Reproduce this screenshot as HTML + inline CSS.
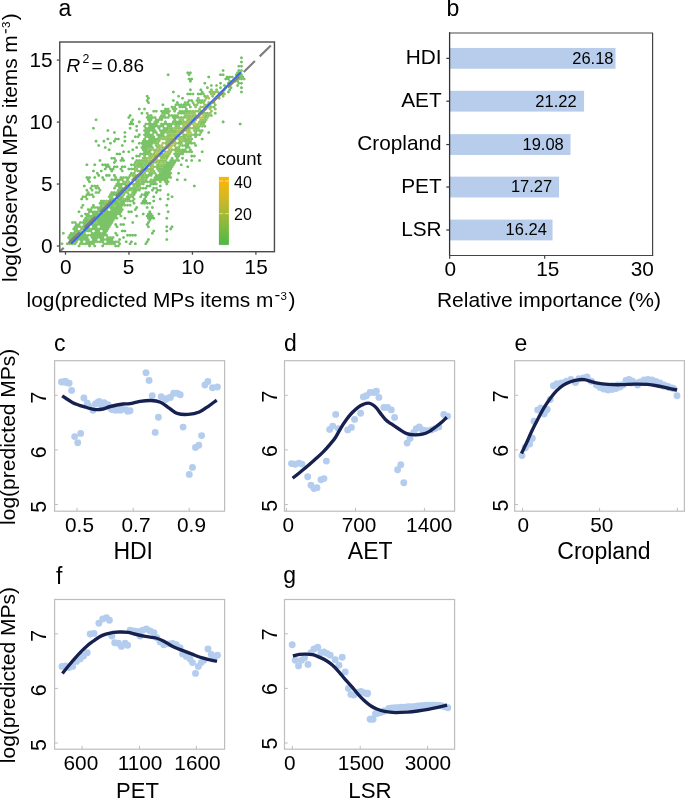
<!DOCTYPE html>
<html><head><meta charset="utf-8"><style>
html,body{margin:0;padding:0;background:#fff;}
svg{display:block;will-change:transform;}
text{font-family:"Liberation Sans", sans-serif;fill:#000;}
</style></head><body>
<svg width="685" height="800" viewBox="0 0 685 800">
<rect width="685" height="800" fill="#fff"/>
<path d="M168.11,76.31l-1.39,-0.76 0.00,-1.51 1.39,-0.76 1.39,0.76 0.00,1.51zM187.76,74.17l-1.39,-0.76 0.00,-1.51 1.39,-0.76 1.39,0.76 0.00,1.51zM190.38,74.17l-1.39,-0.76 0.00,-1.51 1.39,-0.76 1.39,0.76 0.00,1.51zM189.07,76.31l-1.39,-0.76 0.00,-1.51 1.39,-0.76 1.39,0.76 0.00,1.51zM189.07,80.59l-1.39,-0.76 0.00,-1.51 1.39,-0.76 1.39,0.76 0.00,1.51zM191.69,80.59l-1.39,-0.76 0.00,-1.51 1.39,-0.76 1.39,0.76 0.00,1.51zM190.38,82.73l-1.39,-0.76 0.00,-1.51 1.39,-0.76 1.39,0.76 0.00,1.51zM190.38,91.29l-1.39,-0.76 0.00,-1.51 1.39,-0.76 1.39,0.76 0.00,1.51zM187.76,95.57l-1.39,-0.76 0.00,-1.51 1.39,-0.76 1.39,0.76 0.00,1.51zM190.38,95.57l-1.39,-0.76 0.00,-1.51 1.39,-0.76 1.39,0.76 0.00,1.51zM173.35,93.43l-1.39,-0.76 0.00,-1.51 1.39,-0.76 1.39,0.76 0.00,1.51zM147.15,97.71l-1.39,-0.76 0.00,-1.51 1.39,-0.76 1.39,0.76 0.00,1.51zM148.46,99.85l-1.39,-0.76 0.00,-1.51 1.39,-0.76 1.39,0.76 0.00,1.51zM147.15,101.99l-1.39,-0.76 0.00,-1.51 1.39,-0.76 1.39,0.76 0.00,1.51zM148.46,104.13l-1.39,-0.76 0.00,-1.51 1.39,-0.76 1.39,0.76 0.00,1.51zM139.29,110.55l-1.39,-0.76 0.00,-1.51 1.39,-0.76 1.39,0.76 0.00,1.51zM162.87,106.27l-1.39,-0.76 0.00,-1.51 1.39,-0.76 1.39,0.76 0.00,1.51zM173.35,101.99l-1.39,-0.76 0.00,-1.51 1.39,-0.76 1.39,0.76 0.00,1.51zM172.04,108.41l-1.39,-0.76 0.00,-1.51 1.39,-0.76 1.39,0.76 0.00,1.51zM161.56,112.69l-1.39,-0.76 0.00,-1.51 1.39,-0.76 1.39,0.76 0.00,1.51zM182.52,99.85l-1.39,-0.76 0.00,-1.51 1.39,-0.76 1.39,0.76 0.00,1.51zM189.07,101.99l-1.39,-0.76 0.00,-1.51 1.39,-0.76 1.39,0.76 0.00,1.51zM191.69,101.99l-1.39,-0.76 0.00,-1.51 1.39,-0.76 1.39,0.76 0.00,1.51zM187.76,104.13l-1.39,-0.76 0.00,-1.51 1.39,-0.76 1.39,0.76 0.00,1.51zM200.86,91.29l-1.39,-0.76 0.00,-1.51 1.39,-0.76 1.39,0.76 0.00,1.51zM202.17,93.43l-1.39,-0.76 0.00,-1.51 1.39,-0.76 1.39,0.76 0.00,1.51zM198.24,95.57l-1.39,-0.76 0.00,-1.51 1.39,-0.76 1.39,0.76 0.00,1.51zM200.86,95.57l-1.39,-0.76 0.00,-1.51 1.39,-0.76 1.39,0.76 0.00,1.51zM199.55,101.99l-1.39,-0.76 0.00,-1.51 1.39,-0.76 1.39,0.76 0.00,1.51zM177.28,104.13l-1.39,-0.76 0.00,-1.51 1.39,-0.76 1.39,0.76 0.00,1.51zM178.59,106.27l-1.39,-0.76 0.00,-1.51 1.39,-0.76 1.39,0.76 0.00,1.51zM183.83,106.27l-1.39,-0.76 0.00,-1.51 1.39,-0.76 1.39,0.76 0.00,1.51zM241.47,59.19l-1.39,-0.76 0.00,-1.51 1.39,-0.76 1.39,0.76 0.00,1.51zM241.47,63.47l-1.39,-0.76 0.00,-1.51 1.39,-0.76 1.39,0.76 0.00,1.51zM241.47,67.75l-1.39,-0.76 0.00,-1.51 1.39,-0.76 1.39,0.76 0.00,1.51zM238.85,72.03l-1.39,-0.76 0.00,-1.51 1.39,-0.76 1.39,0.76 0.00,1.51zM241.47,80.59l-1.39,-0.76 0.00,-1.51 1.39,-0.76 1.39,0.76 0.00,1.51zM238.85,84.87l-1.39,-0.76 0.00,-1.51 1.39,-0.76 1.39,0.76 0.00,1.51zM241.47,84.87l-1.39,-0.76 0.00,-1.51 1.39,-0.76 1.39,0.76 0.00,1.51zM241.47,89.15l-1.39,-0.76 0.00,-1.51 1.39,-0.76 1.39,0.76 0.00,1.51zM241.47,93.43l-1.39,-0.76 0.00,-1.51 1.39,-0.76 1.39,0.76 0.00,1.51zM223.13,72.03l-1.39,-0.76 0.00,-1.51 1.39,-0.76 1.39,0.76 0.00,1.51zM220.51,76.31l-1.39,-0.76 0.00,-1.51 1.39,-0.76 1.39,0.76 0.00,1.51zM223.13,76.31l-1.39,-0.76 0.00,-1.51 1.39,-0.76 1.39,0.76 0.00,1.51zM208.72,78.45l-1.39,-0.76 0.00,-1.51 1.39,-0.76 1.39,0.76 0.00,1.51zM204.79,84.87l-1.39,-0.76 0.00,-1.51 1.39,-0.76 1.39,0.76 0.00,1.51zM207.41,89.15l-1.39,-0.76 0.00,-1.51 1.39,-0.76 1.39,0.76 0.00,1.51zM220.51,84.87l-1.39,-0.76 0.00,-1.51 1.39,-0.76 1.39,0.76 0.00,1.51zM224.44,87.01l-1.39,-0.76 0.00,-1.51 1.39,-0.76 1.39,0.76 0.00,1.51zM225.75,80.59l-1.39,-0.76 0.00,-1.51 1.39,-0.76 1.39,0.76 0.00,1.51zM227.06,78.45l-1.39,-0.76 0.00,-1.51 1.39,-0.76 1.39,0.76 0.00,1.51zM229.68,78.45l-1.39,-0.76 0.00,-1.51 1.39,-0.76 1.39,0.76 0.00,1.51zM228.37,80.59l-1.39,-0.76 0.00,-1.51 1.39,-0.76 1.39,0.76 0.00,1.51zM228.37,84.87l-1.39,-0.76 0.00,-1.51 1.39,-0.76 1.39,0.76 0.00,1.51zM230.99,89.15l-1.39,-0.76 0.00,-1.51 1.39,-0.76 1.39,0.76 0.00,1.51zM229.68,91.29l-1.39,-0.76 0.00,-1.51 1.39,-0.76 1.39,0.76 0.00,1.51zM228.37,93.43l-1.39,-0.76 0.00,-1.51 1.39,-0.76 1.39,0.76 0.00,1.51zM204.79,97.71l-1.39,-0.76 0.00,-1.51 1.39,-0.76 1.39,0.76 0.00,1.51zM96.06,121.25l-1.39,-0.76 0.00,-1.51 1.39,-0.76 1.39,0.76 0.00,1.51zM93.44,129.81l-1.39,-0.76 0.00,-1.51 1.39,-0.76 1.39,0.76 0.00,1.51zM107.85,131.95l-1.39,-0.76 0.00,-1.51 1.39,-0.76 1.39,0.76 0.00,1.51zM114.40,134.09l-1.39,-0.76 0.00,-1.51 1.39,-0.76 1.39,0.76 0.00,1.51zM124.88,134.09l-1.39,-0.76 0.00,-1.51 1.39,-0.76 1.39,0.76 0.00,1.51zM124.88,138.37l-1.39,-0.76 0.00,-1.51 1.39,-0.76 1.39,0.76 0.00,1.51zM124.88,142.65l-1.39,-0.76 0.00,-1.51 1.39,-0.76 1.39,0.76 0.00,1.51zM107.85,140.51l-1.39,-0.76 0.00,-1.51 1.39,-0.76 1.39,0.76 0.00,1.51zM96.06,142.65l-1.39,-0.76 0.00,-1.51 1.39,-0.76 1.39,0.76 0.00,1.51zM103.92,142.65l-1.39,-0.76 0.00,-1.51 1.39,-0.76 1.39,0.76 0.00,1.51zM98.68,146.93l-1.39,-0.76 0.00,-1.51 1.39,-0.76 1.39,0.76 0.00,1.51zM105.23,149.07l-1.39,-0.76 0.00,-1.51 1.39,-0.76 1.39,0.76 0.00,1.51zM109.16,151.21l-1.39,-0.76 0.00,-1.51 1.39,-0.76 1.39,0.76 0.00,1.51zM110.47,144.79l-1.39,-0.76 0.00,-1.51 1.39,-0.76 1.39,0.76 0.00,1.51zM114.40,142.65l-1.39,-0.76 0.00,-1.51 1.39,-0.76 1.39,0.76 0.00,1.51zM115.71,140.51l-1.39,-0.76 0.00,-1.51 1.39,-0.76 1.39,0.76 0.00,1.51zM118.33,140.51l-1.39,-0.76 0.00,-1.51 1.39,-0.76 1.39,0.76 0.00,1.51zM122.26,146.93l-1.39,-0.76 0.00,-1.51 1.39,-0.76 1.39,0.76 0.00,1.51zM117.02,155.49l-1.39,-0.76 0.00,-1.51 1.39,-0.76 1.39,0.76 0.00,1.51zM119.64,155.49l-1.39,-0.76 0.00,-1.51 1.39,-0.76 1.39,0.76 0.00,1.51zM123.57,153.35l-1.39,-0.76 0.00,-1.51 1.39,-0.76 1.39,0.76 0.00,1.51zM128.81,153.35l-1.39,-0.76 0.00,-1.51 1.39,-0.76 1.39,0.76 0.00,1.51zM99.99,161.91l-1.39,-0.76 0.00,-1.51 1.39,-0.76 1.39,0.76 0.00,1.51zM111.78,159.77l-1.39,-0.76 0.00,-1.51 1.39,-0.76 1.39,0.76 0.00,1.51zM114.40,159.77l-1.39,-0.76 0.00,-1.51 1.39,-0.76 1.39,0.76 0.00,1.51zM115.71,161.91l-1.39,-0.76 0.00,-1.51 1.39,-0.76 1.39,0.76 0.00,1.51zM114.40,164.05l-1.39,-0.76 0.00,-1.51 1.39,-0.76 1.39,0.76 0.00,1.51zM120.95,161.91l-1.39,-0.76 0.00,-1.51 1.39,-0.76 1.39,0.76 0.00,1.51zM122.26,159.77l-1.39,-0.76 0.00,-1.51 1.39,-0.76 1.39,0.76 0.00,1.51zM123.57,161.91l-1.39,-0.76 0.00,-1.51 1.39,-0.76 1.39,0.76 0.00,1.51zM86.89,166.19l-1.39,-0.76 0.00,-1.51 1.39,-0.76 1.39,0.76 0.00,1.51zM94.75,166.19l-1.39,-0.76 0.00,-1.51 1.39,-0.76 1.39,0.76 0.00,1.51zM102.61,166.19l-1.39,-0.76 0.00,-1.51 1.39,-0.76 1.39,0.76 0.00,1.51zM105.23,166.19l-1.39,-0.76 0.00,-1.51 1.39,-0.76 1.39,0.76 0.00,1.51zM106.54,168.33l-1.39,-0.76 0.00,-1.51 1.39,-0.76 1.39,0.76 0.00,1.51zM107.85,166.19l-1.39,-0.76 0.00,-1.51 1.39,-0.76 1.39,0.76 0.00,1.51zM109.16,168.33l-1.39,-0.76 0.00,-1.51 1.39,-0.76 1.39,0.76 0.00,1.51zM110.47,170.47l-1.39,-0.76 0.00,-1.51 1.39,-0.76 1.39,0.76 0.00,1.51zM113.09,170.47l-1.39,-0.76 0.00,-1.51 1.39,-0.76 1.39,0.76 0.00,1.51zM114.40,168.33l-1.39,-0.76 0.00,-1.51 1.39,-0.76 1.39,0.76 0.00,1.51zM117.02,168.33l-1.39,-0.76 0.00,-1.51 1.39,-0.76 1.39,0.76 0.00,1.51zM105.23,170.47l-1.39,-0.76 0.00,-1.51 1.39,-0.76 1.39,0.76 0.00,1.51zM111.78,172.61l-1.39,-0.76 0.00,-1.51 1.39,-0.76 1.39,0.76 0.00,1.51zM120.95,170.47l-1.39,-0.76 0.00,-1.51 1.39,-0.76 1.39,0.76 0.00,1.51zM122.26,168.33l-1.39,-0.76 0.00,-1.51 1.39,-0.76 1.39,0.76 0.00,1.51zM124.88,168.33l-1.39,-0.76 0.00,-1.51 1.39,-0.76 1.39,0.76 0.00,1.51zM128.81,170.47l-1.39,-0.76 0.00,-1.51 1.39,-0.76 1.39,0.76 0.00,1.51zM93.44,172.61l-1.39,-0.76 0.00,-1.51 1.39,-0.76 1.39,0.76 0.00,1.51zM101.30,172.61l-1.39,-0.76 0.00,-1.51 1.39,-0.76 1.39,0.76 0.00,1.51zM97.37,174.75l-1.39,-0.76 0.00,-1.51 1.39,-0.76 1.39,0.76 0.00,1.51zM98.68,176.89l-1.39,-0.76 0.00,-1.51 1.39,-0.76 1.39,0.76 0.00,1.51zM102.61,179.03l-1.39,-0.76 0.00,-1.51 1.39,-0.76 1.39,0.76 0.00,1.51zM103.92,181.17l-1.39,-0.76 0.00,-1.51 1.39,-0.76 1.39,0.76 0.00,1.51zM106.54,176.89l-1.39,-0.76 0.00,-1.51 1.39,-0.76 1.39,0.76 0.00,1.51zM109.16,176.89l-1.39,-0.76 0.00,-1.51 1.39,-0.76 1.39,0.76 0.00,1.51zM114.40,176.89l-1.39,-0.76 0.00,-1.51 1.39,-0.76 1.39,0.76 0.00,1.51zM115.71,179.03l-1.39,-0.76 0.00,-1.51 1.39,-0.76 1.39,0.76 0.00,1.51zM111.78,181.17l-1.39,-0.76 0.00,-1.51 1.39,-0.76 1.39,0.76 0.00,1.51zM86.89,179.03l-1.39,-0.76 0.00,-1.51 1.39,-0.76 1.39,0.76 0.00,1.51zM88.20,181.17l-1.39,-0.76 0.00,-1.51 1.39,-0.76 1.39,0.76 0.00,1.51zM89.51,179.03l-1.39,-0.76 0.00,-1.51 1.39,-0.76 1.39,0.76 0.00,1.51zM94.75,179.03l-1.39,-0.76 0.00,-1.51 1.39,-0.76 1.39,0.76 0.00,1.51zM130.12,116.97l-1.39,-0.76 0.00,-1.51 1.39,-0.76 1.39,0.76 0.00,1.51zM131.43,123.39l-1.39,-0.76 0.00,-1.51 1.39,-0.76 1.39,0.76 0.00,1.51zM130.12,129.81l-1.39,-0.76 0.00,-1.51 1.39,-0.76 1.39,0.76 0.00,1.51zM131.43,166.19l-1.39,-0.76 0.00,-1.51 1.39,-0.76 1.39,0.76 0.00,1.51zM131.43,174.75l-1.39,-0.76 0.00,-1.51 1.39,-0.76 1.39,0.76 0.00,1.51zM128.81,119.11l-1.39,-0.76 0.00,-1.51 1.39,-0.76 1.39,0.76 0.00,1.51zM132.74,125.53l-1.39,-0.76 0.00,-1.51 1.39,-0.76 1.39,0.76 0.00,1.51zM130.12,125.53l-1.39,-0.76 0.00,-1.51 1.39,-0.76 1.39,0.76 0.00,1.51zM132.74,121.25l-1.39,-0.76 0.00,-1.51 1.39,-0.76 1.39,0.76 0.00,1.51zM136.67,127.67l-1.39,-0.76 0.00,-1.51 1.39,-0.76 1.39,0.76 0.00,1.51zM136.67,131.95l-1.39,-0.76 0.00,-1.51 1.39,-0.76 1.39,0.76 0.00,1.51zM135.36,138.37l-1.39,-0.76 0.00,-1.51 1.39,-0.76 1.39,0.76 0.00,1.51zM139.29,136.23l-1.39,-0.76 0.00,-1.51 1.39,-0.76 1.39,0.76 0.00,1.51zM132.74,142.65l-1.39,-0.76 0.00,-1.51 1.39,-0.76 1.39,0.76 0.00,1.51zM139.29,144.79l-1.39,-0.76 0.00,-1.51 1.39,-0.76 1.39,0.76 0.00,1.51zM136.67,149.07l-1.39,-0.76 0.00,-1.51 1.39,-0.76 1.39,0.76 0.00,1.51zM132.74,151.21l-1.39,-0.76 0.00,-1.51 1.39,-0.76 1.39,0.76 0.00,1.51zM136.67,157.63l-1.39,-0.76 0.00,-1.51 1.39,-0.76 1.39,0.76 0.00,1.51zM132.74,159.77l-1.39,-0.76 0.00,-1.51 1.39,-0.76 1.39,0.76 0.00,1.51zM141.91,114.83l-1.39,-0.76 0.00,-1.51 1.39,-0.76 1.39,0.76 0.00,1.51zM151.08,116.97l-1.39,-0.76 0.00,-1.51 1.39,-0.76 1.39,0.76 0.00,1.51zM162.87,114.83l-1.39,-0.76 0.00,-1.51 1.39,-0.76 1.39,0.76 0.00,1.51zM199.55,136.23l-1.39,-0.76 0.00,-1.51 1.39,-0.76 1.39,0.76 0.00,1.51zM202.17,140.51l-1.39,-0.76 0.00,-1.51 1.39,-0.76 1.39,0.76 0.00,1.51zM202.17,153.35l-1.39,-0.76 0.00,-1.51 1.39,-0.76 1.39,0.76 0.00,1.51zM191.69,157.63l-1.39,-0.76 0.00,-1.51 1.39,-0.76 1.39,0.76 0.00,1.51zM191.69,161.91l-1.39,-0.76 0.00,-1.51 1.39,-0.76 1.39,0.76 0.00,1.51zM199.55,161.91l-1.39,-0.76 0.00,-1.51 1.39,-0.76 1.39,0.76 0.00,1.51zM182.52,159.77l-1.39,-0.76 0.00,-1.51 1.39,-0.76 1.39,0.76 0.00,1.51zM186.45,161.91l-1.39,-0.76 0.00,-1.51 1.39,-0.76 1.39,0.76 0.00,1.51zM187.76,168.33l-1.39,-0.76 0.00,-1.51 1.39,-0.76 1.39,0.76 0.00,1.51zM178.59,174.75l-1.39,-0.76 0.00,-1.51 1.39,-0.76 1.39,0.76 0.00,1.51zM177.28,181.17l-1.39,-0.76 0.00,-1.51 1.39,-0.76 1.39,0.76 0.00,1.51zM185.14,181.17l-1.39,-0.76 0.00,-1.51 1.39,-0.76 1.39,0.76 0.00,1.51zM181.21,166.19l-1.39,-0.76 0.00,-1.51 1.39,-0.76 1.39,0.76 0.00,1.51zM215.27,114.83l-1.39,-0.76 0.00,-1.51 1.39,-0.76 1.39,0.76 0.00,1.51zM206.10,116.97l-1.39,-0.76 0.00,-1.51 1.39,-0.76 1.39,0.76 0.00,1.51zM204.79,127.67l-1.39,-0.76 0.00,-1.51 1.39,-0.76 1.39,0.76 0.00,1.51zM223.13,123.39l-1.39,-0.76 0.00,-1.51 1.39,-0.76 1.39,0.76 0.00,1.51zM240.16,125.53l-1.39,-0.76 0.00,-1.51 1.39,-0.76 1.39,0.76 0.00,1.51zM208.72,134.09l-1.39,-0.76 0.00,-1.51 1.39,-0.76 1.39,0.76 0.00,1.51zM84.27,187.59l-1.39,-0.76 0.00,-1.51 1.39,-0.76 1.39,0.76 0.00,1.51zM92.13,187.59l-1.39,-0.76 0.00,-1.51 1.39,-0.76 1.39,0.76 0.00,1.51zM86.89,191.87l-1.39,-0.76 0.00,-1.51 1.39,-0.76 1.39,0.76 0.00,1.51zM98.68,189.73l-1.39,-0.76 0.00,-1.51 1.39,-0.76 1.39,0.76 0.00,1.51zM81.65,200.43l-1.39,-0.76 0.00,-1.51 1.39,-0.76 1.39,0.76 0.00,1.51zM82.96,206.85l-1.39,-0.76 0.00,-1.51 1.39,-0.76 1.39,0.76 0.00,1.51zM79.03,213.27l-1.39,-0.76 0.00,-1.51 1.39,-0.76 1.39,0.76 0.00,1.51zM81.65,217.55l-1.39,-0.76 0.00,-1.51 1.39,-0.76 1.39,0.76 0.00,1.51zM85.58,215.41l-1.39,-0.76 0.00,-1.51 1.39,-0.76 1.39,0.76 0.00,1.51zM89.51,183.31l-1.39,-0.76 0.00,-1.51 1.39,-0.76 1.39,0.76 0.00,1.51zM115.71,226.11l-1.39,-0.76 0.00,-1.51 1.39,-0.76 1.39,0.76 0.00,1.51zM117.02,228.25l-1.39,-0.76 0.00,-1.51 1.39,-0.76 1.39,0.76 0.00,1.51zM120.95,226.11l-1.39,-0.76 0.00,-1.51 1.39,-0.76 1.39,0.76 0.00,1.51zM123.57,226.11l-1.39,-0.76 0.00,-1.51 1.39,-0.76 1.39,0.76 0.00,1.51zM122.26,232.53l-1.39,-0.76 0.00,-1.51 1.39,-0.76 1.39,0.76 0.00,1.51zM124.88,232.53l-1.39,-0.76 0.00,-1.51 1.39,-0.76 1.39,0.76 0.00,1.51zM124.88,219.69l-1.39,-0.76 0.00,-1.51 1.39,-0.76 1.39,0.76 0.00,1.51zM128.81,213.27l-1.39,-0.76 0.00,-1.51 1.39,-0.76 1.39,0.76 0.00,1.51zM127.50,206.85l-1.39,-0.76 0.00,-1.51 1.39,-0.76 1.39,0.76 0.00,1.51zM123.57,238.95l-1.39,-0.76 0.00,-1.51 1.39,-0.76 1.39,0.76 0.00,1.51zM127.50,236.81l-1.39,-0.76 0.00,-1.51 1.39,-0.76 1.39,0.76 0.00,1.51zM130.12,236.81l-1.39,-0.76 0.00,-1.51 1.39,-0.76 1.39,0.76 0.00,1.51zM126.19,243.23l-1.39,-0.76 0.00,-1.51 1.39,-0.76 1.39,0.76 0.00,1.51zM130.12,245.37l-1.39,-0.76 0.00,-1.51 1.39,-0.76 1.39,0.76 0.00,1.51zM117.02,236.81l-1.39,-0.76 0.00,-1.51 1.39,-0.76 1.39,0.76 0.00,1.51zM119.64,245.37l-1.39,-0.76 0.00,-1.51 1.39,-0.76 1.39,0.76 0.00,1.51zM119.64,241.09l-1.39,-0.76 0.00,-1.51 1.39,-0.76 1.39,0.76 0.00,1.51zM160.25,187.59l-1.39,-0.76 0.00,-1.51 1.39,-0.76 1.39,0.76 0.00,1.51zM194.31,187.59l-1.39,-0.76 0.00,-1.51 1.39,-0.76 1.39,0.76 0.00,1.51zM168.11,196.15l-1.39,-0.76 0.00,-1.51 1.39,-0.76 1.39,0.76 0.00,1.51zM172.04,198.29l-1.39,-0.76 0.00,-1.51 1.39,-0.76 1.39,0.76 0.00,1.51zM168.11,200.43l-1.39,-0.76 0.00,-1.51 1.39,-0.76 1.39,0.76 0.00,1.51zM160.25,200.43l-1.39,-0.76 0.00,-1.51 1.39,-0.76 1.39,0.76 0.00,1.51zM153.70,198.29l-1.39,-0.76 0.00,-1.51 1.39,-0.76 1.39,0.76 0.00,1.51zM166.80,206.85l-1.39,-0.76 0.00,-1.51 1.39,-0.76 1.39,0.76 0.00,1.51zM168.11,213.27l-1.39,-0.76 0.00,-1.51 1.39,-0.76 1.39,0.76 0.00,1.51zM166.80,219.69l-1.39,-0.76 0.00,-1.51 1.39,-0.76 1.39,0.76 0.00,1.51zM158.94,215.41l-1.39,-0.76 0.00,-1.51 1.39,-0.76 1.39,0.76 0.00,1.51zM143.22,215.41l-1.39,-0.76 0.00,-1.51 1.39,-0.76 1.39,0.76 0.00,1.51zM136.67,217.55l-1.39,-0.76 0.00,-1.51 1.39,-0.76 1.39,0.76 0.00,1.51zM166.80,228.25l-1.39,-0.76 0.00,-1.51 1.39,-0.76 1.39,0.76 0.00,1.51zM172.04,228.25l-1.39,-0.76 0.00,-1.51 1.39,-0.76 1.39,0.76 0.00,1.51zM170.73,230.39l-1.39,-0.76 0.00,-1.51 1.39,-0.76 1.39,0.76 0.00,1.51zM166.80,232.53l-1.39,-0.76 0.00,-1.51 1.39,-0.76 1.39,0.76 0.00,1.51zM153.70,232.53l-1.39,-0.76 0.00,-1.51 1.39,-0.76 1.39,0.76 0.00,1.51zM152.39,234.67l-1.39,-0.76 0.00,-1.51 1.39,-0.76 1.39,0.76 0.00,1.51zM132.74,236.81l-1.39,-0.76 0.00,-1.51 1.39,-0.76 1.39,0.76 0.00,1.51zM135.36,236.81l-1.39,-0.76 0.00,-1.51 1.39,-0.76 1.39,0.76 0.00,1.51zM166.80,241.09l-1.39,-0.76 0.00,-1.51 1.39,-0.76 1.39,0.76 0.00,1.51zM148.46,241.09l-1.39,-0.76 0.00,-1.51 1.39,-0.76 1.39,0.76 0.00,1.51zM147.15,243.23l-1.39,-0.76 0.00,-1.51 1.39,-0.76 1.39,0.76 0.00,1.51zM145.84,245.37l-1.39,-0.76 0.00,-1.51 1.39,-0.76 1.39,0.76 0.00,1.51zM135.36,245.37l-1.39,-0.76 0.00,-1.51 1.39,-0.76 1.39,0.76 0.00,1.51zM131.43,243.23l-1.39,-0.76 0.00,-1.51 1.39,-0.76 1.39,0.76 0.00,1.51zM132.74,223.97l-1.39,-0.76 0.00,-1.51 1.39,-0.76 1.39,0.76 0.00,1.51zM131.43,213.27l-1.39,-0.76 0.00,-1.51 1.39,-0.76 1.39,0.76 0.00,1.51zM132.74,202.57l-1.39,-0.76 0.00,-1.51 1.39,-0.76 1.39,0.76 0.00,1.51zM134.05,204.71l-1.39,-0.76 0.00,-1.51 1.39,-0.76 1.39,0.76 0.00,1.51zM136.67,208.99l-1.39,-0.76 0.00,-1.51 1.39,-0.76 1.39,0.76 0.00,1.51zM135.36,211.13l-1.39,-0.76 0.00,-1.51 1.39,-0.76 1.39,0.76 0.00,1.51zM143.22,189.73l-1.39,-0.76 0.00,-1.51 1.39,-0.76 1.39,0.76 0.00,1.51zM145.84,189.73l-1.39,-0.76 0.00,-1.51 1.39,-0.76 1.39,0.76 0.00,1.51zM147.15,187.59l-1.39,-0.76 0.00,-1.51 1.39,-0.76 1.39,0.76 0.00,1.51zM149.77,187.59l-1.39,-0.76 0.00,-1.51 1.39,-0.76 1.39,0.76 0.00,1.51zM151.08,185.45l-1.39,-0.76 0.00,-1.51 1.39,-0.76 1.39,0.76 0.00,1.51zM153.70,185.45l-1.39,-0.76 0.00,-1.51 1.39,-0.76 1.39,0.76 0.00,1.51zM153.70,189.73l-1.39,-0.76 0.00,-1.51 1.39,-0.76 1.39,0.76 0.00,1.51zM152.39,191.87l-1.39,-0.76 0.00,-1.51 1.39,-0.76 1.39,0.76 0.00,1.51zM156.32,194.01l-1.39,-0.76 0.00,-1.51 1.39,-0.76 1.39,0.76 0.00,1.51zM157.63,191.87l-1.39,-0.76 0.00,-1.51 1.39,-0.76 1.39,0.76 0.00,1.51zM160.25,191.87l-1.39,-0.76 0.00,-1.51 1.39,-0.76 1.39,0.76 0.00,1.51zM144.53,196.15l-1.39,-0.76 0.00,-1.51 1.39,-0.76 1.39,0.76 0.00,1.51zM145.84,198.29l-1.39,-0.76 0.00,-1.51 1.39,-0.76 1.39,0.76 0.00,1.51zM145.84,202.57l-1.39,-0.76 0.00,-1.51 1.39,-0.76 1.39,0.76 0.00,1.51zM147.15,204.71l-1.39,-0.76 0.00,-1.51 1.39,-0.76 1.39,0.76 0.00,1.51zM141.91,204.71l-1.39,-0.76 0.00,-1.51 1.39,-0.76 1.39,0.76 0.00,1.51zM144.53,204.71l-1.39,-0.76 0.00,-1.51 1.39,-0.76 1.39,0.76 0.00,1.51zM149.77,204.71l-1.39,-0.76 0.00,-1.51 1.39,-0.76 1.39,0.76 0.00,1.51zM153.70,202.57l-1.39,-0.76 0.00,-1.51 1.39,-0.76 1.39,0.76 0.00,1.51zM147.15,208.99l-1.39,-0.76 0.00,-1.51 1.39,-0.76 1.39,0.76 0.00,1.51zM152.39,208.99l-1.39,-0.76 0.00,-1.51 1.39,-0.76 1.39,0.76 0.00,1.51zM149.77,213.27l-1.39,-0.76 0.00,-1.51 1.39,-0.76 1.39,0.76 0.00,1.51zM148.46,215.41l-1.39,-0.76 0.00,-1.51 1.39,-0.76 1.39,0.76 0.00,1.51zM151.08,215.41l-1.39,-0.76 0.00,-1.51 1.39,-0.76 1.39,0.76 0.00,1.51zM152.39,217.55l-1.39,-0.76 0.00,-1.51 1.39,-0.76 1.39,0.76 0.00,1.51zM153.70,219.69l-1.39,-0.76 0.00,-1.51 1.39,-0.76 1.39,0.76 0.00,1.51zM148.46,219.69l-1.39,-0.76 0.00,-1.51 1.39,-0.76 1.39,0.76 0.00,1.51zM149.77,221.83l-1.39,-0.76 0.00,-1.51 1.39,-0.76 1.39,0.76 0.00,1.51zM148.46,223.97l-1.39,-0.76 0.00,-1.51 1.39,-0.76 1.39,0.76 0.00,1.51zM147.15,226.11l-1.39,-0.76 0.00,-1.51 1.39,-0.76 1.39,0.76 0.00,1.51zM148.46,228.25l-1.39,-0.76 0.00,-1.51 1.39,-0.76 1.39,0.76 0.00,1.51zM147.15,217.55l-1.39,-0.76 0.00,-1.51 1.39,-0.76 1.39,0.76 0.00,1.51zM151.08,219.69l-1.39,-0.76 0.00,-1.51 1.39,-0.76 1.39,0.76 0.00,1.51zM149.77,217.55l-1.39,-0.76 0.00,-1.51 1.39,-0.76 1.39,0.76 0.00,1.51zM148.46,194.01l-1.39,-0.76 0.00,-1.51 1.39,-0.76 1.39,0.76 0.00,1.51zM145.84,194.01l-1.39,-0.76 0.00,-1.51 1.39,-0.76 1.39,0.76 0.00,1.51zM147.15,196.15l-1.39,-0.76 0.00,-1.51 1.39,-0.76 1.39,0.76 0.00,1.51zM144.53,200.43l-1.39,-0.76 0.00,-1.51 1.39,-0.76 1.39,0.76 0.00,1.51zM143.22,202.57l-1.39,-0.76 0.00,-1.51 1.39,-0.76 1.39,0.76 0.00,1.51z" fill="#6fc164"/>
<path d="M79.03,247.51l-1.39,-0.76 0.00,-1.51 1.39,-0.76 1.39,0.76 0.00,1.51zM89.51,247.51l-1.39,-0.76 0.00,-1.51 1.39,-0.76 1.39,0.76 0.00,1.51zM94.75,247.51l-1.39,-0.76 0.00,-1.51 1.39,-0.76 1.39,0.76 0.00,1.51zM102.61,247.51l-1.39,-0.76 0.00,-1.51 1.39,-0.76 1.39,0.76 0.00,1.51zM115.71,247.51l-1.39,-0.76 0.00,-1.51 1.39,-0.76 1.39,0.76 0.00,1.51zM118.33,247.51l-1.39,-0.76 0.00,-1.51 1.39,-0.76 1.39,0.76 0.00,1.51zM62.00,245.37l-1.39,-0.76 0.00,-1.51 1.39,-0.76 1.39,0.76 0.00,1.51zM67.24,245.37l-1.39,-0.76 0.00,-1.51 1.39,-0.76 1.39,0.76 0.00,1.51zM69.86,245.37l-1.39,-0.76 0.00,-1.51 1.39,-0.76 1.39,0.76 0.00,1.51zM75.10,245.37l-1.39,-0.76 0.00,-1.51 1.39,-0.76 1.39,0.76 0.00,1.51zM80.34,245.37l-1.39,-0.76 0.00,-1.51 1.39,-0.76 1.39,0.76 0.00,1.51zM82.96,245.37l-1.39,-0.76 0.00,-1.51 1.39,-0.76 1.39,0.76 0.00,1.51zM85.58,245.37l-1.39,-0.76 0.00,-1.51 1.39,-0.76 1.39,0.76 0.00,1.51zM88.20,245.37l-1.39,-0.76 0.00,-1.51 1.39,-0.76 1.39,0.76 0.00,1.51zM90.82,245.37l-1.39,-0.76 0.00,-1.51 1.39,-0.76 1.39,0.76 0.00,1.51zM93.44,245.37l-1.39,-0.76 0.00,-1.51 1.39,-0.76 1.39,0.76 0.00,1.51zM103.92,245.37l-1.39,-0.76 0.00,-1.51 1.39,-0.76 1.39,0.76 0.00,1.51zM106.54,245.37l-1.39,-0.76 0.00,-1.51 1.39,-0.76 1.39,0.76 0.00,1.51zM109.16,245.37l-1.39,-0.76 0.00,-1.51 1.39,-0.76 1.39,0.76 0.00,1.51zM111.78,245.37l-1.39,-0.76 0.00,-1.51 1.39,-0.76 1.39,0.76 0.00,1.51zM114.40,245.37l-1.39,-0.76 0.00,-1.51 1.39,-0.76 1.39,0.76 0.00,1.51zM71.17,243.23l-1.39,-0.76 0.00,-1.51 1.39,-0.76 1.39,0.76 0.00,1.51zM76.41,243.23l-1.39,-0.76 0.00,-1.51 1.39,-0.76 1.39,0.76 0.00,1.51zM81.65,243.23l-1.39,-0.76 0.00,-1.51 1.39,-0.76 1.39,0.76 0.00,1.51zM86.89,243.23l-1.39,-0.76 0.00,-1.51 1.39,-0.76 1.39,0.76 0.00,1.51zM89.51,243.23l-1.39,-0.76 0.00,-1.51 1.39,-0.76 1.39,0.76 0.00,1.51zM92.13,243.23l-1.39,-0.76 0.00,-1.51 1.39,-0.76 1.39,0.76 0.00,1.51zM94.75,243.23l-1.39,-0.76 0.00,-1.51 1.39,-0.76 1.39,0.76 0.00,1.51zM97.37,243.23l-1.39,-0.76 0.00,-1.51 1.39,-0.76 1.39,0.76 0.00,1.51zM99.99,243.23l-1.39,-0.76 0.00,-1.51 1.39,-0.76 1.39,0.76 0.00,1.51zM102.61,243.23l-1.39,-0.76 0.00,-1.51 1.39,-0.76 1.39,0.76 0.00,1.51zM107.85,243.23l-1.39,-0.76 0.00,-1.51 1.39,-0.76 1.39,0.76 0.00,1.51zM110.47,243.23l-1.39,-0.76 0.00,-1.51 1.39,-0.76 1.39,0.76 0.00,1.51zM113.09,243.23l-1.39,-0.76 0.00,-1.51 1.39,-0.76 1.39,0.76 0.00,1.51zM115.71,243.23l-1.39,-0.76 0.00,-1.51 1.39,-0.76 1.39,0.76 0.00,1.51zM118.33,243.23l-1.39,-0.76 0.00,-1.51 1.39,-0.76 1.39,0.76 0.00,1.51zM69.86,241.09l-1.39,-0.76 0.00,-1.51 1.39,-0.76 1.39,0.76 0.00,1.51zM72.48,241.09l-1.39,-0.76 0.00,-1.51 1.39,-0.76 1.39,0.76 0.00,1.51zM75.10,241.09l-1.39,-0.76 0.00,-1.51 1.39,-0.76 1.39,0.76 0.00,1.51zM77.72,241.09l-1.39,-0.76 0.00,-1.51 1.39,-0.76 1.39,0.76 0.00,1.51zM80.34,241.09l-1.39,-0.76 0.00,-1.51 1.39,-0.76 1.39,0.76 0.00,1.51zM82.96,241.09l-1.39,-0.76 0.00,-1.51 1.39,-0.76 1.39,0.76 0.00,1.51zM85.58,241.09l-1.39,-0.76 0.00,-1.51 1.39,-0.76 1.39,0.76 0.00,1.51zM88.20,241.09l-1.39,-0.76 0.00,-1.51 1.39,-0.76 1.39,0.76 0.00,1.51zM93.44,241.09l-1.39,-0.76 0.00,-1.51 1.39,-0.76 1.39,0.76 0.00,1.51zM96.06,241.09l-1.39,-0.76 0.00,-1.51 1.39,-0.76 1.39,0.76 0.00,1.51zM101.30,241.09l-1.39,-0.76 0.00,-1.51 1.39,-0.76 1.39,0.76 0.00,1.51zM103.92,241.09l-1.39,-0.76 0.00,-1.51 1.39,-0.76 1.39,0.76 0.00,1.51zM106.54,241.09l-1.39,-0.76 0.00,-1.51 1.39,-0.76 1.39,0.76 0.00,1.51zM109.16,241.09l-1.39,-0.76 0.00,-1.51 1.39,-0.76 1.39,0.76 0.00,1.51zM111.78,241.09l-1.39,-0.76 0.00,-1.51 1.39,-0.76 1.39,0.76 0.00,1.51zM68.55,238.95l-1.39,-0.76 0.00,-1.51 1.39,-0.76 1.39,0.76 0.00,1.51zM71.17,238.95l-1.39,-0.76 0.00,-1.51 1.39,-0.76 1.39,0.76 0.00,1.51zM73.79,238.95l-1.39,-0.76 0.00,-1.51 1.39,-0.76 1.39,0.76 0.00,1.51zM76.41,238.95l-1.39,-0.76 0.00,-1.51 1.39,-0.76 1.39,0.76 0.00,1.51zM79.03,238.95l-1.39,-0.76 0.00,-1.51 1.39,-0.76 1.39,0.76 0.00,1.51zM81.65,238.95l-1.39,-0.76 0.00,-1.51 1.39,-0.76 1.39,0.76 0.00,1.51zM84.27,238.95l-1.39,-0.76 0.00,-1.51 1.39,-0.76 1.39,0.76 0.00,1.51zM86.89,238.95l-1.39,-0.76 0.00,-1.51 1.39,-0.76 1.39,0.76 0.00,1.51zM92.13,238.95l-1.39,-0.76 0.00,-1.51 1.39,-0.76 1.39,0.76 0.00,1.51zM94.75,238.95l-1.39,-0.76 0.00,-1.51 1.39,-0.76 1.39,0.76 0.00,1.51zM97.37,238.95l-1.39,-0.76 0.00,-1.51 1.39,-0.76 1.39,0.76 0.00,1.51zM99.99,238.95l-1.39,-0.76 0.00,-1.51 1.39,-0.76 1.39,0.76 0.00,1.51zM102.61,238.95l-1.39,-0.76 0.00,-1.51 1.39,-0.76 1.39,0.76 0.00,1.51zM107.85,238.95l-1.39,-0.76 0.00,-1.51 1.39,-0.76 1.39,0.76 0.00,1.51zM110.47,238.95l-1.39,-0.76 0.00,-1.51 1.39,-0.76 1.39,0.76 0.00,1.51zM113.09,238.95l-1.39,-0.76 0.00,-1.51 1.39,-0.76 1.39,0.76 0.00,1.51zM69.86,236.81l-1.39,-0.76 0.00,-1.51 1.39,-0.76 1.39,0.76 0.00,1.51zM72.48,236.81l-1.39,-0.76 0.00,-1.51 1.39,-0.76 1.39,0.76 0.00,1.51zM75.10,236.81l-1.39,-0.76 0.00,-1.51 1.39,-0.76 1.39,0.76 0.00,1.51zM80.34,236.81l-1.39,-0.76 0.00,-1.51 1.39,-0.76 1.39,0.76 0.00,1.51zM82.96,236.81l-1.39,-0.76 0.00,-1.51 1.39,-0.76 1.39,0.76 0.00,1.51zM85.58,236.81l-1.39,-0.76 0.00,-1.51 1.39,-0.76 1.39,0.76 0.00,1.51zM88.20,236.81l-1.39,-0.76 0.00,-1.51 1.39,-0.76 1.39,0.76 0.00,1.51zM90.82,236.81l-1.39,-0.76 0.00,-1.51 1.39,-0.76 1.39,0.76 0.00,1.51zM93.44,236.81l-1.39,-0.76 0.00,-1.51 1.39,-0.76 1.39,0.76 0.00,1.51zM96.06,236.81l-1.39,-0.76 0.00,-1.51 1.39,-0.76 1.39,0.76 0.00,1.51zM98.68,236.81l-1.39,-0.76 0.00,-1.51 1.39,-0.76 1.39,0.76 0.00,1.51zM101.30,236.81l-1.39,-0.76 0.00,-1.51 1.39,-0.76 1.39,0.76 0.00,1.51zM103.92,236.81l-1.39,-0.76 0.00,-1.51 1.39,-0.76 1.39,0.76 0.00,1.51zM106.54,236.81l-1.39,-0.76 0.00,-1.51 1.39,-0.76 1.39,0.76 0.00,1.51zM63.31,234.67l-1.39,-0.76 0.00,-1.51 1.39,-0.76 1.39,0.76 0.00,1.51zM71.17,234.67l-1.39,-0.76 0.00,-1.51 1.39,-0.76 1.39,0.76 0.00,1.51zM73.79,234.67l-1.39,-0.76 0.00,-1.51 1.39,-0.76 1.39,0.76 0.00,1.51zM79.03,234.67l-1.39,-0.76 0.00,-1.51 1.39,-0.76 1.39,0.76 0.00,1.51zM81.65,234.67l-1.39,-0.76 0.00,-1.51 1.39,-0.76 1.39,0.76 0.00,1.51zM84.27,234.67l-1.39,-0.76 0.00,-1.51 1.39,-0.76 1.39,0.76 0.00,1.51zM92.13,234.67l-1.39,-0.76 0.00,-1.51 1.39,-0.76 1.39,0.76 0.00,1.51zM94.75,234.67l-1.39,-0.76 0.00,-1.51 1.39,-0.76 1.39,0.76 0.00,1.51zM97.37,234.67l-1.39,-0.76 0.00,-1.51 1.39,-0.76 1.39,0.76 0.00,1.51zM99.99,234.67l-1.39,-0.76 0.00,-1.51 1.39,-0.76 1.39,0.76 0.00,1.51zM102.61,234.67l-1.39,-0.76 0.00,-1.51 1.39,-0.76 1.39,0.76 0.00,1.51zM105.23,234.67l-1.39,-0.76 0.00,-1.51 1.39,-0.76 1.39,0.76 0.00,1.51zM115.71,234.67l-1.39,-0.76 0.00,-1.51 1.39,-0.76 1.39,0.76 0.00,1.51zM75.10,232.53l-1.39,-0.76 0.00,-1.51 1.39,-0.76 1.39,0.76 0.00,1.51zM77.72,232.53l-1.39,-0.76 0.00,-1.51 1.39,-0.76 1.39,0.76 0.00,1.51zM85.58,232.53l-1.39,-0.76 0.00,-1.51 1.39,-0.76 1.39,0.76 0.00,1.51zM88.20,232.53l-1.39,-0.76 0.00,-1.51 1.39,-0.76 1.39,0.76 0.00,1.51zM90.82,232.53l-1.39,-0.76 0.00,-1.51 1.39,-0.76 1.39,0.76 0.00,1.51zM96.06,232.53l-1.39,-0.76 0.00,-1.51 1.39,-0.76 1.39,0.76 0.00,1.51zM98.68,232.53l-1.39,-0.76 0.00,-1.51 1.39,-0.76 1.39,0.76 0.00,1.51zM103.92,232.53l-1.39,-0.76 0.00,-1.51 1.39,-0.76 1.39,0.76 0.00,1.51zM106.54,232.53l-1.39,-0.76 0.00,-1.51 1.39,-0.76 1.39,0.76 0.00,1.51zM73.79,230.39l-1.39,-0.76 0.00,-1.51 1.39,-0.76 1.39,0.76 0.00,1.51zM76.41,230.39l-1.39,-0.76 0.00,-1.51 1.39,-0.76 1.39,0.76 0.00,1.51zM84.27,230.39l-1.39,-0.76 0.00,-1.51 1.39,-0.76 1.39,0.76 0.00,1.51zM86.89,230.39l-1.39,-0.76 0.00,-1.51 1.39,-0.76 1.39,0.76 0.00,1.51zM92.13,230.39l-1.39,-0.76 0.00,-1.51 1.39,-0.76 1.39,0.76 0.00,1.51zM94.75,230.39l-1.39,-0.76 0.00,-1.51 1.39,-0.76 1.39,0.76 0.00,1.51zM97.37,230.39l-1.39,-0.76 0.00,-1.51 1.39,-0.76 1.39,0.76 0.00,1.51zM99.99,230.39l-1.39,-0.76 0.00,-1.51 1.39,-0.76 1.39,0.76 0.00,1.51zM102.61,230.39l-1.39,-0.76 0.00,-1.51 1.39,-0.76 1.39,0.76 0.00,1.51zM105.23,230.39l-1.39,-0.76 0.00,-1.51 1.39,-0.76 1.39,0.76 0.00,1.51zM107.85,230.39l-1.39,-0.76 0.00,-1.51 1.39,-0.76 1.39,0.76 0.00,1.51zM75.10,228.25l-1.39,-0.76 0.00,-1.51 1.39,-0.76 1.39,0.76 0.00,1.51zM77.72,228.25l-1.39,-0.76 0.00,-1.51 1.39,-0.76 1.39,0.76 0.00,1.51zM80.34,228.25l-1.39,-0.76 0.00,-1.51 1.39,-0.76 1.39,0.76 0.00,1.51zM85.58,228.25l-1.39,-0.76 0.00,-1.51 1.39,-0.76 1.39,0.76 0.00,1.51zM88.20,228.25l-1.39,-0.76 0.00,-1.51 1.39,-0.76 1.39,0.76 0.00,1.51zM93.44,228.25l-1.39,-0.76 0.00,-1.51 1.39,-0.76 1.39,0.76 0.00,1.51zM96.06,228.25l-1.39,-0.76 0.00,-1.51 1.39,-0.76 1.39,0.76 0.00,1.51zM101.30,228.25l-1.39,-0.76 0.00,-1.51 1.39,-0.76 1.39,0.76 0.00,1.51zM103.92,228.25l-1.39,-0.76 0.00,-1.51 1.39,-0.76 1.39,0.76 0.00,1.51zM106.54,228.25l-1.39,-0.76 0.00,-1.51 1.39,-0.76 1.39,0.76 0.00,1.51zM109.16,228.25l-1.39,-0.76 0.00,-1.51 1.39,-0.76 1.39,0.76 0.00,1.51zM76.41,226.11l-1.39,-0.76 0.00,-1.51 1.39,-0.76 1.39,0.76 0.00,1.51zM79.03,226.11l-1.39,-0.76 0.00,-1.51 1.39,-0.76 1.39,0.76 0.00,1.51zM84.27,226.11l-1.39,-0.76 0.00,-1.51 1.39,-0.76 1.39,0.76 0.00,1.51zM86.89,226.11l-1.39,-0.76 0.00,-1.51 1.39,-0.76 1.39,0.76 0.00,1.51zM92.13,226.11l-1.39,-0.76 0.00,-1.51 1.39,-0.76 1.39,0.76 0.00,1.51zM94.75,226.11l-1.39,-0.76 0.00,-1.51 1.39,-0.76 1.39,0.76 0.00,1.51zM97.37,226.11l-1.39,-0.76 0.00,-1.51 1.39,-0.76 1.39,0.76 0.00,1.51zM99.99,226.11l-1.39,-0.76 0.00,-1.51 1.39,-0.76 1.39,0.76 0.00,1.51zM102.61,226.11l-1.39,-0.76 0.00,-1.51 1.39,-0.76 1.39,0.76 0.00,1.51zM105.23,226.11l-1.39,-0.76 0.00,-1.51 1.39,-0.76 1.39,0.76 0.00,1.51zM107.85,226.11l-1.39,-0.76 0.00,-1.51 1.39,-0.76 1.39,0.76 0.00,1.51zM110.47,226.11l-1.39,-0.76 0.00,-1.51 1.39,-0.76 1.39,0.76 0.00,1.51zM72.48,223.97l-1.39,-0.76 0.00,-1.51 1.39,-0.76 1.39,0.76 0.00,1.51zM75.10,223.97l-1.39,-0.76 0.00,-1.51 1.39,-0.76 1.39,0.76 0.00,1.51zM80.34,223.97l-1.39,-0.76 0.00,-1.51 1.39,-0.76 1.39,0.76 0.00,1.51zM82.96,223.97l-1.39,-0.76 0.00,-1.51 1.39,-0.76 1.39,0.76 0.00,1.51zM85.58,223.97l-1.39,-0.76 0.00,-1.51 1.39,-0.76 1.39,0.76 0.00,1.51zM88.20,223.97l-1.39,-0.76 0.00,-1.51 1.39,-0.76 1.39,0.76 0.00,1.51zM90.82,223.97l-1.39,-0.76 0.00,-1.51 1.39,-0.76 1.39,0.76 0.00,1.51zM93.44,223.97l-1.39,-0.76 0.00,-1.51 1.39,-0.76 1.39,0.76 0.00,1.51zM98.68,223.97l-1.39,-0.76 0.00,-1.51 1.39,-0.76 1.39,0.76 0.00,1.51zM101.30,223.97l-1.39,-0.76 0.00,-1.51 1.39,-0.76 1.39,0.76 0.00,1.51zM103.92,223.97l-1.39,-0.76 0.00,-1.51 1.39,-0.76 1.39,0.76 0.00,1.51zM106.54,223.97l-1.39,-0.76 0.00,-1.51 1.39,-0.76 1.39,0.76 0.00,1.51zM109.16,223.97l-1.39,-0.76 0.00,-1.51 1.39,-0.76 1.39,0.76 0.00,1.51zM111.78,223.97l-1.39,-0.76 0.00,-1.51 1.39,-0.76 1.39,0.76 0.00,1.51zM84.27,221.83l-1.39,-0.76 0.00,-1.51 1.39,-0.76 1.39,0.76 0.00,1.51zM86.89,221.83l-1.39,-0.76 0.00,-1.51 1.39,-0.76 1.39,0.76 0.00,1.51zM89.51,221.83l-1.39,-0.76 0.00,-1.51 1.39,-0.76 1.39,0.76 0.00,1.51zM97.37,221.83l-1.39,-0.76 0.00,-1.51 1.39,-0.76 1.39,0.76 0.00,1.51zM99.99,221.83l-1.39,-0.76 0.00,-1.51 1.39,-0.76 1.39,0.76 0.00,1.51zM102.61,221.83l-1.39,-0.76 0.00,-1.51 1.39,-0.76 1.39,0.76 0.00,1.51zM105.23,221.83l-1.39,-0.76 0.00,-1.51 1.39,-0.76 1.39,0.76 0.00,1.51zM107.85,221.83l-1.39,-0.76 0.00,-1.51 1.39,-0.76 1.39,0.76 0.00,1.51zM110.47,221.83l-1.39,-0.76 0.00,-1.51 1.39,-0.76 1.39,0.76 0.00,1.51zM113.09,221.83l-1.39,-0.76 0.00,-1.51 1.39,-0.76 1.39,0.76 0.00,1.51zM85.58,219.69l-1.39,-0.76 0.00,-1.51 1.39,-0.76 1.39,0.76 0.00,1.51zM90.82,219.69l-1.39,-0.76 0.00,-1.51 1.39,-0.76 1.39,0.76 0.00,1.51zM93.44,219.69l-1.39,-0.76 0.00,-1.51 1.39,-0.76 1.39,0.76 0.00,1.51zM98.68,219.69l-1.39,-0.76 0.00,-1.51 1.39,-0.76 1.39,0.76 0.00,1.51zM101.30,219.69l-1.39,-0.76 0.00,-1.51 1.39,-0.76 1.39,0.76 0.00,1.51zM103.92,219.69l-1.39,-0.76 0.00,-1.51 1.39,-0.76 1.39,0.76 0.00,1.51zM106.54,219.69l-1.39,-0.76 0.00,-1.51 1.39,-0.76 1.39,0.76 0.00,1.51zM109.16,219.69l-1.39,-0.76 0.00,-1.51 1.39,-0.76 1.39,0.76 0.00,1.51zM111.78,219.69l-1.39,-0.76 0.00,-1.51 1.39,-0.76 1.39,0.76 0.00,1.51zM114.40,219.69l-1.39,-0.76 0.00,-1.51 1.39,-0.76 1.39,0.76 0.00,1.51zM117.02,219.69l-1.39,-0.76 0.00,-1.51 1.39,-0.76 1.39,0.76 0.00,1.51zM86.89,217.55l-1.39,-0.76 0.00,-1.51 1.39,-0.76 1.39,0.76 0.00,1.51zM89.51,217.55l-1.39,-0.76 0.00,-1.51 1.39,-0.76 1.39,0.76 0.00,1.51zM92.13,217.55l-1.39,-0.76 0.00,-1.51 1.39,-0.76 1.39,0.76 0.00,1.51zM94.75,217.55l-1.39,-0.76 0.00,-1.51 1.39,-0.76 1.39,0.76 0.00,1.51zM97.37,217.55l-1.39,-0.76 0.00,-1.51 1.39,-0.76 1.39,0.76 0.00,1.51zM99.99,217.55l-1.39,-0.76 0.00,-1.51 1.39,-0.76 1.39,0.76 0.00,1.51zM102.61,217.55l-1.39,-0.76 0.00,-1.51 1.39,-0.76 1.39,0.76 0.00,1.51zM105.23,217.55l-1.39,-0.76 0.00,-1.51 1.39,-0.76 1.39,0.76 0.00,1.51zM107.85,217.55l-1.39,-0.76 0.00,-1.51 1.39,-0.76 1.39,0.76 0.00,1.51zM110.47,217.55l-1.39,-0.76 0.00,-1.51 1.39,-0.76 1.39,0.76 0.00,1.51zM113.09,217.55l-1.39,-0.76 0.00,-1.51 1.39,-0.76 1.39,0.76 0.00,1.51zM115.71,217.55l-1.39,-0.76 0.00,-1.51 1.39,-0.76 1.39,0.76 0.00,1.51zM120.95,217.55l-1.39,-0.76 0.00,-1.51 1.39,-0.76 1.39,0.76 0.00,1.51zM88.20,215.41l-1.39,-0.76 0.00,-1.51 1.39,-0.76 1.39,0.76 0.00,1.51zM93.44,215.41l-1.39,-0.76 0.00,-1.51 1.39,-0.76 1.39,0.76 0.00,1.51zM96.06,215.41l-1.39,-0.76 0.00,-1.51 1.39,-0.76 1.39,0.76 0.00,1.51zM98.68,215.41l-1.39,-0.76 0.00,-1.51 1.39,-0.76 1.39,0.76 0.00,1.51zM101.30,215.41l-1.39,-0.76 0.00,-1.51 1.39,-0.76 1.39,0.76 0.00,1.51zM103.92,215.41l-1.39,-0.76 0.00,-1.51 1.39,-0.76 1.39,0.76 0.00,1.51zM106.54,215.41l-1.39,-0.76 0.00,-1.51 1.39,-0.76 1.39,0.76 0.00,1.51zM109.16,215.41l-1.39,-0.76 0.00,-1.51 1.39,-0.76 1.39,0.76 0.00,1.51zM111.78,215.41l-1.39,-0.76 0.00,-1.51 1.39,-0.76 1.39,0.76 0.00,1.51zM114.40,215.41l-1.39,-0.76 0.00,-1.51 1.39,-0.76 1.39,0.76 0.00,1.51zM117.02,215.41l-1.39,-0.76 0.00,-1.51 1.39,-0.76 1.39,0.76 0.00,1.51zM119.64,215.41l-1.39,-0.76 0.00,-1.51 1.39,-0.76 1.39,0.76 0.00,1.51zM89.51,213.27l-1.39,-0.76 0.00,-1.51 1.39,-0.76 1.39,0.76 0.00,1.51zM92.13,213.27l-1.39,-0.76 0.00,-1.51 1.39,-0.76 1.39,0.76 0.00,1.51zM94.75,213.27l-1.39,-0.76 0.00,-1.51 1.39,-0.76 1.39,0.76 0.00,1.51zM97.37,213.27l-1.39,-0.76 0.00,-1.51 1.39,-0.76 1.39,0.76 0.00,1.51zM105.23,213.27l-1.39,-0.76 0.00,-1.51 1.39,-0.76 1.39,0.76 0.00,1.51zM107.85,213.27l-1.39,-0.76 0.00,-1.51 1.39,-0.76 1.39,0.76 0.00,1.51zM110.47,213.27l-1.39,-0.76 0.00,-1.51 1.39,-0.76 1.39,0.76 0.00,1.51zM113.09,213.27l-1.39,-0.76 0.00,-1.51 1.39,-0.76 1.39,0.76 0.00,1.51zM115.71,213.27l-1.39,-0.76 0.00,-1.51 1.39,-0.76 1.39,0.76 0.00,1.51zM118.33,213.27l-1.39,-0.76 0.00,-1.51 1.39,-0.76 1.39,0.76 0.00,1.51zM120.95,213.27l-1.39,-0.76 0.00,-1.51 1.39,-0.76 1.39,0.76 0.00,1.51zM88.20,211.13l-1.39,-0.76 0.00,-1.51 1.39,-0.76 1.39,0.76 0.00,1.51zM90.82,211.13l-1.39,-0.76 0.00,-1.51 1.39,-0.76 1.39,0.76 0.00,1.51zM98.68,211.13l-1.39,-0.76 0.00,-1.51 1.39,-0.76 1.39,0.76 0.00,1.51zM101.30,211.13l-1.39,-0.76 0.00,-1.51 1.39,-0.76 1.39,0.76 0.00,1.51zM103.92,211.13l-1.39,-0.76 0.00,-1.51 1.39,-0.76 1.39,0.76 0.00,1.51zM106.54,211.13l-1.39,-0.76 0.00,-1.51 1.39,-0.76 1.39,0.76 0.00,1.51zM111.78,211.13l-1.39,-0.76 0.00,-1.51 1.39,-0.76 1.39,0.76 0.00,1.51zM114.40,211.13l-1.39,-0.76 0.00,-1.51 1.39,-0.76 1.39,0.76 0.00,1.51zM117.02,211.13l-1.39,-0.76 0.00,-1.51 1.39,-0.76 1.39,0.76 0.00,1.51zM119.64,211.13l-1.39,-0.76 0.00,-1.51 1.39,-0.76 1.39,0.76 0.00,1.51zM122.26,211.13l-1.39,-0.76 0.00,-1.51 1.39,-0.76 1.39,0.76 0.00,1.51zM81.65,208.99l-1.39,-0.76 0.00,-1.51 1.39,-0.76 1.39,0.76 0.00,1.51zM92.13,208.99l-1.39,-0.76 0.00,-1.51 1.39,-0.76 1.39,0.76 0.00,1.51zM94.75,208.99l-1.39,-0.76 0.00,-1.51 1.39,-0.76 1.39,0.76 0.00,1.51zM97.37,208.99l-1.39,-0.76 0.00,-1.51 1.39,-0.76 1.39,0.76 0.00,1.51zM99.99,208.99l-1.39,-0.76 0.00,-1.51 1.39,-0.76 1.39,0.76 0.00,1.51zM102.61,208.99l-1.39,-0.76 0.00,-1.51 1.39,-0.76 1.39,0.76 0.00,1.51zM105.23,208.99l-1.39,-0.76 0.00,-1.51 1.39,-0.76 1.39,0.76 0.00,1.51zM107.85,208.99l-1.39,-0.76 0.00,-1.51 1.39,-0.76 1.39,0.76 0.00,1.51zM110.47,208.99l-1.39,-0.76 0.00,-1.51 1.39,-0.76 1.39,0.76 0.00,1.51zM113.09,208.99l-1.39,-0.76 0.00,-1.51 1.39,-0.76 1.39,0.76 0.00,1.51zM115.71,208.99l-1.39,-0.76 0.00,-1.51 1.39,-0.76 1.39,0.76 0.00,1.51zM118.33,208.99l-1.39,-0.76 0.00,-1.51 1.39,-0.76 1.39,0.76 0.00,1.51zM120.95,208.99l-1.39,-0.76 0.00,-1.51 1.39,-0.76 1.39,0.76 0.00,1.51zM93.44,206.85l-1.39,-0.76 0.00,-1.51 1.39,-0.76 1.39,0.76 0.00,1.51zM101.30,206.85l-1.39,-0.76 0.00,-1.51 1.39,-0.76 1.39,0.76 0.00,1.51zM109.16,206.85l-1.39,-0.76 0.00,-1.51 1.39,-0.76 1.39,0.76 0.00,1.51zM111.78,206.85l-1.39,-0.76 0.00,-1.51 1.39,-0.76 1.39,0.76 0.00,1.51zM117.02,206.85l-1.39,-0.76 0.00,-1.51 1.39,-0.76 1.39,0.76 0.00,1.51zM119.64,206.85l-1.39,-0.76 0.00,-1.51 1.39,-0.76 1.39,0.76 0.00,1.51zM122.26,206.85l-1.39,-0.76 0.00,-1.51 1.39,-0.76 1.39,0.76 0.00,1.51zM124.88,206.85l-1.39,-0.76 0.00,-1.51 1.39,-0.76 1.39,0.76 0.00,1.51zM130.12,206.85l-1.39,-0.76 0.00,-1.51 1.39,-0.76 1.39,0.76 0.00,1.51zM99.99,204.71l-1.39,-0.76 0.00,-1.51 1.39,-0.76 1.39,0.76 0.00,1.51zM102.61,204.71l-1.39,-0.76 0.00,-1.51 1.39,-0.76 1.39,0.76 0.00,1.51zM110.47,204.71l-1.39,-0.76 0.00,-1.51 1.39,-0.76 1.39,0.76 0.00,1.51zM113.09,204.71l-1.39,-0.76 0.00,-1.51 1.39,-0.76 1.39,0.76 0.00,1.51zM115.71,204.71l-1.39,-0.76 0.00,-1.51 1.39,-0.76 1.39,0.76 0.00,1.51zM118.33,204.71l-1.39,-0.76 0.00,-1.51 1.39,-0.76 1.39,0.76 0.00,1.51zM120.95,204.71l-1.39,-0.76 0.00,-1.51 1.39,-0.76 1.39,0.76 0.00,1.51zM123.57,204.71l-1.39,-0.76 0.00,-1.51 1.39,-0.76 1.39,0.76 0.00,1.51zM101.30,202.57l-1.39,-0.76 0.00,-1.51 1.39,-0.76 1.39,0.76 0.00,1.51zM103.92,202.57l-1.39,-0.76 0.00,-1.51 1.39,-0.76 1.39,0.76 0.00,1.51zM109.16,202.57l-1.39,-0.76 0.00,-1.51 1.39,-0.76 1.39,0.76 0.00,1.51zM111.78,202.57l-1.39,-0.76 0.00,-1.51 1.39,-0.76 1.39,0.76 0.00,1.51zM114.40,202.57l-1.39,-0.76 0.00,-1.51 1.39,-0.76 1.39,0.76 0.00,1.51zM117.02,202.57l-1.39,-0.76 0.00,-1.51 1.39,-0.76 1.39,0.76 0.00,1.51zM122.26,202.57l-1.39,-0.76 0.00,-1.51 1.39,-0.76 1.39,0.76 0.00,1.51zM124.88,202.57l-1.39,-0.76 0.00,-1.51 1.39,-0.76 1.39,0.76 0.00,1.51zM130.12,202.57l-1.39,-0.76 0.00,-1.51 1.39,-0.76 1.39,0.76 0.00,1.51zM86.89,200.43l-1.39,-0.76 0.00,-1.51 1.39,-0.76 1.39,0.76 0.00,1.51zM110.47,200.43l-1.39,-0.76 0.00,-1.51 1.39,-0.76 1.39,0.76 0.00,1.51zM113.09,200.43l-1.39,-0.76 0.00,-1.51 1.39,-0.76 1.39,0.76 0.00,1.51zM118.33,200.43l-1.39,-0.76 0.00,-1.51 1.39,-0.76 1.39,0.76 0.00,1.51zM120.95,200.43l-1.39,-0.76 0.00,-1.51 1.39,-0.76 1.39,0.76 0.00,1.51zM126.19,200.43l-1.39,-0.76 0.00,-1.51 1.39,-0.76 1.39,0.76 0.00,1.51zM128.81,200.43l-1.39,-0.76 0.00,-1.51 1.39,-0.76 1.39,0.76 0.00,1.51zM134.05,200.43l-1.39,-0.76 0.00,-1.51 1.39,-0.76 1.39,0.76 0.00,1.51zM82.96,198.29l-1.39,-0.76 0.00,-1.51 1.39,-0.76 1.39,0.76 0.00,1.51zM85.58,198.29l-1.39,-0.76 0.00,-1.51 1.39,-0.76 1.39,0.76 0.00,1.51zM93.44,198.29l-1.39,-0.76 0.00,-1.51 1.39,-0.76 1.39,0.76 0.00,1.51zM117.02,198.29l-1.39,-0.76 0.00,-1.51 1.39,-0.76 1.39,0.76 0.00,1.51zM119.64,198.29l-1.39,-0.76 0.00,-1.51 1.39,-0.76 1.39,0.76 0.00,1.51zM122.26,198.29l-1.39,-0.76 0.00,-1.51 1.39,-0.76 1.39,0.76 0.00,1.51zM127.50,198.29l-1.39,-0.76 0.00,-1.51 1.39,-0.76 1.39,0.76 0.00,1.51zM130.12,198.29l-1.39,-0.76 0.00,-1.51 1.39,-0.76 1.39,0.76 0.00,1.51zM132.74,198.29l-1.39,-0.76 0.00,-1.51 1.39,-0.76 1.39,0.76 0.00,1.51zM140.60,198.29l-1.39,-0.76 0.00,-1.51 1.39,-0.76 1.39,0.76 0.00,1.51zM86.89,196.15l-1.39,-0.76 0.00,-1.51 1.39,-0.76 1.39,0.76 0.00,1.51zM89.51,196.15l-1.39,-0.76 0.00,-1.51 1.39,-0.76 1.39,0.76 0.00,1.51zM92.13,196.15l-1.39,-0.76 0.00,-1.51 1.39,-0.76 1.39,0.76 0.00,1.51zM110.47,196.15l-1.39,-0.76 0.00,-1.51 1.39,-0.76 1.39,0.76 0.00,1.51zM113.09,196.15l-1.39,-0.76 0.00,-1.51 1.39,-0.76 1.39,0.76 0.00,1.51zM115.71,196.15l-1.39,-0.76 0.00,-1.51 1.39,-0.76 1.39,0.76 0.00,1.51zM118.33,196.15l-1.39,-0.76 0.00,-1.51 1.39,-0.76 1.39,0.76 0.00,1.51zM120.95,196.15l-1.39,-0.76 0.00,-1.51 1.39,-0.76 1.39,0.76 0.00,1.51zM134.05,196.15l-1.39,-0.76 0.00,-1.51 1.39,-0.76 1.39,0.76 0.00,1.51zM141.91,196.15l-1.39,-0.76 0.00,-1.51 1.39,-0.76 1.39,0.76 0.00,1.51zM88.20,194.01l-1.39,-0.76 0.00,-1.51 1.39,-0.76 1.39,0.76 0.00,1.51zM96.06,194.01l-1.39,-0.76 0.00,-1.51 1.39,-0.76 1.39,0.76 0.00,1.51zM98.68,194.01l-1.39,-0.76 0.00,-1.51 1.39,-0.76 1.39,0.76 0.00,1.51zM111.78,194.01l-1.39,-0.76 0.00,-1.51 1.39,-0.76 1.39,0.76 0.00,1.51zM114.40,194.01l-1.39,-0.76 0.00,-1.51 1.39,-0.76 1.39,0.76 0.00,1.51zM117.02,194.01l-1.39,-0.76 0.00,-1.51 1.39,-0.76 1.39,0.76 0.00,1.51zM119.64,194.01l-1.39,-0.76 0.00,-1.51 1.39,-0.76 1.39,0.76 0.00,1.51zM132.74,194.01l-1.39,-0.76 0.00,-1.51 1.39,-0.76 1.39,0.76 0.00,1.51zM135.36,194.01l-1.39,-0.76 0.00,-1.51 1.39,-0.76 1.39,0.76 0.00,1.51zM92.13,191.87l-1.39,-0.76 0.00,-1.51 1.39,-0.76 1.39,0.76 0.00,1.51zM99.99,191.87l-1.39,-0.76 0.00,-1.51 1.39,-0.76 1.39,0.76 0.00,1.51zM118.33,191.87l-1.39,-0.76 0.00,-1.51 1.39,-0.76 1.39,0.76 0.00,1.51zM120.95,191.87l-1.39,-0.76 0.00,-1.51 1.39,-0.76 1.39,0.76 0.00,1.51zM128.81,191.87l-1.39,-0.76 0.00,-1.51 1.39,-0.76 1.39,0.76 0.00,1.51zM134.05,191.87l-1.39,-0.76 0.00,-1.51 1.39,-0.76 1.39,0.76 0.00,1.51zM136.67,191.87l-1.39,-0.76 0.00,-1.51 1.39,-0.76 1.39,0.76 0.00,1.51zM139.29,191.87l-1.39,-0.76 0.00,-1.51 1.39,-0.76 1.39,0.76 0.00,1.51zM90.82,189.73l-1.39,-0.76 0.00,-1.51 1.39,-0.76 1.39,0.76 0.00,1.51zM96.06,189.73l-1.39,-0.76 0.00,-1.51 1.39,-0.76 1.39,0.76 0.00,1.51zM114.40,189.73l-1.39,-0.76 0.00,-1.51 1.39,-0.76 1.39,0.76 0.00,1.51zM119.64,189.73l-1.39,-0.76 0.00,-1.51 1.39,-0.76 1.39,0.76 0.00,1.51zM122.26,189.73l-1.39,-0.76 0.00,-1.51 1.39,-0.76 1.39,0.76 0.00,1.51zM130.12,189.73l-1.39,-0.76 0.00,-1.51 1.39,-0.76 1.39,0.76 0.00,1.51zM132.74,189.73l-1.39,-0.76 0.00,-1.51 1.39,-0.76 1.39,0.76 0.00,1.51zM135.36,189.73l-1.39,-0.76 0.00,-1.51 1.39,-0.76 1.39,0.76 0.00,1.51zM140.60,189.73l-1.39,-0.76 0.00,-1.51 1.39,-0.76 1.39,0.76 0.00,1.51zM156.32,189.73l-1.39,-0.76 0.00,-1.51 1.39,-0.76 1.39,0.76 0.00,1.51zM94.75,187.59l-1.39,-0.76 0.00,-1.51 1.39,-0.76 1.39,0.76 0.00,1.51zM97.37,187.59l-1.39,-0.76 0.00,-1.51 1.39,-0.76 1.39,0.76 0.00,1.51zM115.71,187.59l-1.39,-0.76 0.00,-1.51 1.39,-0.76 1.39,0.76 0.00,1.51zM118.33,187.59l-1.39,-0.76 0.00,-1.51 1.39,-0.76 1.39,0.76 0.00,1.51zM120.95,187.59l-1.39,-0.76 0.00,-1.51 1.39,-0.76 1.39,0.76 0.00,1.51zM136.67,187.59l-1.39,-0.76 0.00,-1.51 1.39,-0.76 1.39,0.76 0.00,1.51zM117.02,185.45l-1.39,-0.76 0.00,-1.51 1.39,-0.76 1.39,0.76 0.00,1.51zM119.64,185.45l-1.39,-0.76 0.00,-1.51 1.39,-0.76 1.39,0.76 0.00,1.51zM122.26,185.45l-1.39,-0.76 0.00,-1.51 1.39,-0.76 1.39,0.76 0.00,1.51zM124.88,185.45l-1.39,-0.76 0.00,-1.51 1.39,-0.76 1.39,0.76 0.00,1.51zM143.22,185.45l-1.39,-0.76 0.00,-1.51 1.39,-0.76 1.39,0.76 0.00,1.51zM156.32,185.45l-1.39,-0.76 0.00,-1.51 1.39,-0.76 1.39,0.76 0.00,1.51zM166.80,185.45l-1.39,-0.76 0.00,-1.51 1.39,-0.76 1.39,0.76 0.00,1.51zM118.33,183.31l-1.39,-0.76 0.00,-1.51 1.39,-0.76 1.39,0.76 0.00,1.51zM141.91,183.31l-1.39,-0.76 0.00,-1.51 1.39,-0.76 1.39,0.76 0.00,1.51zM144.53,183.31l-1.39,-0.76 0.00,-1.51 1.39,-0.76 1.39,0.76 0.00,1.51zM147.15,183.31l-1.39,-0.76 0.00,-1.51 1.39,-0.76 1.39,0.76 0.00,1.51zM149.77,183.31l-1.39,-0.76 0.00,-1.51 1.39,-0.76 1.39,0.76 0.00,1.51zM152.39,183.31l-1.39,-0.76 0.00,-1.51 1.39,-0.76 1.39,0.76 0.00,1.51zM155.01,183.31l-1.39,-0.76 0.00,-1.51 1.39,-0.76 1.39,0.76 0.00,1.51zM160.25,183.31l-1.39,-0.76 0.00,-1.51 1.39,-0.76 1.39,0.76 0.00,1.51zM165.49,183.31l-1.39,-0.76 0.00,-1.51 1.39,-0.76 1.39,0.76 0.00,1.51zM168.11,183.31l-1.39,-0.76 0.00,-1.51 1.39,-0.76 1.39,0.76 0.00,1.51zM114.40,181.17l-1.39,-0.76 0.00,-1.51 1.39,-0.76 1.39,0.76 0.00,1.51zM117.02,181.17l-1.39,-0.76 0.00,-1.51 1.39,-0.76 1.39,0.76 0.00,1.51zM119.64,181.17l-1.39,-0.76 0.00,-1.51 1.39,-0.76 1.39,0.76 0.00,1.51zM122.26,181.17l-1.39,-0.76 0.00,-1.51 1.39,-0.76 1.39,0.76 0.00,1.51zM127.50,181.17l-1.39,-0.76 0.00,-1.51 1.39,-0.76 1.39,0.76 0.00,1.51zM135.36,181.17l-1.39,-0.76 0.00,-1.51 1.39,-0.76 1.39,0.76 0.00,1.51zM137.98,181.17l-1.39,-0.76 0.00,-1.51 1.39,-0.76 1.39,0.76 0.00,1.51zM145.84,181.17l-1.39,-0.76 0.00,-1.51 1.39,-0.76 1.39,0.76 0.00,1.51zM153.70,181.17l-1.39,-0.76 0.00,-1.51 1.39,-0.76 1.39,0.76 0.00,1.51zM156.32,181.17l-1.39,-0.76 0.00,-1.51 1.39,-0.76 1.39,0.76 0.00,1.51zM158.94,181.17l-1.39,-0.76 0.00,-1.51 1.39,-0.76 1.39,0.76 0.00,1.51zM161.56,181.17l-1.39,-0.76 0.00,-1.51 1.39,-0.76 1.39,0.76 0.00,1.51zM164.18,181.17l-1.39,-0.76 0.00,-1.51 1.39,-0.76 1.39,0.76 0.00,1.51zM166.80,181.17l-1.39,-0.76 0.00,-1.51 1.39,-0.76 1.39,0.76 0.00,1.51zM120.95,179.03l-1.39,-0.76 0.00,-1.51 1.39,-0.76 1.39,0.76 0.00,1.51zM123.57,179.03l-1.39,-0.76 0.00,-1.51 1.39,-0.76 1.39,0.76 0.00,1.51zM126.19,179.03l-1.39,-0.76 0.00,-1.51 1.39,-0.76 1.39,0.76 0.00,1.51zM128.81,179.03l-1.39,-0.76 0.00,-1.51 1.39,-0.76 1.39,0.76 0.00,1.51zM147.15,179.03l-1.39,-0.76 0.00,-1.51 1.39,-0.76 1.39,0.76 0.00,1.51zM155.01,179.03l-1.39,-0.76 0.00,-1.51 1.39,-0.76 1.39,0.76 0.00,1.51zM157.63,179.03l-1.39,-0.76 0.00,-1.51 1.39,-0.76 1.39,0.76 0.00,1.51zM160.25,179.03l-1.39,-0.76 0.00,-1.51 1.39,-0.76 1.39,0.76 0.00,1.51zM162.87,179.03l-1.39,-0.76 0.00,-1.51 1.39,-0.76 1.39,0.76 0.00,1.51zM165.49,179.03l-1.39,-0.76 0.00,-1.51 1.39,-0.76 1.39,0.76 0.00,1.51zM168.11,179.03l-1.39,-0.76 0.00,-1.51 1.39,-0.76 1.39,0.76 0.00,1.51zM170.73,179.03l-1.39,-0.76 0.00,-1.51 1.39,-0.76 1.39,0.76 0.00,1.51zM130.12,176.89l-1.39,-0.76 0.00,-1.51 1.39,-0.76 1.39,0.76 0.00,1.51zM145.84,176.89l-1.39,-0.76 0.00,-1.51 1.39,-0.76 1.39,0.76 0.00,1.51zM148.46,176.89l-1.39,-0.76 0.00,-1.51 1.39,-0.76 1.39,0.76 0.00,1.51zM151.08,176.89l-1.39,-0.76 0.00,-1.51 1.39,-0.76 1.39,0.76 0.00,1.51zM156.32,176.89l-1.39,-0.76 0.00,-1.51 1.39,-0.76 1.39,0.76 0.00,1.51zM158.94,176.89l-1.39,-0.76 0.00,-1.51 1.39,-0.76 1.39,0.76 0.00,1.51zM161.56,176.89l-1.39,-0.76 0.00,-1.51 1.39,-0.76 1.39,0.76 0.00,1.51zM164.18,176.89l-1.39,-0.76 0.00,-1.51 1.39,-0.76 1.39,0.76 0.00,1.51zM166.80,176.89l-1.39,-0.76 0.00,-1.51 1.39,-0.76 1.39,0.76 0.00,1.51zM169.42,176.89l-1.39,-0.76 0.00,-1.51 1.39,-0.76 1.39,0.76 0.00,1.51zM149.77,174.75l-1.39,-0.76 0.00,-1.51 1.39,-0.76 1.39,0.76 0.00,1.51zM152.39,174.75l-1.39,-0.76 0.00,-1.51 1.39,-0.76 1.39,0.76 0.00,1.51zM160.25,174.75l-1.39,-0.76 0.00,-1.51 1.39,-0.76 1.39,0.76 0.00,1.51zM162.87,174.75l-1.39,-0.76 0.00,-1.51 1.39,-0.76 1.39,0.76 0.00,1.51zM165.49,174.75l-1.39,-0.76 0.00,-1.51 1.39,-0.76 1.39,0.76 0.00,1.51zM168.11,174.75l-1.39,-0.76 0.00,-1.51 1.39,-0.76 1.39,0.76 0.00,1.51zM170.73,174.75l-1.39,-0.76 0.00,-1.51 1.39,-0.76 1.39,0.76 0.00,1.51zM122.26,172.61l-1.39,-0.76 0.00,-1.51 1.39,-0.76 1.39,0.76 0.00,1.51zM137.98,172.61l-1.39,-0.76 0.00,-1.51 1.39,-0.76 1.39,0.76 0.00,1.51zM140.60,172.61l-1.39,-0.76 0.00,-1.51 1.39,-0.76 1.39,0.76 0.00,1.51zM161.56,172.61l-1.39,-0.76 0.00,-1.51 1.39,-0.76 1.39,0.76 0.00,1.51zM164.18,172.61l-1.39,-0.76 0.00,-1.51 1.39,-0.76 1.39,0.76 0.00,1.51zM166.80,172.61l-1.39,-0.76 0.00,-1.51 1.39,-0.76 1.39,0.76 0.00,1.51zM169.42,172.61l-1.39,-0.76 0.00,-1.51 1.39,-0.76 1.39,0.76 0.00,1.51zM131.43,170.47l-1.39,-0.76 0.00,-1.51 1.39,-0.76 1.39,0.76 0.00,1.51zM134.05,170.47l-1.39,-0.76 0.00,-1.51 1.39,-0.76 1.39,0.76 0.00,1.51zM160.25,170.47l-1.39,-0.76 0.00,-1.51 1.39,-0.76 1.39,0.76 0.00,1.51zM162.87,170.47l-1.39,-0.76 0.00,-1.51 1.39,-0.76 1.39,0.76 0.00,1.51zM165.49,170.47l-1.39,-0.76 0.00,-1.51 1.39,-0.76 1.39,0.76 0.00,1.51zM168.11,170.47l-1.39,-0.76 0.00,-1.51 1.39,-0.76 1.39,0.76 0.00,1.51zM170.73,170.47l-1.39,-0.76 0.00,-1.51 1.39,-0.76 1.39,0.76 0.00,1.51zM135.36,168.33l-1.39,-0.76 0.00,-1.51 1.39,-0.76 1.39,0.76 0.00,1.51zM164.18,168.33l-1.39,-0.76 0.00,-1.51 1.39,-0.76 1.39,0.76 0.00,1.51zM166.80,168.33l-1.39,-0.76 0.00,-1.51 1.39,-0.76 1.39,0.76 0.00,1.51zM169.42,168.33l-1.39,-0.76 0.00,-1.51 1.39,-0.76 1.39,0.76 0.00,1.51zM172.04,168.33l-1.39,-0.76 0.00,-1.51 1.39,-0.76 1.39,0.76 0.00,1.51zM134.05,166.19l-1.39,-0.76 0.00,-1.51 1.39,-0.76 1.39,0.76 0.00,1.51zM144.53,166.19l-1.39,-0.76 0.00,-1.51 1.39,-0.76 1.39,0.76 0.00,1.51zM165.49,166.19l-1.39,-0.76 0.00,-1.51 1.39,-0.76 1.39,0.76 0.00,1.51zM168.11,166.19l-1.39,-0.76 0.00,-1.51 1.39,-0.76 1.39,0.76 0.00,1.51zM170.73,166.19l-1.39,-0.76 0.00,-1.51 1.39,-0.76 1.39,0.76 0.00,1.51zM173.35,166.19l-1.39,-0.76 0.00,-1.51 1.39,-0.76 1.39,0.76 0.00,1.51zM135.36,164.05l-1.39,-0.76 0.00,-1.51 1.39,-0.76 1.39,0.76 0.00,1.51zM145.84,164.05l-1.39,-0.76 0.00,-1.51 1.39,-0.76 1.39,0.76 0.00,1.51zM166.80,164.05l-1.39,-0.76 0.00,-1.51 1.39,-0.76 1.39,0.76 0.00,1.51zM169.42,164.05l-1.39,-0.76 0.00,-1.51 1.39,-0.76 1.39,0.76 0.00,1.51zM172.04,164.05l-1.39,-0.76 0.00,-1.51 1.39,-0.76 1.39,0.76 0.00,1.51zM174.66,164.05l-1.39,-0.76 0.00,-1.51 1.39,-0.76 1.39,0.76 0.00,1.51zM136.67,161.91l-1.39,-0.76 0.00,-1.51 1.39,-0.76 1.39,0.76 0.00,1.51zM139.29,161.91l-1.39,-0.76 0.00,-1.51 1.39,-0.76 1.39,0.76 0.00,1.51zM141.91,161.91l-1.39,-0.76 0.00,-1.51 1.39,-0.76 1.39,0.76 0.00,1.51zM144.53,161.91l-1.39,-0.76 0.00,-1.51 1.39,-0.76 1.39,0.76 0.00,1.51zM170.73,161.91l-1.39,-0.76 0.00,-1.51 1.39,-0.76 1.39,0.76 0.00,1.51zM173.35,161.91l-1.39,-0.76 0.00,-1.51 1.39,-0.76 1.39,0.76 0.00,1.51zM175.97,161.91l-1.39,-0.76 0.00,-1.51 1.39,-0.76 1.39,0.76 0.00,1.51zM178.59,161.91l-1.39,-0.76 0.00,-1.51 1.39,-0.76 1.39,0.76 0.00,1.51zM172.04,159.77l-1.39,-0.76 0.00,-1.51 1.39,-0.76 1.39,0.76 0.00,1.51zM177.28,159.77l-1.39,-0.76 0.00,-1.51 1.39,-0.76 1.39,0.76 0.00,1.51zM139.29,157.63l-1.39,-0.76 0.00,-1.51 1.39,-0.76 1.39,0.76 0.00,1.51zM175.97,157.63l-1.39,-0.76 0.00,-1.51 1.39,-0.76 1.39,0.76 0.00,1.51zM178.59,157.63l-1.39,-0.76 0.00,-1.51 1.39,-0.76 1.39,0.76 0.00,1.51zM194.31,157.63l-1.39,-0.76 0.00,-1.51 1.39,-0.76 1.39,0.76 0.00,1.51zM140.60,155.49l-1.39,-0.76 0.00,-1.51 1.39,-0.76 1.39,0.76 0.00,1.51zM143.22,155.49l-1.39,-0.76 0.00,-1.51 1.39,-0.76 1.39,0.76 0.00,1.51zM145.84,155.49l-1.39,-0.76 0.00,-1.51 1.39,-0.76 1.39,0.76 0.00,1.51zM148.46,155.49l-1.39,-0.76 0.00,-1.51 1.39,-0.76 1.39,0.76 0.00,1.51zM174.66,155.49l-1.39,-0.76 0.00,-1.51 1.39,-0.76 1.39,0.76 0.00,1.51zM177.28,155.49l-1.39,-0.76 0.00,-1.51 1.39,-0.76 1.39,0.76 0.00,1.51zM179.90,155.49l-1.39,-0.76 0.00,-1.51 1.39,-0.76 1.39,0.76 0.00,1.51zM182.52,155.49l-1.39,-0.76 0.00,-1.51 1.39,-0.76 1.39,0.76 0.00,1.51zM144.53,153.35l-1.39,-0.76 0.00,-1.51 1.39,-0.76 1.39,0.76 0.00,1.51zM147.15,153.35l-1.39,-0.76 0.00,-1.51 1.39,-0.76 1.39,0.76 0.00,1.51zM149.77,153.35l-1.39,-0.76 0.00,-1.51 1.39,-0.76 1.39,0.76 0.00,1.51zM181.21,153.35l-1.39,-0.76 0.00,-1.51 1.39,-0.76 1.39,0.76 0.00,1.51zM183.83,153.35l-1.39,-0.76 0.00,-1.51 1.39,-0.76 1.39,0.76 0.00,1.51zM186.45,153.35l-1.39,-0.76 0.00,-1.51 1.39,-0.76 1.39,0.76 0.00,1.51zM189.07,153.35l-1.39,-0.76 0.00,-1.51 1.39,-0.76 1.39,0.76 0.00,1.51zM191.69,153.35l-1.39,-0.76 0.00,-1.51 1.39,-0.76 1.39,0.76 0.00,1.51zM143.22,151.21l-1.39,-0.76 0.00,-1.51 1.39,-0.76 1.39,0.76 0.00,1.51zM145.84,151.21l-1.39,-0.76 0.00,-1.51 1.39,-0.76 1.39,0.76 0.00,1.51zM182.52,151.21l-1.39,-0.76 0.00,-1.51 1.39,-0.76 1.39,0.76 0.00,1.51zM185.14,151.21l-1.39,-0.76 0.00,-1.51 1.39,-0.76 1.39,0.76 0.00,1.51zM190.38,151.21l-1.39,-0.76 0.00,-1.51 1.39,-0.76 1.39,0.76 0.00,1.51zM141.91,149.07l-1.39,-0.76 0.00,-1.51 1.39,-0.76 1.39,0.76 0.00,1.51zM144.53,149.07l-1.39,-0.76 0.00,-1.51 1.39,-0.76 1.39,0.76 0.00,1.51zM147.15,149.07l-1.39,-0.76 0.00,-1.51 1.39,-0.76 1.39,0.76 0.00,1.51zM149.77,149.07l-1.39,-0.76 0.00,-1.51 1.39,-0.76 1.39,0.76 0.00,1.51zM152.39,149.07l-1.39,-0.76 0.00,-1.51 1.39,-0.76 1.39,0.76 0.00,1.51zM186.45,149.07l-1.39,-0.76 0.00,-1.51 1.39,-0.76 1.39,0.76 0.00,1.51zM189.07,149.07l-1.39,-0.76 0.00,-1.51 1.39,-0.76 1.39,0.76 0.00,1.51zM143.22,146.93l-1.39,-0.76 0.00,-1.51 1.39,-0.76 1.39,0.76 0.00,1.51zM145.84,146.93l-1.39,-0.76 0.00,-1.51 1.39,-0.76 1.39,0.76 0.00,1.51zM148.46,146.93l-1.39,-0.76 0.00,-1.51 1.39,-0.76 1.39,0.76 0.00,1.51zM151.08,146.93l-1.39,-0.76 0.00,-1.51 1.39,-0.76 1.39,0.76 0.00,1.51zM156.32,146.93l-1.39,-0.76 0.00,-1.51 1.39,-0.76 1.39,0.76 0.00,1.51zM182.52,146.93l-1.39,-0.76 0.00,-1.51 1.39,-0.76 1.39,0.76 0.00,1.51zM185.14,146.93l-1.39,-0.76 0.00,-1.51 1.39,-0.76 1.39,0.76 0.00,1.51zM187.76,146.93l-1.39,-0.76 0.00,-1.51 1.39,-0.76 1.39,0.76 0.00,1.51zM195.62,146.93l-1.39,-0.76 0.00,-1.51 1.39,-0.76 1.39,0.76 0.00,1.51zM141.91,144.79l-1.39,-0.76 0.00,-1.51 1.39,-0.76 1.39,0.76 0.00,1.51zM144.53,144.79l-1.39,-0.76 0.00,-1.51 1.39,-0.76 1.39,0.76 0.00,1.51zM147.15,144.79l-1.39,-0.76 0.00,-1.51 1.39,-0.76 1.39,0.76 0.00,1.51zM149.77,144.79l-1.39,-0.76 0.00,-1.51 1.39,-0.76 1.39,0.76 0.00,1.51zM152.39,144.79l-1.39,-0.76 0.00,-1.51 1.39,-0.76 1.39,0.76 0.00,1.51zM178.59,144.79l-1.39,-0.76 0.00,-1.51 1.39,-0.76 1.39,0.76 0.00,1.51zM186.45,144.79l-1.39,-0.76 0.00,-1.51 1.39,-0.76 1.39,0.76 0.00,1.51zM189.07,144.79l-1.39,-0.76 0.00,-1.51 1.39,-0.76 1.39,0.76 0.00,1.51zM191.69,144.79l-1.39,-0.76 0.00,-1.51 1.39,-0.76 1.39,0.76 0.00,1.51zM194.31,144.79l-1.39,-0.76 0.00,-1.51 1.39,-0.76 1.39,0.76 0.00,1.51zM143.22,142.65l-1.39,-0.76 0.00,-1.51 1.39,-0.76 1.39,0.76 0.00,1.51zM145.84,142.65l-1.39,-0.76 0.00,-1.51 1.39,-0.76 1.39,0.76 0.00,1.51zM148.46,142.65l-1.39,-0.76 0.00,-1.51 1.39,-0.76 1.39,0.76 0.00,1.51zM151.08,142.65l-1.39,-0.76 0.00,-1.51 1.39,-0.76 1.39,0.76 0.00,1.51zM153.70,142.65l-1.39,-0.76 0.00,-1.51 1.39,-0.76 1.39,0.76 0.00,1.51zM156.32,142.65l-1.39,-0.76 0.00,-1.51 1.39,-0.76 1.39,0.76 0.00,1.51zM169.42,142.65l-1.39,-0.76 0.00,-1.51 1.39,-0.76 1.39,0.76 0.00,1.51zM190.38,142.65l-1.39,-0.76 0.00,-1.51 1.39,-0.76 1.39,0.76 0.00,1.51zM144.53,140.51l-1.39,-0.76 0.00,-1.51 1.39,-0.76 1.39,0.76 0.00,1.51zM149.77,140.51l-1.39,-0.76 0.00,-1.51 1.39,-0.76 1.39,0.76 0.00,1.51zM152.39,140.51l-1.39,-0.76 0.00,-1.51 1.39,-0.76 1.39,0.76 0.00,1.51zM155.01,140.51l-1.39,-0.76 0.00,-1.51 1.39,-0.76 1.39,0.76 0.00,1.51zM157.63,140.51l-1.39,-0.76 0.00,-1.51 1.39,-0.76 1.39,0.76 0.00,1.51zM191.69,140.51l-1.39,-0.76 0.00,-1.51 1.39,-0.76 1.39,0.76 0.00,1.51zM137.98,138.37l-1.39,-0.76 0.00,-1.51 1.39,-0.76 1.39,0.76 0.00,1.51zM145.84,138.37l-1.39,-0.76 0.00,-1.51 1.39,-0.76 1.39,0.76 0.00,1.51zM148.46,138.37l-1.39,-0.76 0.00,-1.51 1.39,-0.76 1.39,0.76 0.00,1.51zM151.08,138.37l-1.39,-0.76 0.00,-1.51 1.39,-0.76 1.39,0.76 0.00,1.51zM153.70,138.37l-1.39,-0.76 0.00,-1.51 1.39,-0.76 1.39,0.76 0.00,1.51zM158.94,138.37l-1.39,-0.76 0.00,-1.51 1.39,-0.76 1.39,0.76 0.00,1.51zM161.56,138.37l-1.39,-0.76 0.00,-1.51 1.39,-0.76 1.39,0.76 0.00,1.51zM195.62,138.37l-1.39,-0.76 0.00,-1.51 1.39,-0.76 1.39,0.76 0.00,1.51zM144.53,136.23l-1.39,-0.76 0.00,-1.51 1.39,-0.76 1.39,0.76 0.00,1.51zM147.15,136.23l-1.39,-0.76 0.00,-1.51 1.39,-0.76 1.39,0.76 0.00,1.51zM149.77,136.23l-1.39,-0.76 0.00,-1.51 1.39,-0.76 1.39,0.76 0.00,1.51zM152.39,136.23l-1.39,-0.76 0.00,-1.51 1.39,-0.76 1.39,0.76 0.00,1.51zM157.63,136.23l-1.39,-0.76 0.00,-1.51 1.39,-0.76 1.39,0.76 0.00,1.51zM160.25,136.23l-1.39,-0.76 0.00,-1.51 1.39,-0.76 1.39,0.76 0.00,1.51zM162.87,136.23l-1.39,-0.76 0.00,-1.51 1.39,-0.76 1.39,0.76 0.00,1.51zM183.83,136.23l-1.39,-0.76 0.00,-1.51 1.39,-0.76 1.39,0.76 0.00,1.51zM194.31,136.23l-1.39,-0.76 0.00,-1.51 1.39,-0.76 1.39,0.76 0.00,1.51zM196.93,136.23l-1.39,-0.76 0.00,-1.51 1.39,-0.76 1.39,0.76 0.00,1.51zM145.84,134.09l-1.39,-0.76 0.00,-1.51 1.39,-0.76 1.39,0.76 0.00,1.51zM148.46,134.09l-1.39,-0.76 0.00,-1.51 1.39,-0.76 1.39,0.76 0.00,1.51zM153.70,134.09l-1.39,-0.76 0.00,-1.51 1.39,-0.76 1.39,0.76 0.00,1.51zM156.32,134.09l-1.39,-0.76 0.00,-1.51 1.39,-0.76 1.39,0.76 0.00,1.51zM161.56,134.09l-1.39,-0.76 0.00,-1.51 1.39,-0.76 1.39,0.76 0.00,1.51zM164.18,134.09l-1.39,-0.76 0.00,-1.51 1.39,-0.76 1.39,0.76 0.00,1.51zM195.62,134.09l-1.39,-0.76 0.00,-1.51 1.39,-0.76 1.39,0.76 0.00,1.51zM200.86,134.09l-1.39,-0.76 0.00,-1.51 1.39,-0.76 1.39,0.76 0.00,1.51zM144.53,131.95l-1.39,-0.76 0.00,-1.51 1.39,-0.76 1.39,0.76 0.00,1.51zM147.15,131.95l-1.39,-0.76 0.00,-1.51 1.39,-0.76 1.39,0.76 0.00,1.51zM149.77,131.95l-1.39,-0.76 0.00,-1.51 1.39,-0.76 1.39,0.76 0.00,1.51zM152.39,131.95l-1.39,-0.76 0.00,-1.51 1.39,-0.76 1.39,0.76 0.00,1.51zM155.01,131.95l-1.39,-0.76 0.00,-1.51 1.39,-0.76 1.39,0.76 0.00,1.51zM160.25,131.95l-1.39,-0.76 0.00,-1.51 1.39,-0.76 1.39,0.76 0.00,1.51zM162.87,131.95l-1.39,-0.76 0.00,-1.51 1.39,-0.76 1.39,0.76 0.00,1.51zM165.49,131.95l-1.39,-0.76 0.00,-1.51 1.39,-0.76 1.39,0.76 0.00,1.51zM168.11,131.95l-1.39,-0.76 0.00,-1.51 1.39,-0.76 1.39,0.76 0.00,1.51zM196.93,131.95l-1.39,-0.76 0.00,-1.51 1.39,-0.76 1.39,0.76 0.00,1.51zM199.55,131.95l-1.39,-0.76 0.00,-1.51 1.39,-0.76 1.39,0.76 0.00,1.51zM202.17,131.95l-1.39,-0.76 0.00,-1.51 1.39,-0.76 1.39,0.76 0.00,1.51zM145.84,129.81l-1.39,-0.76 0.00,-1.51 1.39,-0.76 1.39,0.76 0.00,1.51zM148.46,129.81l-1.39,-0.76 0.00,-1.51 1.39,-0.76 1.39,0.76 0.00,1.51zM151.08,129.81l-1.39,-0.76 0.00,-1.51 1.39,-0.76 1.39,0.76 0.00,1.51zM153.70,129.81l-1.39,-0.76 0.00,-1.51 1.39,-0.76 1.39,0.76 0.00,1.51zM158.94,129.81l-1.39,-0.76 0.00,-1.51 1.39,-0.76 1.39,0.76 0.00,1.51zM164.18,129.81l-1.39,-0.76 0.00,-1.51 1.39,-0.76 1.39,0.76 0.00,1.51zM166.80,129.81l-1.39,-0.76 0.00,-1.51 1.39,-0.76 1.39,0.76 0.00,1.51zM195.62,129.81l-1.39,-0.76 0.00,-1.51 1.39,-0.76 1.39,0.76 0.00,1.51zM144.53,127.67l-1.39,-0.76 0.00,-1.51 1.39,-0.76 1.39,0.76 0.00,1.51zM149.77,127.67l-1.39,-0.76 0.00,-1.51 1.39,-0.76 1.39,0.76 0.00,1.51zM152.39,127.67l-1.39,-0.76 0.00,-1.51 1.39,-0.76 1.39,0.76 0.00,1.51zM155.01,127.67l-1.39,-0.76 0.00,-1.51 1.39,-0.76 1.39,0.76 0.00,1.51zM157.63,127.67l-1.39,-0.76 0.00,-1.51 1.39,-0.76 1.39,0.76 0.00,1.51zM160.25,127.67l-1.39,-0.76 0.00,-1.51 1.39,-0.76 1.39,0.76 0.00,1.51zM162.87,127.67l-1.39,-0.76 0.00,-1.51 1.39,-0.76 1.39,0.76 0.00,1.51zM168.11,127.67l-1.39,-0.76 0.00,-1.51 1.39,-0.76 1.39,0.76 0.00,1.51zM170.73,127.67l-1.39,-0.76 0.00,-1.51 1.39,-0.76 1.39,0.76 0.00,1.51zM175.97,127.67l-1.39,-0.76 0.00,-1.51 1.39,-0.76 1.39,0.76 0.00,1.51zM145.84,125.53l-1.39,-0.76 0.00,-1.51 1.39,-0.76 1.39,0.76 0.00,1.51zM148.46,125.53l-1.39,-0.76 0.00,-1.51 1.39,-0.76 1.39,0.76 0.00,1.51zM151.08,125.53l-1.39,-0.76 0.00,-1.51 1.39,-0.76 1.39,0.76 0.00,1.51zM153.70,125.53l-1.39,-0.76 0.00,-1.51 1.39,-0.76 1.39,0.76 0.00,1.51zM156.32,125.53l-1.39,-0.76 0.00,-1.51 1.39,-0.76 1.39,0.76 0.00,1.51zM161.56,125.53l-1.39,-0.76 0.00,-1.51 1.39,-0.76 1.39,0.76 0.00,1.51zM164.18,125.53l-1.39,-0.76 0.00,-1.51 1.39,-0.76 1.39,0.76 0.00,1.51zM166.80,125.53l-1.39,-0.76 0.00,-1.51 1.39,-0.76 1.39,0.76 0.00,1.51zM169.42,125.53l-1.39,-0.76 0.00,-1.51 1.39,-0.76 1.39,0.76 0.00,1.51zM172.04,125.53l-1.39,-0.76 0.00,-1.51 1.39,-0.76 1.39,0.76 0.00,1.51zM177.28,125.53l-1.39,-0.76 0.00,-1.51 1.39,-0.76 1.39,0.76 0.00,1.51zM179.90,125.53l-1.39,-0.76 0.00,-1.51 1.39,-0.76 1.39,0.76 0.00,1.51zM200.86,125.53l-1.39,-0.76 0.00,-1.51 1.39,-0.76 1.39,0.76 0.00,1.51zM139.29,123.39l-1.39,-0.76 0.00,-1.51 1.39,-0.76 1.39,0.76 0.00,1.51zM149.77,123.39l-1.39,-0.76 0.00,-1.51 1.39,-0.76 1.39,0.76 0.00,1.51zM155.01,123.39l-1.39,-0.76 0.00,-1.51 1.39,-0.76 1.39,0.76 0.00,1.51zM157.63,123.39l-1.39,-0.76 0.00,-1.51 1.39,-0.76 1.39,0.76 0.00,1.51zM165.49,123.39l-1.39,-0.76 0.00,-1.51 1.39,-0.76 1.39,0.76 0.00,1.51zM173.35,123.39l-1.39,-0.76 0.00,-1.51 1.39,-0.76 1.39,0.76 0.00,1.51zM175.97,123.39l-1.39,-0.76 0.00,-1.51 1.39,-0.76 1.39,0.76 0.00,1.51zM178.59,123.39l-1.39,-0.76 0.00,-1.51 1.39,-0.76 1.39,0.76 0.00,1.51zM181.21,123.39l-1.39,-0.76 0.00,-1.51 1.39,-0.76 1.39,0.76 0.00,1.51zM202.17,123.39l-1.39,-0.76 0.00,-1.51 1.39,-0.76 1.39,0.76 0.00,1.51zM204.79,123.39l-1.39,-0.76 0.00,-1.51 1.39,-0.76 1.39,0.76 0.00,1.51zM148.46,121.25l-1.39,-0.76 0.00,-1.51 1.39,-0.76 1.39,0.76 0.00,1.51zM151.08,121.25l-1.39,-0.76 0.00,-1.51 1.39,-0.76 1.39,0.76 0.00,1.51zM156.32,121.25l-1.39,-0.76 0.00,-1.51 1.39,-0.76 1.39,0.76 0.00,1.51zM158.94,121.25l-1.39,-0.76 0.00,-1.51 1.39,-0.76 1.39,0.76 0.00,1.51zM161.56,121.25l-1.39,-0.76 0.00,-1.51 1.39,-0.76 1.39,0.76 0.00,1.51zM174.66,121.25l-1.39,-0.76 0.00,-1.51 1.39,-0.76 1.39,0.76 0.00,1.51zM147.15,119.11l-1.39,-0.76 0.00,-1.51 1.39,-0.76 1.39,0.76 0.00,1.51zM149.77,119.11l-1.39,-0.76 0.00,-1.51 1.39,-0.76 1.39,0.76 0.00,1.51zM152.39,119.11l-1.39,-0.76 0.00,-1.51 1.39,-0.76 1.39,0.76 0.00,1.51zM155.01,119.11l-1.39,-0.76 0.00,-1.51 1.39,-0.76 1.39,0.76 0.00,1.51zM160.25,119.11l-1.39,-0.76 0.00,-1.51 1.39,-0.76 1.39,0.76 0.00,1.51zM162.87,119.11l-1.39,-0.76 0.00,-1.51 1.39,-0.76 1.39,0.76 0.00,1.51zM165.49,119.11l-1.39,-0.76 0.00,-1.51 1.39,-0.76 1.39,0.76 0.00,1.51zM168.11,119.11l-1.39,-0.76 0.00,-1.51 1.39,-0.76 1.39,0.76 0.00,1.51zM173.35,119.11l-1.39,-0.76 0.00,-1.51 1.39,-0.76 1.39,0.76 0.00,1.51zM175.97,119.11l-1.39,-0.76 0.00,-1.51 1.39,-0.76 1.39,0.76 0.00,1.51zM178.59,119.11l-1.39,-0.76 0.00,-1.51 1.39,-0.76 1.39,0.76 0.00,1.51zM181.21,119.11l-1.39,-0.76 0.00,-1.51 1.39,-0.76 1.39,0.76 0.00,1.51zM183.83,119.11l-1.39,-0.76 0.00,-1.51 1.39,-0.76 1.39,0.76 0.00,1.51zM148.46,116.97l-1.39,-0.76 0.00,-1.51 1.39,-0.76 1.39,0.76 0.00,1.51zM161.56,116.97l-1.39,-0.76 0.00,-1.51 1.39,-0.76 1.39,0.76 0.00,1.51zM164.18,116.97l-1.39,-0.76 0.00,-1.51 1.39,-0.76 1.39,0.76 0.00,1.51zM169.42,116.97l-1.39,-0.76 0.00,-1.51 1.39,-0.76 1.39,0.76 0.00,1.51zM172.04,116.97l-1.39,-0.76 0.00,-1.51 1.39,-0.76 1.39,0.76 0.00,1.51zM174.66,116.97l-1.39,-0.76 0.00,-1.51 1.39,-0.76 1.39,0.76 0.00,1.51zM177.28,116.97l-1.39,-0.76 0.00,-1.51 1.39,-0.76 1.39,0.76 0.00,1.51zM211.34,116.97l-1.39,-0.76 0.00,-1.51 1.39,-0.76 1.39,0.76 0.00,1.51zM147.15,114.83l-1.39,-0.76 0.00,-1.51 1.39,-0.76 1.39,0.76 0.00,1.51zM165.49,114.83l-1.39,-0.76 0.00,-1.51 1.39,-0.76 1.39,0.76 0.00,1.51zM168.11,114.83l-1.39,-0.76 0.00,-1.51 1.39,-0.76 1.39,0.76 0.00,1.51zM178.59,114.83l-1.39,-0.76 0.00,-1.51 1.39,-0.76 1.39,0.76 0.00,1.51zM181.21,114.83l-1.39,-0.76 0.00,-1.51 1.39,-0.76 1.39,0.76 0.00,1.51zM183.83,114.83l-1.39,-0.76 0.00,-1.51 1.39,-0.76 1.39,0.76 0.00,1.51zM207.41,114.83l-1.39,-0.76 0.00,-1.51 1.39,-0.76 1.39,0.76 0.00,1.51zM153.70,112.69l-1.39,-0.76 0.00,-1.51 1.39,-0.76 1.39,0.76 0.00,1.51zM156.32,112.69l-1.39,-0.76 0.00,-1.51 1.39,-0.76 1.39,0.76 0.00,1.51zM164.18,112.69l-1.39,-0.76 0.00,-1.51 1.39,-0.76 1.39,0.76 0.00,1.51zM166.80,112.69l-1.39,-0.76 0.00,-1.51 1.39,-0.76 1.39,0.76 0.00,1.51zM169.42,112.69l-1.39,-0.76 0.00,-1.51 1.39,-0.76 1.39,0.76 0.00,1.51zM174.66,112.69l-1.39,-0.76 0.00,-1.51 1.39,-0.76 1.39,0.76 0.00,1.51zM179.90,112.69l-1.39,-0.76 0.00,-1.51 1.39,-0.76 1.39,0.76 0.00,1.51zM182.52,112.69l-1.39,-0.76 0.00,-1.51 1.39,-0.76 1.39,0.76 0.00,1.51zM185.14,112.69l-1.39,-0.76 0.00,-1.51 1.39,-0.76 1.39,0.76 0.00,1.51zM187.76,112.69l-1.39,-0.76 0.00,-1.51 1.39,-0.76 1.39,0.76 0.00,1.51zM144.53,110.55l-1.39,-0.76 0.00,-1.51 1.39,-0.76 1.39,0.76 0.00,1.51zM165.49,110.55l-1.39,-0.76 0.00,-1.51 1.39,-0.76 1.39,0.76 0.00,1.51zM168.11,110.55l-1.39,-0.76 0.00,-1.51 1.39,-0.76 1.39,0.76 0.00,1.51zM173.35,110.55l-1.39,-0.76 0.00,-1.51 1.39,-0.76 1.39,0.76 0.00,1.51zM175.97,110.55l-1.39,-0.76 0.00,-1.51 1.39,-0.76 1.39,0.76 0.00,1.51zM186.45,110.55l-1.39,-0.76 0.00,-1.51 1.39,-0.76 1.39,0.76 0.00,1.51zM174.66,108.41l-1.39,-0.76 0.00,-1.51 1.39,-0.76 1.39,0.76 0.00,1.51zM179.90,108.41l-1.39,-0.76 0.00,-1.51 1.39,-0.76 1.39,0.76 0.00,1.51zM182.52,108.41l-1.39,-0.76 0.00,-1.51 1.39,-0.76 1.39,0.76 0.00,1.51zM185.14,108.41l-1.39,-0.76 0.00,-1.51 1.39,-0.76 1.39,0.76 0.00,1.51zM190.38,108.41l-1.39,-0.76 0.00,-1.51 1.39,-0.76 1.39,0.76 0.00,1.51zM213.96,108.41l-1.39,-0.76 0.00,-1.51 1.39,-0.76 1.39,0.76 0.00,1.51zM175.97,106.27l-1.39,-0.76 0.00,-1.51 1.39,-0.76 1.39,0.76 0.00,1.51zM181.21,106.27l-1.39,-0.76 0.00,-1.51 1.39,-0.76 1.39,0.76 0.00,1.51zM186.45,106.27l-1.39,-0.76 0.00,-1.51 1.39,-0.76 1.39,0.76 0.00,1.51zM189.07,106.27l-1.39,-0.76 0.00,-1.51 1.39,-0.76 1.39,0.76 0.00,1.51zM194.31,106.27l-1.39,-0.76 0.00,-1.51 1.39,-0.76 1.39,0.76 0.00,1.51zM185.14,104.13l-1.39,-0.76 0.00,-1.51 1.39,-0.76 1.39,0.76 0.00,1.51zM193.00,104.13l-1.39,-0.76 0.00,-1.51 1.39,-0.76 1.39,0.76 0.00,1.51zM198.24,104.13l-1.39,-0.76 0.00,-1.51 1.39,-0.76 1.39,0.76 0.00,1.51zM200.86,104.13l-1.39,-0.76 0.00,-1.51 1.39,-0.76 1.39,0.76 0.00,1.51zM196.93,101.99l-1.39,-0.76 0.00,-1.51 1.39,-0.76 1.39,0.76 0.00,1.51zM202.17,101.99l-1.39,-0.76 0.00,-1.51 1.39,-0.76 1.39,0.76 0.00,1.51zM198.24,99.85l-1.39,-0.76 0.00,-1.51 1.39,-0.76 1.39,0.76 0.00,1.51zM178.59,97.71l-1.39,-0.76 0.00,-1.51 1.39,-0.76 1.39,0.76 0.00,1.51zM212.65,97.71l-1.39,-0.76 0.00,-1.51 1.39,-0.76 1.39,0.76 0.00,1.51zM193.00,95.57l-1.39,-0.76 0.00,-1.51 1.39,-0.76 1.39,0.76 0.00,1.51zM203.48,95.57l-1.39,-0.76 0.00,-1.51 1.39,-0.76 1.39,0.76 0.00,1.51zM210.03,93.43l-1.39,-0.76 0.00,-1.51 1.39,-0.76 1.39,0.76 0.00,1.51zM224.44,91.29l-1.39,-0.76 0.00,-1.51 1.39,-0.76 1.39,0.76 0.00,1.51zM220.51,89.15l-1.39,-0.76 0.00,-1.51 1.39,-0.76 1.39,0.76 0.00,1.51zM211.34,87.01l-1.39,-0.76 0.00,-1.51 1.39,-0.76 1.39,0.76 0.00,1.51zM216.58,87.01l-1.39,-0.76 0.00,-1.51 1.39,-0.76 1.39,0.76 0.00,1.51zM237.54,87.01l-1.39,-0.76 0.00,-1.51 1.39,-0.76 1.39,0.76 0.00,1.51zM230.99,84.87l-1.39,-0.76 0.00,-1.51 1.39,-0.76 1.39,0.76 0.00,1.51zM232.30,82.73l-1.39,-0.76 0.00,-1.51 1.39,-0.76 1.39,0.76 0.00,1.51zM234.92,82.73l-1.39,-0.76 0.00,-1.51 1.39,-0.76 1.39,0.76 0.00,1.51zM237.54,82.73l-1.39,-0.76 0.00,-1.51 1.39,-0.76 1.39,0.76 0.00,1.51zM238.85,80.59l-1.39,-0.76 0.00,-1.51 1.39,-0.76 1.39,0.76 0.00,1.51zM244.09,80.59l-1.39,-0.76 0.00,-1.51 1.39,-0.76 1.39,0.76 0.00,1.51zM232.30,78.45l-1.39,-0.76 0.00,-1.51 1.39,-0.76 1.39,0.76 0.00,1.51zM240.16,78.45l-1.39,-0.76 0.00,-1.51 1.39,-0.76 1.39,0.76 0.00,1.51zM242.78,78.45l-1.39,-0.76 0.00,-1.51 1.39,-0.76 1.39,0.76 0.00,1.51zM236.23,76.31l-1.39,-0.76 0.00,-1.51 1.39,-0.76 1.39,0.76 0.00,1.51zM238.85,76.31l-1.39,-0.76 0.00,-1.51 1.39,-0.76 1.39,0.76 0.00,1.51zM241.47,76.31l-1.39,-0.76 0.00,-1.51 1.39,-0.76 1.39,0.76 0.00,1.51zM237.54,74.17l-1.39,-0.76 0.00,-1.51 1.39,-0.76 1.39,0.76 0.00,1.51zM240.16,74.17l-1.39,-0.76 0.00,-1.51 1.39,-0.76 1.39,0.76 0.00,1.51zM241.47,72.03l-1.39,-0.76 0.00,-1.51 1.39,-0.76 1.39,0.76 0.00,1.51zM238.85,67.75l-1.39,-0.76 0.00,-1.51 1.39,-0.76 1.39,0.76 0.00,1.51z" fill="#7ac366"/>
<path d="M72.48,245.37l-1.39,-0.76 0.00,-1.51 1.39,-0.76 1.39,0.76 0.00,1.51zM73.79,243.23l-1.39,-0.76 0.00,-1.51 1.39,-0.76 1.39,0.76 0.00,1.51zM76.41,234.67l-1.39,-0.76 0.00,-1.51 1.39,-0.76 1.39,0.76 0.00,1.51zM80.34,232.53l-1.39,-0.76 0.00,-1.51 1.39,-0.76 1.39,0.76 0.00,1.51zM81.65,230.39l-1.39,-0.76 0.00,-1.51 1.39,-0.76 1.39,0.76 0.00,1.51zM89.51,230.39l-1.39,-0.76 0.00,-1.51 1.39,-0.76 1.39,0.76 0.00,1.51zM82.96,228.25l-1.39,-0.76 0.00,-1.51 1.39,-0.76 1.39,0.76 0.00,1.51zM96.06,223.97l-1.39,-0.76 0.00,-1.51 1.39,-0.76 1.39,0.76 0.00,1.51zM92.13,221.83l-1.39,-0.76 0.00,-1.51 1.39,-0.76 1.39,0.76 0.00,1.51zM94.75,221.83l-1.39,-0.76 0.00,-1.51 1.39,-0.76 1.39,0.76 0.00,1.51zM88.20,219.69l-1.39,-0.76 0.00,-1.51 1.39,-0.76 1.39,0.76 0.00,1.51zM99.99,213.27l-1.39,-0.76 0.00,-1.51 1.39,-0.76 1.39,0.76 0.00,1.51zM103.92,206.85l-1.39,-0.76 0.00,-1.51 1.39,-0.76 1.39,0.76 0.00,1.51zM106.54,206.85l-1.39,-0.76 0.00,-1.51 1.39,-0.76 1.39,0.76 0.00,1.51zM114.40,206.85l-1.39,-0.76 0.00,-1.51 1.39,-0.76 1.39,0.76 0.00,1.51zM105.23,204.71l-1.39,-0.76 0.00,-1.51 1.39,-0.76 1.39,0.76 0.00,1.51zM107.85,204.71l-1.39,-0.76 0.00,-1.51 1.39,-0.76 1.39,0.76 0.00,1.51zM106.54,202.57l-1.39,-0.76 0.00,-1.51 1.39,-0.76 1.39,0.76 0.00,1.51zM119.64,202.57l-1.39,-0.76 0.00,-1.51 1.39,-0.76 1.39,0.76 0.00,1.51zM127.50,202.57l-1.39,-0.76 0.00,-1.51 1.39,-0.76 1.39,0.76 0.00,1.51zM123.57,200.43l-1.39,-0.76 0.00,-1.51 1.39,-0.76 1.39,0.76 0.00,1.51zM109.16,198.29l-1.39,-0.76 0.00,-1.51 1.39,-0.76 1.39,0.76 0.00,1.51zM111.78,198.29l-1.39,-0.76 0.00,-1.51 1.39,-0.76 1.39,0.76 0.00,1.51zM123.57,196.15l-1.39,-0.76 0.00,-1.51 1.39,-0.76 1.39,0.76 0.00,1.51zM128.81,196.15l-1.39,-0.76 0.00,-1.51 1.39,-0.76 1.39,0.76 0.00,1.51zM131.43,196.15l-1.39,-0.76 0.00,-1.51 1.39,-0.76 1.39,0.76 0.00,1.51zM122.26,194.01l-1.39,-0.76 0.00,-1.51 1.39,-0.76 1.39,0.76 0.00,1.51zM124.88,194.01l-1.39,-0.76 0.00,-1.51 1.39,-0.76 1.39,0.76 0.00,1.51zM127.50,194.01l-1.39,-0.76 0.00,-1.51 1.39,-0.76 1.39,0.76 0.00,1.51zM126.19,191.87l-1.39,-0.76 0.00,-1.51 1.39,-0.76 1.39,0.76 0.00,1.51zM131.43,191.87l-1.39,-0.76 0.00,-1.51 1.39,-0.76 1.39,0.76 0.00,1.51zM127.50,189.73l-1.39,-0.76 0.00,-1.51 1.39,-0.76 1.39,0.76 0.00,1.51zM137.98,189.73l-1.39,-0.76 0.00,-1.51 1.39,-0.76 1.39,0.76 0.00,1.51zM126.19,187.59l-1.39,-0.76 0.00,-1.51 1.39,-0.76 1.39,0.76 0.00,1.51zM128.81,187.59l-1.39,-0.76 0.00,-1.51 1.39,-0.76 1.39,0.76 0.00,1.51zM134.05,187.59l-1.39,-0.76 0.00,-1.51 1.39,-0.76 1.39,0.76 0.00,1.51zM139.29,187.59l-1.39,-0.76 0.00,-1.51 1.39,-0.76 1.39,0.76 0.00,1.51zM135.36,185.45l-1.39,-0.76 0.00,-1.51 1.39,-0.76 1.39,0.76 0.00,1.51zM137.98,185.45l-1.39,-0.76 0.00,-1.51 1.39,-0.76 1.39,0.76 0.00,1.51zM140.60,185.45l-1.39,-0.76 0.00,-1.51 1.39,-0.76 1.39,0.76 0.00,1.51zM123.57,183.31l-1.39,-0.76 0.00,-1.51 1.39,-0.76 1.39,0.76 0.00,1.51zM126.19,183.31l-1.39,-0.76 0.00,-1.51 1.39,-0.76 1.39,0.76 0.00,1.51zM136.67,183.31l-1.39,-0.76 0.00,-1.51 1.39,-0.76 1.39,0.76 0.00,1.51zM139.29,183.31l-1.39,-0.76 0.00,-1.51 1.39,-0.76 1.39,0.76 0.00,1.51zM132.74,181.17l-1.39,-0.76 0.00,-1.51 1.39,-0.76 1.39,0.76 0.00,1.51zM140.60,181.17l-1.39,-0.76 0.00,-1.51 1.39,-0.76 1.39,0.76 0.00,1.51zM143.22,181.17l-1.39,-0.76 0.00,-1.51 1.39,-0.76 1.39,0.76 0.00,1.51zM151.08,181.17l-1.39,-0.76 0.00,-1.51 1.39,-0.76 1.39,0.76 0.00,1.51zM134.05,179.03l-1.39,-0.76 0.00,-1.51 1.39,-0.76 1.39,0.76 0.00,1.51zM141.91,179.03l-1.39,-0.76 0.00,-1.51 1.39,-0.76 1.39,0.76 0.00,1.51zM144.53,179.03l-1.39,-0.76 0.00,-1.51 1.39,-0.76 1.39,0.76 0.00,1.51zM135.36,176.89l-1.39,-0.76 0.00,-1.51 1.39,-0.76 1.39,0.76 0.00,1.51zM137.98,176.89l-1.39,-0.76 0.00,-1.51 1.39,-0.76 1.39,0.76 0.00,1.51zM140.60,176.89l-1.39,-0.76 0.00,-1.51 1.39,-0.76 1.39,0.76 0.00,1.51zM143.22,176.89l-1.39,-0.76 0.00,-1.51 1.39,-0.76 1.39,0.76 0.00,1.51zM141.91,174.75l-1.39,-0.76 0.00,-1.51 1.39,-0.76 1.39,0.76 0.00,1.51zM155.01,174.75l-1.39,-0.76 0.00,-1.51 1.39,-0.76 1.39,0.76 0.00,1.51zM143.22,172.61l-1.39,-0.76 0.00,-1.51 1.39,-0.76 1.39,0.76 0.00,1.51zM153.70,172.61l-1.39,-0.76 0.00,-1.51 1.39,-0.76 1.39,0.76 0.00,1.51zM158.94,172.61l-1.39,-0.76 0.00,-1.51 1.39,-0.76 1.39,0.76 0.00,1.51zM136.67,170.47l-1.39,-0.76 0.00,-1.51 1.39,-0.76 1.39,0.76 0.00,1.51zM141.91,170.47l-1.39,-0.76 0.00,-1.51 1.39,-0.76 1.39,0.76 0.00,1.51zM144.53,170.47l-1.39,-0.76 0.00,-1.51 1.39,-0.76 1.39,0.76 0.00,1.51zM152.39,170.47l-1.39,-0.76 0.00,-1.51 1.39,-0.76 1.39,0.76 0.00,1.51zM157.63,170.47l-1.39,-0.76 0.00,-1.51 1.39,-0.76 1.39,0.76 0.00,1.51zM137.98,168.33l-1.39,-0.76 0.00,-1.51 1.39,-0.76 1.39,0.76 0.00,1.51zM140.60,168.33l-1.39,-0.76 0.00,-1.51 1.39,-0.76 1.39,0.76 0.00,1.51zM143.22,168.33l-1.39,-0.76 0.00,-1.51 1.39,-0.76 1.39,0.76 0.00,1.51zM153.70,168.33l-1.39,-0.76 0.00,-1.51 1.39,-0.76 1.39,0.76 0.00,1.51zM156.32,168.33l-1.39,-0.76 0.00,-1.51 1.39,-0.76 1.39,0.76 0.00,1.51zM158.94,168.33l-1.39,-0.76 0.00,-1.51 1.39,-0.76 1.39,0.76 0.00,1.51zM161.56,168.33l-1.39,-0.76 0.00,-1.51 1.39,-0.76 1.39,0.76 0.00,1.51zM136.67,166.19l-1.39,-0.76 0.00,-1.51 1.39,-0.76 1.39,0.76 0.00,1.51zM139.29,166.19l-1.39,-0.76 0.00,-1.51 1.39,-0.76 1.39,0.76 0.00,1.51zM141.91,166.19l-1.39,-0.76 0.00,-1.51 1.39,-0.76 1.39,0.76 0.00,1.51zM147.15,166.19l-1.39,-0.76 0.00,-1.51 1.39,-0.76 1.39,0.76 0.00,1.51zM149.77,166.19l-1.39,-0.76 0.00,-1.51 1.39,-0.76 1.39,0.76 0.00,1.51zM157.63,166.19l-1.39,-0.76 0.00,-1.51 1.39,-0.76 1.39,0.76 0.00,1.51zM162.87,166.19l-1.39,-0.76 0.00,-1.51 1.39,-0.76 1.39,0.76 0.00,1.51zM137.98,164.05l-1.39,-0.76 0.00,-1.51 1.39,-0.76 1.39,0.76 0.00,1.51zM140.60,164.05l-1.39,-0.76 0.00,-1.51 1.39,-0.76 1.39,0.76 0.00,1.51zM143.22,164.05l-1.39,-0.76 0.00,-1.51 1.39,-0.76 1.39,0.76 0.00,1.51zM148.46,164.05l-1.39,-0.76 0.00,-1.51 1.39,-0.76 1.39,0.76 0.00,1.51zM153.70,164.05l-1.39,-0.76 0.00,-1.51 1.39,-0.76 1.39,0.76 0.00,1.51zM158.94,164.05l-1.39,-0.76 0.00,-1.51 1.39,-0.76 1.39,0.76 0.00,1.51zM147.15,161.91l-1.39,-0.76 0.00,-1.51 1.39,-0.76 1.39,0.76 0.00,1.51zM160.25,161.91l-1.39,-0.76 0.00,-1.51 1.39,-0.76 1.39,0.76 0.00,1.51zM162.87,161.91l-1.39,-0.76 0.00,-1.51 1.39,-0.76 1.39,0.76 0.00,1.51zM165.49,161.91l-1.39,-0.76 0.00,-1.51 1.39,-0.76 1.39,0.76 0.00,1.51zM143.22,159.77l-1.39,-0.76 0.00,-1.51 1.39,-0.76 1.39,0.76 0.00,1.51zM145.84,159.77l-1.39,-0.76 0.00,-1.51 1.39,-0.76 1.39,0.76 0.00,1.51zM166.80,159.77l-1.39,-0.76 0.00,-1.51 1.39,-0.76 1.39,0.76 0.00,1.51zM144.53,157.63l-1.39,-0.76 0.00,-1.51 1.39,-0.76 1.39,0.76 0.00,1.51zM149.77,157.63l-1.39,-0.76 0.00,-1.51 1.39,-0.76 1.39,0.76 0.00,1.51zM165.49,157.63l-1.39,-0.76 0.00,-1.51 1.39,-0.76 1.39,0.76 0.00,1.51zM168.11,157.63l-1.39,-0.76 0.00,-1.51 1.39,-0.76 1.39,0.76 0.00,1.51zM151.08,155.49l-1.39,-0.76 0.00,-1.51 1.39,-0.76 1.39,0.76 0.00,1.51zM161.56,155.49l-1.39,-0.76 0.00,-1.51 1.39,-0.76 1.39,0.76 0.00,1.51zM175.97,153.35l-1.39,-0.76 0.00,-1.51 1.39,-0.76 1.39,0.76 0.00,1.51zM178.59,153.35l-1.39,-0.76 0.00,-1.51 1.39,-0.76 1.39,0.76 0.00,1.51zM148.46,151.21l-1.39,-0.76 0.00,-1.51 1.39,-0.76 1.39,0.76 0.00,1.51zM151.08,151.21l-1.39,-0.76 0.00,-1.51 1.39,-0.76 1.39,0.76 0.00,1.51zM172.04,151.21l-1.39,-0.76 0.00,-1.51 1.39,-0.76 1.39,0.76 0.00,1.51zM174.66,151.21l-1.39,-0.76 0.00,-1.51 1.39,-0.76 1.39,0.76 0.00,1.51zM177.28,151.21l-1.39,-0.76 0.00,-1.51 1.39,-0.76 1.39,0.76 0.00,1.51zM179.90,151.21l-1.39,-0.76 0.00,-1.51 1.39,-0.76 1.39,0.76 0.00,1.51zM157.63,149.07l-1.39,-0.76 0.00,-1.51 1.39,-0.76 1.39,0.76 0.00,1.51zM162.87,149.07l-1.39,-0.76 0.00,-1.51 1.39,-0.76 1.39,0.76 0.00,1.51zM165.49,149.07l-1.39,-0.76 0.00,-1.51 1.39,-0.76 1.39,0.76 0.00,1.51zM175.97,149.07l-1.39,-0.76 0.00,-1.51 1.39,-0.76 1.39,0.76 0.00,1.51zM178.59,149.07l-1.39,-0.76 0.00,-1.51 1.39,-0.76 1.39,0.76 0.00,1.51zM158.94,146.93l-1.39,-0.76 0.00,-1.51 1.39,-0.76 1.39,0.76 0.00,1.51zM179.90,146.93l-1.39,-0.76 0.00,-1.51 1.39,-0.76 1.39,0.76 0.00,1.51zM155.01,144.79l-1.39,-0.76 0.00,-1.51 1.39,-0.76 1.39,0.76 0.00,1.51zM157.63,144.79l-1.39,-0.76 0.00,-1.51 1.39,-0.76 1.39,0.76 0.00,1.51zM181.21,144.79l-1.39,-0.76 0.00,-1.51 1.39,-0.76 1.39,0.76 0.00,1.51zM158.94,142.65l-1.39,-0.76 0.00,-1.51 1.39,-0.76 1.39,0.76 0.00,1.51zM172.04,142.65l-1.39,-0.76 0.00,-1.51 1.39,-0.76 1.39,0.76 0.00,1.51zM179.90,142.65l-1.39,-0.76 0.00,-1.51 1.39,-0.76 1.39,0.76 0.00,1.51zM185.14,142.65l-1.39,-0.76 0.00,-1.51 1.39,-0.76 1.39,0.76 0.00,1.51zM187.76,142.65l-1.39,-0.76 0.00,-1.51 1.39,-0.76 1.39,0.76 0.00,1.51zM160.25,140.51l-1.39,-0.76 0.00,-1.51 1.39,-0.76 1.39,0.76 0.00,1.51zM168.11,140.51l-1.39,-0.76 0.00,-1.51 1.39,-0.76 1.39,0.76 0.00,1.51zM170.73,140.51l-1.39,-0.76 0.00,-1.51 1.39,-0.76 1.39,0.76 0.00,1.51zM183.83,140.51l-1.39,-0.76 0.00,-1.51 1.39,-0.76 1.39,0.76 0.00,1.51zM186.45,140.51l-1.39,-0.76 0.00,-1.51 1.39,-0.76 1.39,0.76 0.00,1.51zM189.07,140.51l-1.39,-0.76 0.00,-1.51 1.39,-0.76 1.39,0.76 0.00,1.51zM164.18,138.37l-1.39,-0.76 0.00,-1.51 1.39,-0.76 1.39,0.76 0.00,1.51zM179.90,138.37l-1.39,-0.76 0.00,-1.51 1.39,-0.76 1.39,0.76 0.00,1.51zM182.52,138.37l-1.39,-0.76 0.00,-1.51 1.39,-0.76 1.39,0.76 0.00,1.51zM185.14,138.37l-1.39,-0.76 0.00,-1.51 1.39,-0.76 1.39,0.76 0.00,1.51zM190.38,138.37l-1.39,-0.76 0.00,-1.51 1.39,-0.76 1.39,0.76 0.00,1.51zM178.59,136.23l-1.39,-0.76 0.00,-1.51 1.39,-0.76 1.39,0.76 0.00,1.51zM186.45,136.23l-1.39,-0.76 0.00,-1.51 1.39,-0.76 1.39,0.76 0.00,1.51zM191.69,136.23l-1.39,-0.76 0.00,-1.51 1.39,-0.76 1.39,0.76 0.00,1.51zM166.80,134.09l-1.39,-0.76 0.00,-1.51 1.39,-0.76 1.39,0.76 0.00,1.51zM169.42,134.09l-1.39,-0.76 0.00,-1.51 1.39,-0.76 1.39,0.76 0.00,1.51zM172.04,134.09l-1.39,-0.76 0.00,-1.51 1.39,-0.76 1.39,0.76 0.00,1.51zM174.66,134.09l-1.39,-0.76 0.00,-1.51 1.39,-0.76 1.39,0.76 0.00,1.51zM170.73,131.95l-1.39,-0.76 0.00,-1.51 1.39,-0.76 1.39,0.76 0.00,1.51zM173.35,131.95l-1.39,-0.76 0.00,-1.51 1.39,-0.76 1.39,0.76 0.00,1.51zM175.97,131.95l-1.39,-0.76 0.00,-1.51 1.39,-0.76 1.39,0.76 0.00,1.51zM189.07,131.95l-1.39,-0.76 0.00,-1.51 1.39,-0.76 1.39,0.76 0.00,1.51zM194.31,131.95l-1.39,-0.76 0.00,-1.51 1.39,-0.76 1.39,0.76 0.00,1.51zM169.42,129.81l-1.39,-0.76 0.00,-1.51 1.39,-0.76 1.39,0.76 0.00,1.51zM172.04,129.81l-1.39,-0.76 0.00,-1.51 1.39,-0.76 1.39,0.76 0.00,1.51zM187.76,129.81l-1.39,-0.76 0.00,-1.51 1.39,-0.76 1.39,0.76 0.00,1.51zM198.24,129.81l-1.39,-0.76 0.00,-1.51 1.39,-0.76 1.39,0.76 0.00,1.51zM178.59,127.67l-1.39,-0.76 0.00,-1.51 1.39,-0.76 1.39,0.76 0.00,1.51zM199.55,127.67l-1.39,-0.76 0.00,-1.51 1.39,-0.76 1.39,0.76 0.00,1.51zM202.17,127.67l-1.39,-0.76 0.00,-1.51 1.39,-0.76 1.39,0.76 0.00,1.51zM174.66,125.53l-1.39,-0.76 0.00,-1.51 1.39,-0.76 1.39,0.76 0.00,1.51zM182.52,125.53l-1.39,-0.76 0.00,-1.51 1.39,-0.76 1.39,0.76 0.00,1.51zM203.48,125.53l-1.39,-0.76 0.00,-1.51 1.39,-0.76 1.39,0.76 0.00,1.51zM179.90,121.25l-1.39,-0.76 0.00,-1.51 1.39,-0.76 1.39,0.76 0.00,1.51zM206.10,121.25l-1.39,-0.76 0.00,-1.51 1.39,-0.76 1.39,0.76 0.00,1.51zM186.45,119.11l-1.39,-0.76 0.00,-1.51 1.39,-0.76 1.39,0.76 0.00,1.51zM191.69,119.11l-1.39,-0.76 0.00,-1.51 1.39,-0.76 1.39,0.76 0.00,1.51zM204.79,119.11l-1.39,-0.76 0.00,-1.51 1.39,-0.76 1.39,0.76 0.00,1.51zM185.14,116.97l-1.39,-0.76 0.00,-1.51 1.39,-0.76 1.39,0.76 0.00,1.51zM193.00,116.97l-1.39,-0.76 0.00,-1.51 1.39,-0.76 1.39,0.76 0.00,1.51zM195.62,116.97l-1.39,-0.76 0.00,-1.51 1.39,-0.76 1.39,0.76 0.00,1.51zM208.72,116.97l-1.39,-0.76 0.00,-1.51 1.39,-0.76 1.39,0.76 0.00,1.51zM186.45,114.83l-1.39,-0.76 0.00,-1.51 1.39,-0.76 1.39,0.76 0.00,1.51zM189.07,114.83l-1.39,-0.76 0.00,-1.51 1.39,-0.76 1.39,0.76 0.00,1.51zM204.79,114.83l-1.39,-0.76 0.00,-1.51 1.39,-0.76 1.39,0.76 0.00,1.51zM190.38,112.69l-1.39,-0.76 0.00,-1.51 1.39,-0.76 1.39,0.76 0.00,1.51zM195.62,112.69l-1.39,-0.76 0.00,-1.51 1.39,-0.76 1.39,0.76 0.00,1.51zM198.24,112.69l-1.39,-0.76 0.00,-1.51 1.39,-0.76 1.39,0.76 0.00,1.51zM199.55,110.55l-1.39,-0.76 0.00,-1.51 1.39,-0.76 1.39,0.76 0.00,1.51zM215.27,110.55l-1.39,-0.76 0.00,-1.51 1.39,-0.76 1.39,0.76 0.00,1.51zM211.34,108.41l-1.39,-0.76 0.00,-1.51 1.39,-0.76 1.39,0.76 0.00,1.51zM196.93,106.27l-1.39,-0.76 0.00,-1.51 1.39,-0.76 1.39,0.76 0.00,1.51zM210.03,106.27l-1.39,-0.76 0.00,-1.51 1.39,-0.76 1.39,0.76 0.00,1.51zM215.27,106.27l-1.39,-0.76 0.00,-1.51 1.39,-0.76 1.39,0.76 0.00,1.51zM203.48,104.13l-1.39,-0.76 0.00,-1.51 1.39,-0.76 1.39,0.76 0.00,1.51zM213.96,104.13l-1.39,-0.76 0.00,-1.51 1.39,-0.76 1.39,0.76 0.00,1.51zM204.79,101.99l-1.39,-0.76 0.00,-1.51 1.39,-0.76 1.39,0.76 0.00,1.51zM219.20,99.85l-1.39,-0.76 0.00,-1.51 1.39,-0.76 1.39,0.76 0.00,1.51zM223.13,97.71l-1.39,-0.76 0.00,-1.51 1.39,-0.76 1.39,0.76 0.00,1.51zM213.96,95.57l-1.39,-0.76 0.00,-1.51 1.39,-0.76 1.39,0.76 0.00,1.51zM212.65,93.43l-1.39,-0.76 0.00,-1.51 1.39,-0.76 1.39,0.76 0.00,1.51zM223.13,93.43l-1.39,-0.76 0.00,-1.51 1.39,-0.76 1.39,0.76 0.00,1.51zM211.34,91.29l-1.39,-0.76 0.00,-1.51 1.39,-0.76 1.39,0.76 0.00,1.51zM216.58,91.29l-1.39,-0.76 0.00,-1.51 1.39,-0.76 1.39,0.76 0.00,1.51zM229.68,82.73l-1.39,-0.76 0.00,-1.51 1.39,-0.76 1.39,0.76 0.00,1.51zM237.54,78.45l-1.39,-0.76 0.00,-1.51 1.39,-0.76 1.39,0.76 0.00,1.51z" fill="#87c462"/>
<path d="M123.57,191.87l-1.39,-0.76 0.00,-1.51 1.39,-0.76 1.39,0.76 0.00,1.51zM124.88,189.73l-1.39,-0.76 0.00,-1.51 1.39,-0.76 1.39,0.76 0.00,1.51zM130.12,185.45l-1.39,-0.76 0.00,-1.51 1.39,-0.76 1.39,0.76 0.00,1.51zM132.74,185.45l-1.39,-0.76 0.00,-1.51 1.39,-0.76 1.39,0.76 0.00,1.51zM139.29,179.03l-1.39,-0.76 0.00,-1.51 1.39,-0.76 1.39,0.76 0.00,1.51zM132.74,176.89l-1.39,-0.76 0.00,-1.51 1.39,-0.76 1.39,0.76 0.00,1.51zM134.05,174.75l-1.39,-0.76 0.00,-1.51 1.39,-0.76 1.39,0.76 0.00,1.51zM144.53,174.75l-1.39,-0.76 0.00,-1.51 1.39,-0.76 1.39,0.76 0.00,1.51zM135.36,172.61l-1.39,-0.76 0.00,-1.51 1.39,-0.76 1.39,0.76 0.00,1.51zM145.84,172.61l-1.39,-0.76 0.00,-1.51 1.39,-0.76 1.39,0.76 0.00,1.51zM151.08,172.61l-1.39,-0.76 0.00,-1.51 1.39,-0.76 1.39,0.76 0.00,1.51zM147.15,170.47l-1.39,-0.76 0.00,-1.51 1.39,-0.76 1.39,0.76 0.00,1.51zM149.77,170.47l-1.39,-0.76 0.00,-1.51 1.39,-0.76 1.39,0.76 0.00,1.51zM145.84,168.33l-1.39,-0.76 0.00,-1.51 1.39,-0.76 1.39,0.76 0.00,1.51zM160.25,166.19l-1.39,-0.76 0.00,-1.51 1.39,-0.76 1.39,0.76 0.00,1.51zM164.18,164.05l-1.39,-0.76 0.00,-1.51 1.39,-0.76 1.39,0.76 0.00,1.51zM149.77,161.91l-1.39,-0.76 0.00,-1.51 1.39,-0.76 1.39,0.76 0.00,1.51zM161.56,159.77l-1.39,-0.76 0.00,-1.51 1.39,-0.76 1.39,0.76 0.00,1.51zM164.18,159.77l-1.39,-0.76 0.00,-1.51 1.39,-0.76 1.39,0.76 0.00,1.51zM155.01,157.63l-1.39,-0.76 0.00,-1.51 1.39,-0.76 1.39,0.76 0.00,1.51zM157.63,157.63l-1.39,-0.76 0.00,-1.51 1.39,-0.76 1.39,0.76 0.00,1.51zM160.25,157.63l-1.39,-0.76 0.00,-1.51 1.39,-0.76 1.39,0.76 0.00,1.51zM162.87,157.63l-1.39,-0.76 0.00,-1.51 1.39,-0.76 1.39,0.76 0.00,1.51zM153.70,155.49l-1.39,-0.76 0.00,-1.51 1.39,-0.76 1.39,0.76 0.00,1.51zM158.94,155.49l-1.39,-0.76 0.00,-1.51 1.39,-0.76 1.39,0.76 0.00,1.51zM169.42,155.49l-1.39,-0.76 0.00,-1.51 1.39,-0.76 1.39,0.76 0.00,1.51zM155.01,153.35l-1.39,-0.76 0.00,-1.51 1.39,-0.76 1.39,0.76 0.00,1.51zM165.49,153.35l-1.39,-0.76 0.00,-1.51 1.39,-0.76 1.39,0.76 0.00,1.51zM170.73,153.35l-1.39,-0.76 0.00,-1.51 1.39,-0.76 1.39,0.76 0.00,1.51zM153.70,151.21l-1.39,-0.76 0.00,-1.51 1.39,-0.76 1.39,0.76 0.00,1.51zM156.32,151.21l-1.39,-0.76 0.00,-1.51 1.39,-0.76 1.39,0.76 0.00,1.51zM161.56,151.21l-1.39,-0.76 0.00,-1.51 1.39,-0.76 1.39,0.76 0.00,1.51zM166.80,146.93l-1.39,-0.76 0.00,-1.51 1.39,-0.76 1.39,0.76 0.00,1.51zM174.66,146.93l-1.39,-0.76 0.00,-1.51 1.39,-0.76 1.39,0.76 0.00,1.51zM165.49,144.79l-1.39,-0.76 0.00,-1.51 1.39,-0.76 1.39,0.76 0.00,1.51zM168.11,144.79l-1.39,-0.76 0.00,-1.51 1.39,-0.76 1.39,0.76 0.00,1.51zM175.97,144.79l-1.39,-0.76 0.00,-1.51 1.39,-0.76 1.39,0.76 0.00,1.51zM166.80,142.65l-1.39,-0.76 0.00,-1.51 1.39,-0.76 1.39,0.76 0.00,1.51zM182.52,142.65l-1.39,-0.76 0.00,-1.51 1.39,-0.76 1.39,0.76 0.00,1.51zM162.87,140.51l-1.39,-0.76 0.00,-1.51 1.39,-0.76 1.39,0.76 0.00,1.51zM165.49,140.51l-1.39,-0.76 0.00,-1.51 1.39,-0.76 1.39,0.76 0.00,1.51zM166.80,138.37l-1.39,-0.76 0.00,-1.51 1.39,-0.76 1.39,0.76 0.00,1.51zM169.42,138.37l-1.39,-0.76 0.00,-1.51 1.39,-0.76 1.39,0.76 0.00,1.51zM174.66,138.37l-1.39,-0.76 0.00,-1.51 1.39,-0.76 1.39,0.76 0.00,1.51zM187.76,138.37l-1.39,-0.76 0.00,-1.51 1.39,-0.76 1.39,0.76 0.00,1.51zM168.11,136.23l-1.39,-0.76 0.00,-1.51 1.39,-0.76 1.39,0.76 0.00,1.51zM170.73,136.23l-1.39,-0.76 0.00,-1.51 1.39,-0.76 1.39,0.76 0.00,1.51zM173.35,136.23l-1.39,-0.76 0.00,-1.51 1.39,-0.76 1.39,0.76 0.00,1.51zM175.97,136.23l-1.39,-0.76 0.00,-1.51 1.39,-0.76 1.39,0.76 0.00,1.51zM186.45,131.95l-1.39,-0.76 0.00,-1.51 1.39,-0.76 1.39,0.76 0.00,1.51zM174.66,129.81l-1.39,-0.76 0.00,-1.51 1.39,-0.76 1.39,0.76 0.00,1.51zM177.28,129.81l-1.39,-0.76 0.00,-1.51 1.39,-0.76 1.39,0.76 0.00,1.51zM179.90,129.81l-1.39,-0.76 0.00,-1.51 1.39,-0.76 1.39,0.76 0.00,1.51zM185.14,129.81l-1.39,-0.76 0.00,-1.51 1.39,-0.76 1.39,0.76 0.00,1.51zM190.38,129.81l-1.39,-0.76 0.00,-1.51 1.39,-0.76 1.39,0.76 0.00,1.51zM193.00,129.81l-1.39,-0.76 0.00,-1.51 1.39,-0.76 1.39,0.76 0.00,1.51zM183.83,127.67l-1.39,-0.76 0.00,-1.51 1.39,-0.76 1.39,0.76 0.00,1.51zM186.45,127.67l-1.39,-0.76 0.00,-1.51 1.39,-0.76 1.39,0.76 0.00,1.51zM189.07,127.67l-1.39,-0.76 0.00,-1.51 1.39,-0.76 1.39,0.76 0.00,1.51zM194.31,127.67l-1.39,-0.76 0.00,-1.51 1.39,-0.76 1.39,0.76 0.00,1.51zM196.93,127.67l-1.39,-0.76 0.00,-1.51 1.39,-0.76 1.39,0.76 0.00,1.51zM183.83,123.39l-1.39,-0.76 0.00,-1.51 1.39,-0.76 1.39,0.76 0.00,1.51zM186.45,123.39l-1.39,-0.76 0.00,-1.51 1.39,-0.76 1.39,0.76 0.00,1.51zM194.31,123.39l-1.39,-0.76 0.00,-1.51 1.39,-0.76 1.39,0.76 0.00,1.51zM199.55,123.39l-1.39,-0.76 0.00,-1.51 1.39,-0.76 1.39,0.76 0.00,1.51zM182.52,121.25l-1.39,-0.76 0.00,-1.51 1.39,-0.76 1.39,0.76 0.00,1.51zM187.76,121.25l-1.39,-0.76 0.00,-1.51 1.39,-0.76 1.39,0.76 0.00,1.51zM190.38,121.25l-1.39,-0.76 0.00,-1.51 1.39,-0.76 1.39,0.76 0.00,1.51zM193.00,121.25l-1.39,-0.76 0.00,-1.51 1.39,-0.76 1.39,0.76 0.00,1.51zM203.48,121.25l-1.39,-0.76 0.00,-1.51 1.39,-0.76 1.39,0.76 0.00,1.51zM189.07,119.11l-1.39,-0.76 0.00,-1.51 1.39,-0.76 1.39,0.76 0.00,1.51zM194.31,119.11l-1.39,-0.76 0.00,-1.51 1.39,-0.76 1.39,0.76 0.00,1.51zM196.93,119.11l-1.39,-0.76 0.00,-1.51 1.39,-0.76 1.39,0.76 0.00,1.51zM207.41,119.11l-1.39,-0.76 0.00,-1.51 1.39,-0.76 1.39,0.76 0.00,1.51zM187.76,116.97l-1.39,-0.76 0.00,-1.51 1.39,-0.76 1.39,0.76 0.00,1.51zM190.38,116.97l-1.39,-0.76 0.00,-1.51 1.39,-0.76 1.39,0.76 0.00,1.51zM194.31,114.83l-1.39,-0.76 0.00,-1.51 1.39,-0.76 1.39,0.76 0.00,1.51zM210.03,114.83l-1.39,-0.76 0.00,-1.51 1.39,-0.76 1.39,0.76 0.00,1.51zM193.00,112.69l-1.39,-0.76 0.00,-1.51 1.39,-0.76 1.39,0.76 0.00,1.51zM200.86,112.69l-1.39,-0.76 0.00,-1.51 1.39,-0.76 1.39,0.76 0.00,1.51zM211.34,112.69l-1.39,-0.76 0.00,-1.51 1.39,-0.76 1.39,0.76 0.00,1.51zM195.62,108.41l-1.39,-0.76 0.00,-1.51 1.39,-0.76 1.39,0.76 0.00,1.51zM200.86,108.41l-1.39,-0.76 0.00,-1.51 1.39,-0.76 1.39,0.76 0.00,1.51zM203.48,108.41l-1.39,-0.76 0.00,-1.51 1.39,-0.76 1.39,0.76 0.00,1.51zM208.72,108.41l-1.39,-0.76 0.00,-1.51 1.39,-0.76 1.39,0.76 0.00,1.51zM207.41,106.27l-1.39,-0.76 0.00,-1.51 1.39,-0.76 1.39,0.76 0.00,1.51zM206.10,99.85l-1.39,-0.76 0.00,-1.51 1.39,-0.76 1.39,0.76 0.00,1.51zM207.41,97.71l-1.39,-0.76 0.00,-1.51 1.39,-0.76 1.39,0.76 0.00,1.51zM211.34,95.57l-1.39,-0.76 0.00,-1.51 1.39,-0.76 1.39,0.76 0.00,1.51zM219.20,95.57l-1.39,-0.76 0.00,-1.51 1.39,-0.76 1.39,0.76 0.00,1.51zM221.82,95.57l-1.39,-0.76 0.00,-1.51 1.39,-0.76 1.39,0.76 0.00,1.51zM224.44,95.57l-1.39,-0.76 0.00,-1.51 1.39,-0.76 1.39,0.76 0.00,1.51zM215.27,93.43l-1.39,-0.76 0.00,-1.51 1.39,-0.76 1.39,0.76 0.00,1.51zM217.89,93.43l-1.39,-0.76 0.00,-1.51 1.39,-0.76 1.39,0.76 0.00,1.51zM225.75,89.15l-1.39,-0.76 0.00,-1.51 1.39,-0.76 1.39,0.76 0.00,1.51z" fill="#93c45e"/>
<path d="M127.50,185.45l-1.39,-0.76 0.00,-1.51 1.39,-0.76 1.39,0.76 0.00,1.51zM128.81,183.31l-1.39,-0.76 0.00,-1.51 1.39,-0.76 1.39,0.76 0.00,1.51zM151.08,168.33l-1.39,-0.76 0.00,-1.51 1.39,-0.76 1.39,0.76 0.00,1.51zM152.39,166.19l-1.39,-0.76 0.00,-1.51 1.39,-0.76 1.39,0.76 0.00,1.51zM156.32,164.05l-1.39,-0.76 0.00,-1.51 1.39,-0.76 1.39,0.76 0.00,1.51zM161.56,164.05l-1.39,-0.76 0.00,-1.51 1.39,-0.76 1.39,0.76 0.00,1.51zM155.01,161.91l-1.39,-0.76 0.00,-1.51 1.39,-0.76 1.39,0.76 0.00,1.51zM157.63,161.91l-1.39,-0.76 0.00,-1.51 1.39,-0.76 1.39,0.76 0.00,1.51zM148.46,159.77l-1.39,-0.76 0.00,-1.51 1.39,-0.76 1.39,0.76 0.00,1.51zM151.08,159.77l-1.39,-0.76 0.00,-1.51 1.39,-0.76 1.39,0.76 0.00,1.51zM156.32,159.77l-1.39,-0.76 0.00,-1.51 1.39,-0.76 1.39,0.76 0.00,1.51zM152.39,157.63l-1.39,-0.76 0.00,-1.51 1.39,-0.76 1.39,0.76 0.00,1.51zM164.18,155.49l-1.39,-0.76 0.00,-1.51 1.39,-0.76 1.39,0.76 0.00,1.51zM168.11,153.35l-1.39,-0.76 0.00,-1.51 1.39,-0.76 1.39,0.76 0.00,1.51zM158.94,151.21l-1.39,-0.76 0.00,-1.51 1.39,-0.76 1.39,0.76 0.00,1.51zM160.25,149.07l-1.39,-0.76 0.00,-1.51 1.39,-0.76 1.39,0.76 0.00,1.51zM168.11,149.07l-1.39,-0.76 0.00,-1.51 1.39,-0.76 1.39,0.76 0.00,1.51zM169.42,146.93l-1.39,-0.76 0.00,-1.51 1.39,-0.76 1.39,0.76 0.00,1.51zM162.87,144.79l-1.39,-0.76 0.00,-1.51 1.39,-0.76 1.39,0.76 0.00,1.51zM173.35,140.51l-1.39,-0.76 0.00,-1.51 1.39,-0.76 1.39,0.76 0.00,1.51zM181.21,140.51l-1.39,-0.76 0.00,-1.51 1.39,-0.76 1.39,0.76 0.00,1.51zM172.04,138.37l-1.39,-0.76 0.00,-1.51 1.39,-0.76 1.39,0.76 0.00,1.51zM189.07,136.23l-1.39,-0.76 0.00,-1.51 1.39,-0.76 1.39,0.76 0.00,1.51zM177.28,134.09l-1.39,-0.76 0.00,-1.51 1.39,-0.76 1.39,0.76 0.00,1.51zM178.59,131.95l-1.39,-0.76 0.00,-1.51 1.39,-0.76 1.39,0.76 0.00,1.51zM183.83,131.95l-1.39,-0.76 0.00,-1.51 1.39,-0.76 1.39,0.76 0.00,1.51zM182.52,129.81l-1.39,-0.76 0.00,-1.51 1.39,-0.76 1.39,0.76 0.00,1.51zM198.24,125.53l-1.39,-0.76 0.00,-1.51 1.39,-0.76 1.39,0.76 0.00,1.51zM189.07,123.39l-1.39,-0.76 0.00,-1.51 1.39,-0.76 1.39,0.76 0.00,1.51zM195.62,121.25l-1.39,-0.76 0.00,-1.51 1.39,-0.76 1.39,0.76 0.00,1.51zM200.86,121.25l-1.39,-0.76 0.00,-1.51 1.39,-0.76 1.39,0.76 0.00,1.51zM191.69,114.83l-1.39,-0.76 0.00,-1.51 1.39,-0.76 1.39,0.76 0.00,1.51zM199.55,114.83l-1.39,-0.76 0.00,-1.51 1.39,-0.76 1.39,0.76 0.00,1.51zM202.17,114.83l-1.39,-0.76 0.00,-1.51 1.39,-0.76 1.39,0.76 0.00,1.51zM210.03,110.55l-1.39,-0.76 0.00,-1.51 1.39,-0.76 1.39,0.76 0.00,1.51zM206.10,108.41l-1.39,-0.76 0.00,-1.51 1.39,-0.76 1.39,0.76 0.00,1.51zM204.79,106.27l-1.39,-0.76 0.00,-1.51 1.39,-0.76 1.39,0.76 0.00,1.51zM208.72,104.13l-1.39,-0.76 0.00,-1.51 1.39,-0.76 1.39,0.76 0.00,1.51zM211.34,104.13l-1.39,-0.76 0.00,-1.51 1.39,-0.76 1.39,0.76 0.00,1.51zM229.68,87.01l-1.39,-0.76 0.00,-1.51 1.39,-0.76 1.39,0.76 0.00,1.51z" fill="#a0c45a"/>
<path d="M148.46,172.61l-1.39,-0.76 0.00,-1.51 1.39,-0.76 1.39,0.76 0.00,1.51zM166.80,155.49l-1.39,-0.76 0.00,-1.51 1.39,-0.76 1.39,0.76 0.00,1.51zM157.63,153.35l-1.39,-0.76 0.00,-1.51 1.39,-0.76 1.39,0.76 0.00,1.51zM160.25,153.35l-1.39,-0.76 0.00,-1.51 1.39,-0.76 1.39,0.76 0.00,1.51zM169.42,151.21l-1.39,-0.76 0.00,-1.51 1.39,-0.76 1.39,0.76 0.00,1.51zM161.56,146.93l-1.39,-0.76 0.00,-1.51 1.39,-0.76 1.39,0.76 0.00,1.51zM173.35,144.79l-1.39,-0.76 0.00,-1.51 1.39,-0.76 1.39,0.76 0.00,1.51zM174.66,142.65l-1.39,-0.76 0.00,-1.51 1.39,-0.76 1.39,0.76 0.00,1.51zM178.59,140.51l-1.39,-0.76 0.00,-1.51 1.39,-0.76 1.39,0.76 0.00,1.51zM179.90,134.09l-1.39,-0.76 0.00,-1.51 1.39,-0.76 1.39,0.76 0.00,1.51zM182.52,134.09l-1.39,-0.76 0.00,-1.51 1.39,-0.76 1.39,0.76 0.00,1.51zM187.76,134.09l-1.39,-0.76 0.00,-1.51 1.39,-0.76 1.39,0.76 0.00,1.51zM190.38,134.09l-1.39,-0.76 0.00,-1.51 1.39,-0.76 1.39,0.76 0.00,1.51zM181.21,131.95l-1.39,-0.76 0.00,-1.51 1.39,-0.76 1.39,0.76 0.00,1.51zM185.14,125.53l-1.39,-0.76 0.00,-1.51 1.39,-0.76 1.39,0.76 0.00,1.51zM187.76,125.53l-1.39,-0.76 0.00,-1.51 1.39,-0.76 1.39,0.76 0.00,1.51zM190.38,125.53l-1.39,-0.76 0.00,-1.51 1.39,-0.76 1.39,0.76 0.00,1.51zM193.00,125.53l-1.39,-0.76 0.00,-1.51 1.39,-0.76 1.39,0.76 0.00,1.51zM191.69,123.39l-1.39,-0.76 0.00,-1.51 1.39,-0.76 1.39,0.76 0.00,1.51zM203.48,116.97l-1.39,-0.76 0.00,-1.51 1.39,-0.76 1.39,0.76 0.00,1.51zM204.79,110.55l-1.39,-0.76 0.00,-1.51 1.39,-0.76 1.39,0.76 0.00,1.51zM208.72,99.85l-1.39,-0.76 0.00,-1.51 1.39,-0.76 1.39,0.76 0.00,1.51z" fill="#adc556"/>
<path d="M156.32,155.49l-1.39,-0.76 0.00,-1.51 1.39,-0.76 1.39,0.76 0.00,1.51zM172.04,146.93l-1.39,-0.76 0.00,-1.51 1.39,-0.76 1.39,0.76 0.00,1.51zM175.97,140.51l-1.39,-0.76 0.00,-1.51 1.39,-0.76 1.39,0.76 0.00,1.51zM177.28,138.37l-1.39,-0.76 0.00,-1.51 1.39,-0.76 1.39,0.76 0.00,1.51zM195.62,125.53l-1.39,-0.76 0.00,-1.51 1.39,-0.76 1.39,0.76 0.00,1.51zM199.55,119.11l-1.39,-0.76 0.00,-1.51 1.39,-0.76 1.39,0.76 0.00,1.51zM202.17,119.11l-1.39,-0.76 0.00,-1.51 1.39,-0.76 1.39,0.76 0.00,1.51z" fill="#b9c652"/>
<path d="M152.39,161.91l-1.39,-0.76 0.00,-1.51 1.39,-0.76 1.39,0.76 0.00,1.51zM153.70,159.77l-1.39,-0.76 0.00,-1.51 1.39,-0.76 1.39,0.76 0.00,1.51zM170.73,149.07l-1.39,-0.76 0.00,-1.51 1.39,-0.76 1.39,0.76 0.00,1.51z" fill="#c6c64e"/>
<line x1="71.08" y1="243.79" x2="240.92" y2="72.17" stroke="#3366ff" stroke-width="2.2"/>
<line x1="59.75" y1="251.6" x2="274.45" y2="42" stroke="#7f7f7f" stroke-width="2.2" stroke-dasharray="15.6 6.67" stroke-dashoffset="10.07"/>
<rect x="59.75" y="42" width="214.7" height="209.7" fill="none" stroke="#4a4a4a" stroke-width="1.4"/>
<line x1="56.8" y1="246.00" x2="59.75" y2="246.00" stroke="#4a4a4a" stroke-width="1.3"/>
<text x="52.60" y="253.10" font-size="20.8" text-anchor="end" >0</text>
<line x1="65.50" y1="251.7" x2="65.50" y2="254.7" stroke="#4a4a4a" stroke-width="1.3"/>
<text x="65.80" y="273.60" font-size="20.8" text-anchor="middle" >0</text>
<line x1="56.8" y1="184.03" x2="59.75" y2="184.03" stroke="#4a4a4a" stroke-width="1.3"/>
<text x="52.60" y="191.13" font-size="20.8" text-anchor="end" >5</text>
<line x1="128.97" y1="251.7" x2="128.97" y2="254.7" stroke="#4a4a4a" stroke-width="1.3"/>
<text x="128.47" y="273.60" font-size="20.8" text-anchor="middle" >5</text>
<line x1="56.8" y1="122.07" x2="59.75" y2="122.07" stroke="#4a4a4a" stroke-width="1.3"/>
<text x="52.60" y="129.17" font-size="20.8" text-anchor="end" >10</text>
<line x1="192.43" y1="251.7" x2="192.43" y2="254.7" stroke="#4a4a4a" stroke-width="1.3"/>
<text x="192.73" y="273.60" font-size="20.8" text-anchor="middle" >10</text>
<line x1="56.8" y1="60.10" x2="59.75" y2="60.10" stroke="#4a4a4a" stroke-width="1.3"/>
<text x="52.60" y="67.20" font-size="20.8" text-anchor="end" >15</text>
<line x1="255.89" y1="251.7" x2="255.89" y2="254.7" stroke="#4a4a4a" stroke-width="1.3"/>
<text x="256.19" y="273.60" font-size="20.8" text-anchor="middle" >15</text>
<g transform="translate(26.6,307)"><text x="0" y="0" font-size="20.85">log(predicted MPs items m</text><rect x="248.7" y="-12.0" width="4.2" height="1.25" fill="#000"/><text x="254.0" y="-7.2" font-size="11.5">3</text><text x="261.8" y="0" font-size="20.85">)</text></g>
<g transform="translate(17.2,282.0) rotate(-90)"><text x="0" y="0" font-size="20.85">log(observed MPs items m</text><rect x="248.7" y="-12.0" width="4.2" height="1.25" fill="#000"/><text x="254.0" y="-7.2" font-size="11.5">3</text><text x="261.8" y="0" font-size="20.85">)</text></g>
<text x="58.50" y="16.00" font-size="23" text-anchor="start" >a</text>
<text x="66.5" y="72" font-size="19" font-style="italic">R</text>
<text x="82.60" y="63.30" font-size="12.3" text-anchor="start" >2</text>
<text x="91.60" y="72.00" font-size="19" text-anchor="start" >=</text>
<text x="107.00" y="72.00" font-size="19" text-anchor="start" >0.86</text>
<defs><linearGradient id="lg" x1="0" y1="1" x2="0" y2="0"><stop offset="0" stop-color="#4db848"/><stop offset="0.25" stop-color="#7cba3e"/><stop offset="0.46" stop-color="#a7b935"/><stop offset="0.7" stop-color="#d4b725"/><stop offset="0.94" stop-color="#f6b60a"/><stop offset="1" stop-color="#fab700"/></linearGradient></defs>
<rect x="218.9" y="176.9" width="10" height="68" fill="url(#lg)"/>
<line x1="218.9" y1="181" x2="223.0" y2="181" stroke="#fff" stroke-opacity="0.75" stroke-width="0.7"/><line x1="225.0" y1="181" x2="228.9" y2="181" stroke="#fff" stroke-opacity="0.75" stroke-width="0.7"/>
<line x1="218.9" y1="213.6" x2="223.0" y2="213.6" stroke="#fff" stroke-opacity="0.75" stroke-width="0.7"/><line x1="225.0" y1="213.6" x2="228.9" y2="213.6" stroke="#fff" stroke-opacity="0.75" stroke-width="0.7"/>
<text x="216.50" y="164.50" font-size="18.5" text-anchor="start" >count</text>
<text x="234.00" y="187.50" font-size="16" text-anchor="start" >40</text>
<text x="234.00" y="219.60" font-size="16" text-anchor="start" >20</text>
<rect x="449.7" y="47.95" width="165.80" height="20.8" fill="#b8cdec"/>
<text x="613.50" y="63.65" font-size="16.5" text-anchor="end" >26.18</text>
<line x1="446.3" y1="58.35" x2="449.7" y2="58.35" stroke="#333" stroke-width="1.2"/>
<text x="441.60" y="64.05" font-size="20.8" text-anchor="end" >HDI</text>
<rect x="449.7" y="90.80" width="134.39" height="20.8" fill="#b8cdec"/>
<text x="576.60" y="106.50" font-size="16.5" text-anchor="end" >21.22</text>
<line x1="446.3" y1="101.20" x2="449.7" y2="101.20" stroke="#333" stroke-width="1.2"/>
<text x="441.60" y="106.90" font-size="20.8" text-anchor="end" >AET</text>
<rect x="449.7" y="134.15" width="120.83" height="20.8" fill="#b8cdec"/>
<text x="563.80" y="149.85" font-size="16.5" text-anchor="end" >19.08</text>
<line x1="446.3" y1="144.55" x2="449.7" y2="144.55" stroke="#333" stroke-width="1.2"/>
<text x="441.60" y="150.25" font-size="20.8" text-anchor="end" >Cropland</text>
<rect x="449.7" y="176.65" width="109.37" height="20.8" fill="#b8cdec"/>
<text x="552.20" y="192.35" font-size="16.5" text-anchor="end" >17.27</text>
<line x1="446.3" y1="187.05" x2="449.7" y2="187.05" stroke="#333" stroke-width="1.2"/>
<text x="441.60" y="192.75" font-size="20.8" text-anchor="end" >PET</text>
<rect x="449.7" y="219.60" width="102.85" height="20.8" fill="#b8cdec"/>
<text x="546.90" y="235.30" font-size="16.5" text-anchor="end" >16.24</text>
<line x1="446.3" y1="230.00" x2="449.7" y2="230.00" stroke="#333" stroke-width="1.2"/>
<text x="441.60" y="235.70" font-size="20.8" text-anchor="end" >LSR</text>
<rect x="449" y="32" width="204" height="2" fill="#a3a3a3"/>
<line x1="652.6" y1="33" x2="652.6" y2="256" stroke="#444" stroke-width="1.2"/>
<line x1="449.6" y1="32.2" x2="449.6" y2="256" stroke="#333" stroke-width="1.3"/>
<line x1="449" y1="255.5" x2="653.2" y2="255.5" stroke="#444" stroke-width="1.2"/>
<line x1="449.70" y1="255.5" x2="449.70" y2="258.7" stroke="#444" stroke-width="1.2"/>
<line x1="544.69" y1="255.5" x2="544.69" y2="258.7" stroke="#444" stroke-width="1.2"/>
<text x="450.30" y="276.00" font-size="20.8" text-anchor="middle" >0</text>
<text x="547.70" y="276.00" font-size="20.8" text-anchor="middle" >15</text>
<text x="642.20" y="276.00" font-size="20.8" text-anchor="middle" >30</text>
<text x="436.90" y="306.90" font-size="21" text-anchor="start" >Relative importance (%)</text>
<text x="446.50" y="16.00" font-size="23" text-anchor="start" >b</text>
<rect x="54.6" y="360.7" width="170.00" height="150.50" fill="none" stroke="#bdbdbd" stroke-width="1.2"/>
<line x1="54.6" y1="504.50" x2="57.90" y2="504.50" stroke="#bdbdbd" stroke-width="1"/>
<text transform="translate(45.90,506.90) rotate(-90)" font-size="21.3" text-anchor="middle" >5</text>
<line x1="54.6" y1="449.90" x2="57.90" y2="449.90" stroke="#bdbdbd" stroke-width="1"/>
<text transform="translate(45.90,452.30) rotate(-90)" font-size="21.3" text-anchor="middle" >6</text>
<line x1="54.6" y1="395.30" x2="57.90" y2="395.30" stroke="#bdbdbd" stroke-width="1"/>
<text transform="translate(45.90,397.70) rotate(-90)" font-size="21.3" text-anchor="middle" >7</text>
<line x1="77.00" y1="507.90" x2="77.00" y2="511.2" stroke="#bdbdbd" stroke-width="1"/>
<text x="79.50" y="532.20" font-size="20.8" text-anchor="middle" >0.5</text>
<line x1="133.20" y1="507.90" x2="133.20" y2="511.2" stroke="#bdbdbd" stroke-width="1"/>
<text x="136.00" y="532.20" font-size="20.8" text-anchor="middle" >0.7</text>
<line x1="189.20" y1="507.90" x2="189.20" y2="511.2" stroke="#bdbdbd" stroke-width="1"/>
<text x="191.50" y="532.20" font-size="20.8" text-anchor="middle" >0.9</text>
<circle cx="61.5" cy="382.0" r="3.45" fill="#b4cdee"/>
<circle cx="65.3" cy="381.3" r="3.45" fill="#b4cdee"/>
<circle cx="69.1" cy="383.2" r="3.45" fill="#b4cdee"/>
<circle cx="71.6" cy="390.4" r="3.45" fill="#b4cdee"/>
<circle cx="83.9" cy="398.0" r="3.45" fill="#b4cdee"/>
<circle cx="87.3" cy="403.3" r="3.45" fill="#b4cdee"/>
<circle cx="92.9" cy="410.2" r="3.45" fill="#b4cdee"/>
<circle cx="95.4" cy="404.0" r="3.45" fill="#b4cdee"/>
<circle cx="99.2" cy="401.4" r="3.45" fill="#b4cdee"/>
<circle cx="104.2" cy="402.7" r="3.45" fill="#b4cdee"/>
<circle cx="108.0" cy="404.6" r="3.45" fill="#b4cdee"/>
<circle cx="111.8" cy="409.6" r="3.45" fill="#b4cdee"/>
<circle cx="115.5" cy="410.2" r="3.45" fill="#b4cdee"/>
<circle cx="120.5" cy="410.2" r="3.45" fill="#b4cdee"/>
<circle cx="125.6" cy="409.6" r="3.45" fill="#b4cdee"/>
<circle cx="130.0" cy="410.8" r="3.45" fill="#b4cdee"/>
<circle cx="74.7" cy="436.6" r="3.45" fill="#b4cdee"/>
<circle cx="80.7" cy="433.4" r="3.45" fill="#b4cdee"/>
<circle cx="146.0" cy="372.8" r="3.45" fill="#b4cdee"/>
<circle cx="149.1" cy="380.4" r="3.45" fill="#b4cdee"/>
<circle cx="152.2" cy="395.8" r="3.45" fill="#b4cdee"/>
<circle cx="161.2" cy="396.8" r="3.45" fill="#b4cdee"/>
<circle cx="165.4" cy="399.5" r="3.45" fill="#b4cdee"/>
<circle cx="170.2" cy="397.4" r="3.45" fill="#b4cdee"/>
<circle cx="173.7" cy="393.3" r="3.45" fill="#b4cdee"/>
<circle cx="177.2" cy="393.3" r="3.45" fill="#b4cdee"/>
<circle cx="180.2" cy="394.7" r="3.45" fill="#b4cdee"/>
<circle cx="158.4" cy="417.3" r="3.45" fill="#b4cdee"/>
<circle cx="155.2" cy="432.4" r="3.45" fill="#b4cdee"/>
<circle cx="183.1" cy="427.1" r="3.45" fill="#b4cdee"/>
<circle cx="201.6" cy="435.6" r="3.45" fill="#b4cdee"/>
<circle cx="204.9" cy="385.0" r="3.45" fill="#b4cdee"/>
<circle cx="207.9" cy="381.5" r="3.45" fill="#b4cdee"/>
<circle cx="212.5" cy="387.7" r="3.45" fill="#b4cdee"/>
<circle cx="217.4" cy="387.0" r="3.45" fill="#b4cdee"/>
<circle cx="77.7" cy="442.7" r="3.45" fill="#b4cdee"/>
<circle cx="198.8" cy="445.2" r="3.45" fill="#b4cdee"/>
<circle cx="195.5" cy="447.5" r="3.45" fill="#b4cdee"/>
<circle cx="192.5" cy="467.4" r="3.45" fill="#b4cdee"/>
<circle cx="189.3" cy="474.4" r="3.45" fill="#b4cdee"/>
<circle cx="88.9" cy="406.2" r="3.45" fill="#b4cdee"/>
<circle cx="101.4" cy="404.9" r="3.45" fill="#b4cdee"/>
<circle cx="105.2" cy="404.9" r="3.45" fill="#b4cdee"/>
<circle cx="113.9" cy="409.4" r="3.45" fill="#b4cdee"/>
<circle cx="121.4" cy="408.7" r="3.45" fill="#b4cdee"/>
<circle cx="127.6" cy="411.2" r="3.45" fill="#b4cdee"/>
<circle cx="166.3" cy="398.7" r="3.45" fill="#b4cdee"/>
<circle cx="170.1" cy="397.4" r="3.45" fill="#b4cdee"/>
<circle cx="97.7" cy="402.4" r="3.45" fill="#b4cdee"/>
<circle cx="110.2" cy="407.4" r="3.45" fill="#b4cdee"/>
<circle cx="117.7" cy="409.9" r="3.45" fill="#b4cdee"/>
<circle cx="64.0" cy="382.0" r="3.45" fill="#b4cdee"/>
<circle cx="66.5" cy="382.5" r="3.45" fill="#b4cdee"/>
<path d="M62.20,395.80 C63.97,396.95 68.93,400.82 72.80,402.70 C76.67,404.58 81.63,405.95 85.40,407.10 C89.17,408.25 92.47,409.28 95.40,409.60 C98.33,409.92 100.48,409.52 103.00,409.00 C105.52,408.48 107.17,407.33 110.50,406.50 C113.83,405.67 119.75,404.47 123.00,404.00 C126.25,403.53 127.17,404.13 130.00,403.70 C132.83,403.27 136.53,401.93 140.00,401.40 C143.47,400.87 147.38,400.35 150.80,400.50 C154.22,400.65 157.50,401.08 160.50,402.30 C163.50,403.52 166.02,405.95 168.80,407.80 C171.58,409.65 173.97,412.30 177.20,413.40 C180.43,414.50 184.52,414.63 188.20,414.40 C191.88,414.17 195.83,413.43 199.30,412.00 C202.77,410.57 206.10,407.77 209.00,405.80 C211.90,403.83 215.42,401.13 216.70,400.20" fill="none" stroke="#16214f" stroke-width="3.35" stroke-linecap="butt" stroke-linejoin="round"/>
<text x="54.10" y="351.00" font-size="23" text-anchor="start" >c</text>
<text x="133.20" y="558.50" font-size="23" text-anchor="middle" >HDI</text>
<rect x="284.5" y="360.7" width="170.10" height="150.50" fill="none" stroke="#bdbdbd" stroke-width="1.2"/>
<line x1="284.5" y1="504.50" x2="287.80" y2="504.50" stroke="#bdbdbd" stroke-width="1"/>
<text transform="translate(276.90,505.75) rotate(-90)" font-size="21.3" text-anchor="middle" >5</text>
<line x1="284.5" y1="449.90" x2="287.80" y2="449.90" stroke="#bdbdbd" stroke-width="1"/>
<text transform="translate(276.90,451.15) rotate(-90)" font-size="21.3" text-anchor="middle" >6</text>
<line x1="284.5" y1="395.30" x2="287.80" y2="395.30" stroke="#bdbdbd" stroke-width="1"/>
<text transform="translate(276.90,396.55) rotate(-90)" font-size="21.3" text-anchor="middle" >7</text>
<line x1="286.40" y1="507.90" x2="286.40" y2="511.2" stroke="#bdbdbd" stroke-width="1"/>
<text x="288.20" y="532.20" font-size="20.8" text-anchor="middle" >0</text>
<line x1="355.50" y1="507.90" x2="355.50" y2="511.2" stroke="#bdbdbd" stroke-width="1"/>
<text x="359.00" y="532.20" font-size="20.8" text-anchor="middle" >700</text>
<line x1="424.40" y1="507.90" x2="424.40" y2="511.2" stroke="#bdbdbd" stroke-width="1"/>
<text x="429.20" y="532.20" font-size="20.8" text-anchor="middle" >1400</text>
<circle cx="291.5" cy="463.6" r="3.45" fill="#b4cdee"/>
<circle cx="295.2" cy="464.3" r="3.45" fill="#b4cdee"/>
<circle cx="299.0" cy="463.1" r="3.45" fill="#b4cdee"/>
<circle cx="302.0" cy="464.1" r="3.45" fill="#b4cdee"/>
<circle cx="307.7" cy="476.8" r="3.45" fill="#b4cdee"/>
<circle cx="311.0" cy="485.3" r="3.45" fill="#b4cdee"/>
<circle cx="314.0" cy="488.6" r="3.45" fill="#b4cdee"/>
<circle cx="317.0" cy="487.8" r="3.45" fill="#b4cdee"/>
<circle cx="321.0" cy="479.8" r="3.45" fill="#b4cdee"/>
<circle cx="324.0" cy="478.6" r="3.45" fill="#b4cdee"/>
<circle cx="326.4" cy="461.1" r="3.45" fill="#b4cdee"/>
<circle cx="329.7" cy="429.4" r="3.45" fill="#b4cdee"/>
<circle cx="332.7" cy="426.1" r="3.45" fill="#b4cdee"/>
<circle cx="335.7" cy="414.4" r="3.45" fill="#b4cdee"/>
<circle cx="338.4" cy="428.6" r="3.45" fill="#b4cdee"/>
<circle cx="347.7" cy="429.9" r="3.45" fill="#b4cdee"/>
<circle cx="351.4" cy="427.4" r="3.45" fill="#b4cdee"/>
<circle cx="354.6" cy="419.4" r="3.45" fill="#b4cdee"/>
<circle cx="360.6" cy="413.2" r="3.45" fill="#b4cdee"/>
<circle cx="363.4" cy="396.9" r="3.45" fill="#b4cdee"/>
<circle cx="366.4" cy="395.7" r="3.45" fill="#b4cdee"/>
<circle cx="370.1" cy="392.5" r="3.45" fill="#b4cdee"/>
<circle cx="373.9" cy="392.5" r="3.45" fill="#b4cdee"/>
<circle cx="376.4" cy="391.2" r="3.45" fill="#b4cdee"/>
<circle cx="378.9" cy="397.4" r="3.45" fill="#b4cdee"/>
<circle cx="383.9" cy="407.4" r="3.45" fill="#b4cdee"/>
<circle cx="387.6" cy="407.4" r="3.45" fill="#b4cdee"/>
<circle cx="391.3" cy="409.9" r="3.45" fill="#b4cdee"/>
<circle cx="394.6" cy="417.4" r="3.45" fill="#b4cdee"/>
<circle cx="397.6" cy="469.8" r="3.45" fill="#b4cdee"/>
<circle cx="400.8" cy="464.8" r="3.45" fill="#b4cdee"/>
<circle cx="403.8" cy="482.8" r="3.45" fill="#b4cdee"/>
<circle cx="407.1" cy="443.1" r="3.45" fill="#b4cdee"/>
<circle cx="410.0" cy="438.6" r="3.45" fill="#b4cdee"/>
<circle cx="413.8" cy="432.4" r="3.45" fill="#b4cdee"/>
<circle cx="416.3" cy="428.6" r="3.45" fill="#b4cdee"/>
<circle cx="419.3" cy="426.9" r="3.45" fill="#b4cdee"/>
<circle cx="422.5" cy="429.9" r="3.45" fill="#b4cdee"/>
<circle cx="426.3" cy="430.6" r="3.45" fill="#b4cdee"/>
<circle cx="431.3" cy="429.9" r="3.45" fill="#b4cdee"/>
<circle cx="435.0" cy="428.6" r="3.45" fill="#b4cdee"/>
<circle cx="438.8" cy="426.9" r="3.45" fill="#b4cdee"/>
<circle cx="443.8" cy="414.4" r="3.45" fill="#b4cdee"/>
<circle cx="447.5" cy="416.2" r="3.45" fill="#b4cdee"/>
<path d="M292.70,478.20 C294.53,476.72 300.03,472.38 303.70,469.30 C307.37,466.22 311.48,462.57 314.70,459.70 C317.92,456.83 320.48,454.62 323.00,452.10 C325.52,449.58 327.75,447.00 329.80,444.60 C331.85,442.20 333.47,440.45 335.30,437.70 C337.13,434.95 338.97,431.08 340.80,428.10 C342.63,425.12 344.47,422.32 346.30,419.80 C348.13,417.28 349.73,415.17 351.80,413.00 C353.87,410.83 356.75,408.25 358.70,406.80 C360.65,405.35 361.90,404.90 363.50,404.30 C365.10,403.70 366.80,403.15 368.30,403.20 C369.80,403.25 371.12,403.77 372.50,404.60 C373.88,405.43 375.27,406.73 376.60,408.20 C377.93,409.67 378.98,411.47 380.50,413.40 C382.02,415.33 383.95,418.08 385.70,419.80 C387.45,421.52 388.80,422.17 391.00,423.70 C393.20,425.23 396.28,427.35 398.90,429.00 C401.52,430.65 404.08,432.62 406.70,433.60 C409.32,434.58 411.97,434.80 414.60,434.90 C417.23,435.00 420.08,434.75 422.50,434.20 C424.92,433.65 426.92,432.80 429.10,431.60 C431.28,430.40 433.42,428.65 435.60,427.00 C437.78,425.35 440.33,423.33 442.20,421.70 C444.07,420.07 446.03,417.95 446.80,417.20" fill="none" stroke="#16214f" stroke-width="3.35" stroke-linecap="butt" stroke-linejoin="round"/>
<text x="284.10" y="351.00" font-size="23" text-anchor="start" >d</text>
<text x="370.20" y="558.50" font-size="23" text-anchor="middle" >AET</text>
<rect x="514.7" y="360.7" width="169.70" height="150.50" fill="none" stroke="#bdbdbd" stroke-width="1.2"/>
<line x1="514.7" y1="504.50" x2="518.00" y2="504.50" stroke="#bdbdbd" stroke-width="1"/>
<text transform="translate(508.00,505.50) rotate(-90)" font-size="21.3" text-anchor="middle" >5</text>
<line x1="514.7" y1="449.90" x2="518.00" y2="449.90" stroke="#bdbdbd" stroke-width="1"/>
<text transform="translate(508.00,450.90) rotate(-90)" font-size="21.3" text-anchor="middle" >6</text>
<line x1="514.7" y1="395.30" x2="518.00" y2="395.30" stroke="#bdbdbd" stroke-width="1"/>
<text transform="translate(508.00,396.30) rotate(-90)" font-size="21.3" text-anchor="middle" >7</text>
<line x1="522.60" y1="507.90" x2="522.60" y2="511.2" stroke="#bdbdbd" stroke-width="1"/>
<text x="523.30" y="532.20" font-size="20.8" text-anchor="middle" >0</text>
<line x1="599.60" y1="507.90" x2="599.60" y2="511.2" stroke="#bdbdbd" stroke-width="1"/>
<text x="601.80" y="532.20" font-size="20.8" text-anchor="middle" >50</text>
<line x1="677.30" y1="507.90" x2="677.30" y2="511.2" stroke="#bdbdbd" stroke-width="1"/>
<circle cx="522.0" cy="455.6" r="3.45" fill="#b4cdee"/>
<circle cx="525.2" cy="447.4" r="3.45" fill="#b4cdee"/>
<circle cx="528.5" cy="443.6" r="3.45" fill="#b4cdee"/>
<circle cx="532.0" cy="437.9" r="3.45" fill="#b4cdee"/>
<circle cx="534.0" cy="421.2" r="3.45" fill="#b4cdee"/>
<circle cx="537.7" cy="409.9" r="3.45" fill="#b4cdee"/>
<circle cx="541.0" cy="407.9" r="3.45" fill="#b4cdee"/>
<circle cx="544.0" cy="412.4" r="3.45" fill="#b4cdee"/>
<circle cx="547.2" cy="409.4" r="3.45" fill="#b4cdee"/>
<circle cx="550.2" cy="399.4" r="3.45" fill="#b4cdee"/>
<circle cx="553.4" cy="385.7" r="3.45" fill="#b4cdee"/>
<circle cx="556.9" cy="383.7" r="3.45" fill="#b4cdee"/>
<circle cx="561.4" cy="383.0" r="3.45" fill="#b4cdee"/>
<circle cx="566.4" cy="381.2" r="3.45" fill="#b4cdee"/>
<circle cx="570.9" cy="379.5" r="3.45" fill="#b4cdee"/>
<circle cx="575.2" cy="382.0" r="3.45" fill="#b4cdee"/>
<circle cx="578.9" cy="378.7" r="3.45" fill="#b4cdee"/>
<circle cx="583.4" cy="378.0" r="3.45" fill="#b4cdee"/>
<circle cx="587.1" cy="377.0" r="3.45" fill="#b4cdee"/>
<circle cx="591.4" cy="381.2" r="3.45" fill="#b4cdee"/>
<circle cx="596.4" cy="385.0" r="3.45" fill="#b4cdee"/>
<circle cx="600.1" cy="387.5" r="3.45" fill="#b4cdee"/>
<circle cx="603.4" cy="388.7" r="3.45" fill="#b4cdee"/>
<circle cx="607.6" cy="387.5" r="3.45" fill="#b4cdee"/>
<circle cx="612.6" cy="385.7" r="3.45" fill="#b4cdee"/>
<circle cx="617.6" cy="385.0" r="3.45" fill="#b4cdee"/>
<circle cx="621.3" cy="385.0" r="3.45" fill="#b4cdee"/>
<circle cx="627.6" cy="380.5" r="3.45" fill="#b4cdee"/>
<circle cx="631.3" cy="383.0" r="3.45" fill="#b4cdee"/>
<circle cx="637.6" cy="385.0" r="3.45" fill="#b4cdee"/>
<circle cx="642.6" cy="382.5" r="3.45" fill="#b4cdee"/>
<circle cx="648.8" cy="382.0" r="3.45" fill="#b4cdee"/>
<circle cx="653.8" cy="383.0" r="3.45" fill="#b4cdee"/>
<circle cx="658.8" cy="383.7" r="3.45" fill="#b4cdee"/>
<circle cx="663.8" cy="386.2" r="3.45" fill="#b4cdee"/>
<circle cx="668.8" cy="387.5" r="3.45" fill="#b4cdee"/>
<circle cx="673.8" cy="388.7" r="3.45" fill="#b4cdee"/>
<circle cx="677.0" cy="395.7" r="3.45" fill="#b4cdee"/>
<circle cx="604.0" cy="389.0" r="3.45" fill="#b4cdee"/>
<circle cx="608.0" cy="390.0" r="3.45" fill="#b4cdee"/>
<circle cx="612.0" cy="389.5" r="3.45" fill="#b4cdee"/>
<circle cx="616.0" cy="388.5" r="3.45" fill="#b4cdee"/>
<circle cx="620.0" cy="387.0" r="3.45" fill="#b4cdee"/>
<circle cx="623.0" cy="385.0" r="3.45" fill="#b4cdee"/>
<circle cx="626.0" cy="380.5" r="3.45" fill="#b4cdee"/>
<circle cx="629.0" cy="379.5" r="3.45" fill="#b4cdee"/>
<circle cx="632.0" cy="381.0" r="3.45" fill="#b4cdee"/>
<circle cx="636.0" cy="383.0" r="3.45" fill="#b4cdee"/>
<circle cx="640.0" cy="382.0" r="3.45" fill="#b4cdee"/>
<circle cx="644.0" cy="380.0" r="3.45" fill="#b4cdee"/>
<circle cx="648.0" cy="379.5" r="3.45" fill="#b4cdee"/>
<circle cx="652.0" cy="380.0" r="3.45" fill="#b4cdee"/>
<circle cx="656.0" cy="381.5" r="3.45" fill="#b4cdee"/>
<circle cx="660.0" cy="383.0" r="3.45" fill="#b4cdee"/>
<circle cx="664.0" cy="385.0" r="3.45" fill="#b4cdee"/>
<circle cx="668.0" cy="386.5" r="3.45" fill="#b4cdee"/>
<circle cx="672.0" cy="388.0" r="3.45" fill="#b4cdee"/>
<circle cx="525.3" cy="447.9" r="3.45" fill="#b4cdee"/>
<circle cx="529.7" cy="444.1" r="3.45" fill="#b4cdee"/>
<circle cx="532.2" cy="438.4" r="3.45" fill="#b4cdee"/>
<circle cx="546.0" cy="410.2" r="3.45" fill="#b4cdee"/>
<circle cx="544.1" cy="414.0" r="3.45" fill="#b4cdee"/>
<circle cx="561.7" cy="383.8" r="3.45" fill="#b4cdee"/>
<circle cx="575.5" cy="382.6" r="3.45" fill="#b4cdee"/>
<path d="M521.50,453.50 C522.35,451.72 524.92,446.47 526.60,442.80 C528.28,439.13 529.72,435.47 531.60,431.50 C533.48,427.53 535.82,422.97 537.90,419.00 C539.98,415.03 542.02,411.15 544.10,407.70 C546.18,404.25 548.30,401.13 550.40,398.30 C552.50,395.47 554.60,392.87 556.70,390.70 C558.80,388.53 560.70,386.80 563.00,385.30 C565.30,383.80 568.00,382.62 570.50,381.70 C573.00,380.78 575.70,380.13 578.00,379.80 C580.30,379.47 582.20,379.45 584.30,379.70 C586.40,379.95 588.65,380.78 590.60,381.30 C592.55,381.82 593.08,382.28 596.00,382.80 C598.92,383.32 603.88,384.08 608.10,384.40 C612.32,384.72 616.92,384.75 621.30,384.70 C625.68,384.65 630.02,384.15 634.40,384.10 C638.78,384.05 643.65,384.08 647.60,384.40 C651.55,384.72 654.82,385.40 658.10,386.00 C661.38,386.60 664.13,387.33 667.30,388.00 C670.47,388.67 675.47,389.67 677.10,390.00" fill="none" stroke="#16214f" stroke-width="3.35" stroke-linecap="butt" stroke-linejoin="round"/>
<text x="514.60" y="351.00" font-size="23" text-anchor="start" >e</text>
<text x="604.00" y="558.50" font-size="23" text-anchor="middle" >Cropland</text>
<rect x="54.6" y="599.5" width="170.00" height="149.70" fill="none" stroke="#bdbdbd" stroke-width="1.2"/>
<line x1="54.6" y1="743.00" x2="57.90" y2="743.00" stroke="#bdbdbd" stroke-width="1"/>
<text transform="translate(46.30,745.00) rotate(-90)" font-size="21.3" text-anchor="middle" >5</text>
<line x1="54.6" y1="688.40" x2="57.90" y2="688.40" stroke="#bdbdbd" stroke-width="1"/>
<text transform="translate(46.30,690.40) rotate(-90)" font-size="21.3" text-anchor="middle" >6</text>
<line x1="54.6" y1="633.80" x2="57.90" y2="633.80" stroke="#bdbdbd" stroke-width="1"/>
<text transform="translate(46.30,635.80) rotate(-90)" font-size="21.3" text-anchor="middle" >7</text>
<line x1="82.10" y1="745.90" x2="82.10" y2="749.2" stroke="#bdbdbd" stroke-width="1"/>
<text x="80.90" y="770.20" font-size="20.8" text-anchor="middle" >600</text>
<line x1="139.50" y1="745.90" x2="139.50" y2="749.2" stroke="#bdbdbd" stroke-width="1"/>
<text x="140.10" y="770.20" font-size="20.8" text-anchor="middle" >1100</text>
<line x1="196.40" y1="745.90" x2="196.40" y2="749.2" stroke="#bdbdbd" stroke-width="1"/>
<text x="197.50" y="770.20" font-size="20.8" text-anchor="middle" >1600</text>
<circle cx="62.0" cy="666.4" r="3.45" fill="#b4cdee"/>
<circle cx="65.2" cy="665.9" r="3.45" fill="#b4cdee"/>
<circle cx="69.0" cy="667.6" r="3.45" fill="#b4cdee"/>
<circle cx="72.7" cy="666.4" r="3.45" fill="#b4cdee"/>
<circle cx="76.5" cy="661.4" r="3.45" fill="#b4cdee"/>
<circle cx="80.2" cy="658.9" r="3.45" fill="#b4cdee"/>
<circle cx="83.5" cy="655.9" r="3.45" fill="#b4cdee"/>
<circle cx="87.2" cy="652.7" r="3.45" fill="#b4cdee"/>
<circle cx="90.2" cy="634.0" r="3.45" fill="#b4cdee"/>
<circle cx="94.0" cy="633.4" r="3.45" fill="#b4cdee"/>
<circle cx="98.9" cy="623.2" r="3.45" fill="#b4cdee"/>
<circle cx="102.7" cy="619.0" r="3.45" fill="#b4cdee"/>
<circle cx="106.4" cy="617.7" r="3.45" fill="#b4cdee"/>
<circle cx="109.4" cy="620.2" r="3.45" fill="#b4cdee"/>
<circle cx="111.9" cy="636.0" r="3.45" fill="#b4cdee"/>
<circle cx="114.7" cy="642.7" r="3.45" fill="#b4cdee"/>
<circle cx="118.4" cy="643.2" r="3.45" fill="#b4cdee"/>
<circle cx="121.4" cy="646.4" r="3.45" fill="#b4cdee"/>
<circle cx="125.1" cy="643.2" r="3.45" fill="#b4cdee"/>
<circle cx="127.6" cy="645.2" r="3.45" fill="#b4cdee"/>
<circle cx="130.1" cy="630.2" r="3.45" fill="#b4cdee"/>
<circle cx="133.9" cy="631.0" r="3.45" fill="#b4cdee"/>
<circle cx="137.6" cy="631.5" r="3.45" fill="#b4cdee"/>
<circle cx="140.1" cy="636.0" r="3.45" fill="#b4cdee"/>
<circle cx="142.6" cy="630.2" r="3.45" fill="#b4cdee"/>
<circle cx="146.4" cy="629.0" r="3.45" fill="#b4cdee"/>
<circle cx="150.1" cy="631.0" r="3.45" fill="#b4cdee"/>
<circle cx="153.9" cy="632.7" r="3.45" fill="#b4cdee"/>
<circle cx="156.8" cy="637.7" r="3.45" fill="#b4cdee"/>
<circle cx="160.1" cy="641.9" r="3.45" fill="#b4cdee"/>
<circle cx="163.8" cy="644.7" r="3.45" fill="#b4cdee"/>
<circle cx="168.8" cy="643.9" r="3.45" fill="#b4cdee"/>
<circle cx="172.6" cy="643.4" r="3.45" fill="#b4cdee"/>
<circle cx="176.3" cy="644.7" r="3.45" fill="#b4cdee"/>
<circle cx="180.1" cy="647.7" r="3.45" fill="#b4cdee"/>
<circle cx="182.6" cy="653.9" r="3.45" fill="#b4cdee"/>
<circle cx="186.3" cy="656.4" r="3.45" fill="#b4cdee"/>
<circle cx="190.0" cy="658.9" r="3.45" fill="#b4cdee"/>
<circle cx="192.5" cy="662.6" r="3.45" fill="#b4cdee"/>
<circle cx="195.5" cy="673.4" r="3.45" fill="#b4cdee"/>
<circle cx="198.3" cy="666.4" r="3.45" fill="#b4cdee"/>
<circle cx="201.3" cy="662.6" r="3.45" fill="#b4cdee"/>
<circle cx="203.8" cy="660.2" r="3.45" fill="#b4cdee"/>
<circle cx="208.0" cy="648.9" r="3.45" fill="#b4cdee"/>
<circle cx="211.3" cy="654.4" r="3.45" fill="#b4cdee"/>
<circle cx="214.3" cy="656.4" r="3.45" fill="#b4cdee"/>
<circle cx="217.5" cy="655.2" r="3.45" fill="#b4cdee"/>
<path d="M62.40,673.50 C63.43,672.22 66.52,668.32 68.60,665.80 C70.68,663.28 72.82,660.77 74.90,658.40 C76.98,656.03 79.03,653.72 81.10,651.60 C83.17,649.48 85.23,647.47 87.30,645.70 C89.37,643.93 91.43,642.50 93.50,641.00 C95.57,639.50 97.63,637.83 99.70,636.70 C101.77,635.57 103.63,634.93 105.90,634.20 C108.17,633.47 110.82,632.67 113.30,632.30 C115.78,631.93 118.32,632.00 120.80,632.00 C123.28,632.00 125.92,631.97 128.20,632.30 C130.48,632.63 131.62,633.32 134.50,634.00 C137.38,634.68 141.92,635.73 145.50,636.40 C149.08,637.07 152.93,637.18 156.00,638.00 C159.07,638.82 161.27,639.98 163.90,641.30 C166.53,642.62 169.17,644.55 171.80,645.90 C174.43,647.25 177.07,648.32 179.70,649.40 C182.33,650.48 184.98,651.38 187.60,652.40 C190.22,653.42 192.78,654.55 195.40,655.50 C198.02,656.45 200.67,657.33 203.30,658.10 C205.93,658.87 208.90,659.58 211.20,660.10 C213.50,660.62 216.12,661.02 217.10,661.20" fill="none" stroke="#16214f" stroke-width="3.35" stroke-linecap="butt" stroke-linejoin="round"/>
<text x="56.00" y="583.80" font-size="23" text-anchor="start" >f</text>
<text x="137.50" y="798.40" font-size="22" text-anchor="middle" >PET</text>
<rect x="284.5" y="599.5" width="170.10" height="149.70" fill="none" stroke="#bdbdbd" stroke-width="1.2"/>
<line x1="284.5" y1="743.00" x2="287.80" y2="743.00" stroke="#bdbdbd" stroke-width="1"/>
<text transform="translate(276.90,743.60) rotate(-90)" font-size="21.3" text-anchor="middle" >5</text>
<line x1="284.5" y1="688.40" x2="287.80" y2="688.40" stroke="#bdbdbd" stroke-width="1"/>
<text transform="translate(276.90,689.00) rotate(-90)" font-size="21.3" text-anchor="middle" >6</text>
<line x1="284.5" y1="633.80" x2="287.80" y2="633.80" stroke="#bdbdbd" stroke-width="1"/>
<text transform="translate(276.90,634.40) rotate(-90)" font-size="21.3" text-anchor="middle" >7</text>
<line x1="292.40" y1="745.90" x2="292.40" y2="749.2" stroke="#bdbdbd" stroke-width="1"/>
<text x="289.80" y="770.20" font-size="20.8" text-anchor="middle" >0</text>
<line x1="360.20" y1="745.90" x2="360.20" y2="749.2" stroke="#bdbdbd" stroke-width="1"/>
<text x="361.00" y="770.20" font-size="20.8" text-anchor="middle" >1500</text>
<line x1="427.60" y1="745.90" x2="427.60" y2="749.2" stroke="#bdbdbd" stroke-width="1"/>
<text x="427.90" y="770.20" font-size="20.8" text-anchor="middle" >3000</text>
<circle cx="292.2" cy="644.7" r="3.45" fill="#b4cdee"/>
<circle cx="295.2" cy="660.2" r="3.45" fill="#b4cdee"/>
<circle cx="298.5" cy="665.9" r="3.45" fill="#b4cdee"/>
<circle cx="301.5" cy="660.2" r="3.45" fill="#b4cdee"/>
<circle cx="304.5" cy="657.7" r="3.45" fill="#b4cdee"/>
<circle cx="308.0" cy="664.4" r="3.45" fill="#b4cdee"/>
<circle cx="311.0" cy="652.7" r="3.45" fill="#b4cdee"/>
<circle cx="314.0" cy="648.9" r="3.45" fill="#b4cdee"/>
<circle cx="317.7" cy="647.2" r="3.45" fill="#b4cdee"/>
<circle cx="320.9" cy="652.7" r="3.45" fill="#b4cdee"/>
<circle cx="323.9" cy="651.9" r="3.45" fill="#b4cdee"/>
<circle cx="326.9" cy="653.4" r="3.45" fill="#b4cdee"/>
<circle cx="330.2" cy="655.2" r="3.45" fill="#b4cdee"/>
<circle cx="335.2" cy="659.7" r="3.45" fill="#b4cdee"/>
<circle cx="338.9" cy="665.2" r="3.45" fill="#b4cdee"/>
<circle cx="342.2" cy="657.2" r="3.45" fill="#b4cdee"/>
<circle cx="345.2" cy="671.9" r="3.45" fill="#b4cdee"/>
<circle cx="348.4" cy="688.4" r="3.45" fill="#b4cdee"/>
<circle cx="350.9" cy="694.4" r="3.45" fill="#b4cdee"/>
<circle cx="353.9" cy="695.1" r="3.45" fill="#b4cdee"/>
<circle cx="357.6" cy="692.1" r="3.45" fill="#b4cdee"/>
<circle cx="360.9" cy="691.4" r="3.45" fill="#b4cdee"/>
<circle cx="363.9" cy="692.6" r="3.45" fill="#b4cdee"/>
<circle cx="367.1" cy="693.9" r="3.45" fill="#b4cdee"/>
<circle cx="370.1" cy="719.3" r="3.45" fill="#b4cdee"/>
<circle cx="373.1" cy="719.3" r="3.45" fill="#b4cdee"/>
<circle cx="376.4" cy="713.8" r="3.45" fill="#b4cdee"/>
<circle cx="380.1" cy="712.6" r="3.45" fill="#b4cdee"/>
<circle cx="383.9" cy="711.3" r="3.45" fill="#b4cdee"/>
<circle cx="375.5" cy="713.6" r="3.45" fill="#b4cdee"/>
<circle cx="378.0" cy="713.0" r="3.45" fill="#b4cdee"/>
<circle cx="380.8" cy="712.3" r="3.45" fill="#b4cdee"/>
<circle cx="384.0" cy="711.0" r="3.45" fill="#b4cdee"/>
<circle cx="388.7" cy="708.4" r="3.45" fill="#b4cdee"/>
<circle cx="392.0" cy="708.0" r="3.45" fill="#b4cdee"/>
<circle cx="395.2" cy="707.7" r="3.45" fill="#b4cdee"/>
<circle cx="398.0" cy="707.6" r="3.45" fill="#b4cdee"/>
<circle cx="401.0" cy="707.3" r="3.45" fill="#b4cdee"/>
<circle cx="404.4" cy="707.1" r="3.45" fill="#b4cdee"/>
<circle cx="408.0" cy="706.8" r="3.45" fill="#b4cdee"/>
<circle cx="411.0" cy="706.6" r="3.45" fill="#b4cdee"/>
<circle cx="414.9" cy="706.4" r="3.45" fill="#b4cdee"/>
<circle cx="418.0" cy="706.0" r="3.45" fill="#b4cdee"/>
<circle cx="421.0" cy="705.7" r="3.45" fill="#b4cdee"/>
<circle cx="424.1" cy="705.5" r="3.45" fill="#b4cdee"/>
<circle cx="427.0" cy="705.3" r="3.45" fill="#b4cdee"/>
<circle cx="430.0" cy="705.2" r="3.45" fill="#b4cdee"/>
<circle cx="433.3" cy="705.1" r="3.45" fill="#b4cdee"/>
<circle cx="436.0" cy="705.3" r="3.45" fill="#b4cdee"/>
<circle cx="439.0" cy="705.5" r="3.45" fill="#b4cdee"/>
<circle cx="441.2" cy="705.8" r="3.45" fill="#b4cdee"/>
<circle cx="444.5" cy="706.7" r="3.45" fill="#b4cdee"/>
<circle cx="447.8" cy="707.7" r="3.45" fill="#b4cdee"/>
<circle cx="371.6" cy="718.9" r="3.45" fill="#b4cdee"/>
<circle cx="367.6" cy="693.3" r="3.45" fill="#b4cdee"/>
<path d="M292.90,656.00 C294.00,655.73 297.32,654.72 299.50,654.40 C301.68,654.08 303.82,654.05 306.00,654.10 C308.18,654.15 310.40,654.20 312.60,654.70 C314.80,655.20 317.02,656.18 319.20,657.10 C321.38,658.02 323.52,658.88 325.70,660.20 C327.88,661.52 330.10,663.07 332.30,665.00 C334.50,666.93 336.72,669.35 338.90,671.80 C341.08,674.25 343.22,677.18 345.40,679.70 C347.58,682.22 349.80,684.38 352.00,686.90 C354.20,689.42 356.43,692.42 358.60,694.80 C360.77,697.18 362.93,699.33 365.00,701.20 C367.07,703.07 369.03,704.70 371.00,706.00 C372.97,707.30 374.52,708.10 376.80,709.00 C379.08,709.90 381.63,710.80 384.70,711.40 C387.77,712.00 391.48,712.48 395.20,712.60 C398.92,712.72 403.27,712.37 407.00,712.10 C410.73,711.83 414.08,711.45 417.60,711.00 C421.12,710.55 424.60,710.05 428.10,709.40 C431.60,708.75 435.43,707.82 438.60,707.10 C441.77,706.38 445.68,705.43 447.10,705.10" fill="none" stroke="#16214f" stroke-width="3.35" stroke-linecap="butt" stroke-linejoin="round"/>
<text x="283.30" y="582.60" font-size="23" text-anchor="start" >g</text>
<text x="370.00" y="798.40" font-size="22.3" text-anchor="middle" >LSR</text>
<text transform="translate(15.2,436.8) rotate(-90)" font-size="21" text-anchor="middle">log(predicted MPs)</text>
<text transform="translate(15.2,675.1) rotate(-90)" font-size="21" text-anchor="middle">log(predicted MPs)</text>
</svg></body></html>
